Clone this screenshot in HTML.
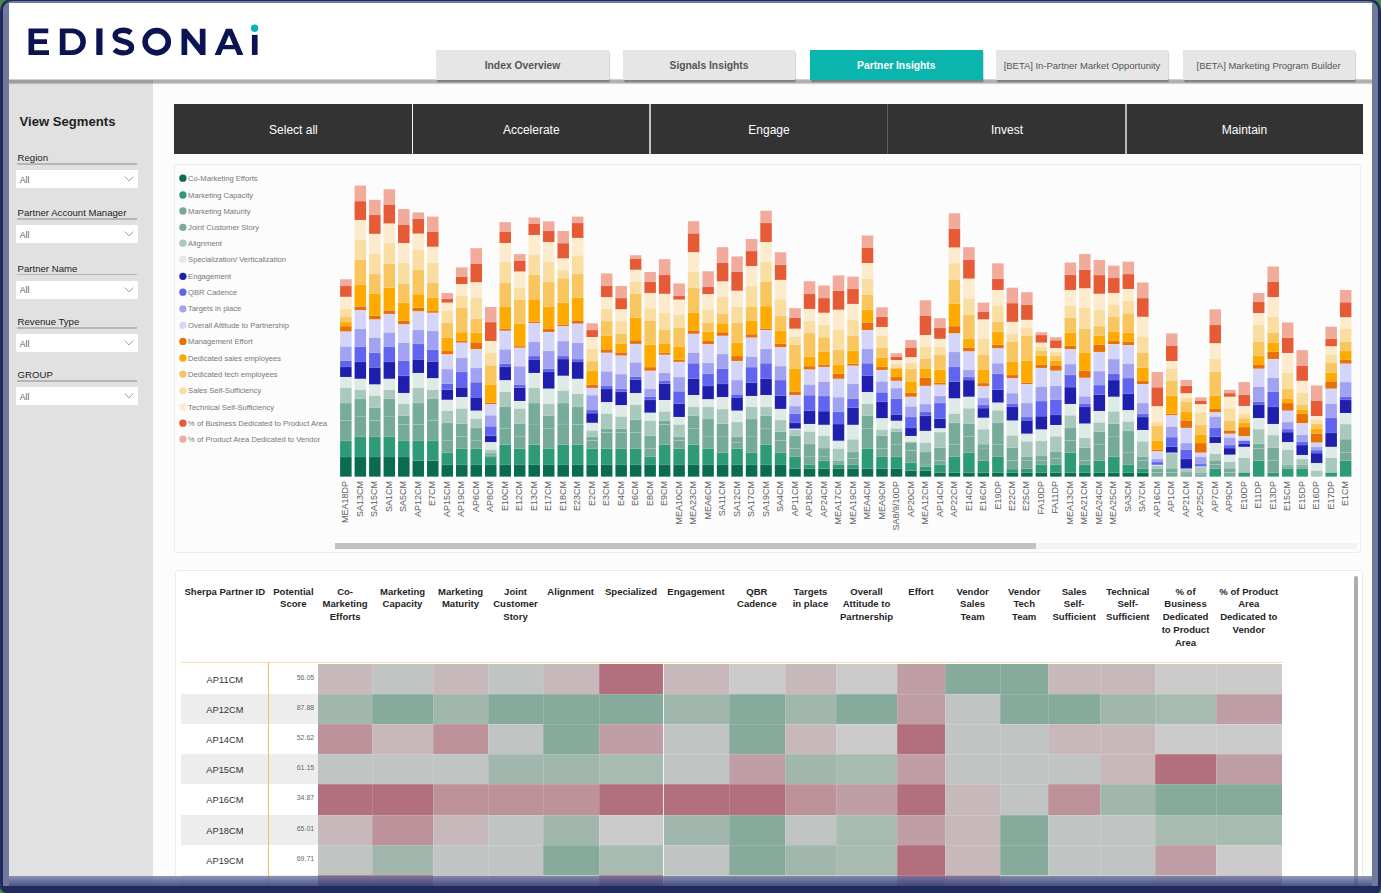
<!DOCTYPE html><html><head><meta charset="utf-8"><title>Partner Insights</title><style>
*{box-sizing:border-box}
html,body{margin:0;padding:0}
body{width:1381px;height:893px;position:relative;overflow:hidden;background:#4b8a46;font-family:"Liberation Sans",sans-serif}
.abs{position:absolute}
.tab{position:absolute;top:50px;height:30px;background:#e6e6e6;box-shadow:1.4px 2px 1.6px rgba(0,0,0,.34);text-align:center;line-height:31.4px;color:#555;white-space:nowrap}
.tab.b{font-weight:bold;font-size:10.3px}
.tab.n{font-size:9.45px;color:#555}
.lbl{position:absolute;left:17.6px;font-size:9.6px;color:#222;white-space:nowrap}
.ln{position:absolute;left:17px;width:120px;height:1.7px;background:#b6b6b6}
.dd{position:absolute;left:15.5px;width:122.6px;height:18.5px;background:#fff}
.dd span{position:absolute;left:4.2px;top:5.9px;font-size:8.7px;color:#606060;line-height:1}
.seg{position:absolute;top:103.6px;height:50.6px;color:#fff;font-size:12px;text-align:center;line-height:52px}
.lgd{position:absolute;width:7.3px;height:7.3px;border-radius:50%}
.lgt{font-size:7.6px;fill:#777;font-family:"Liberation Sans",sans-serif}
.xl{font-size:9.0px;fill:#5c5c5c;font-family:"Liberation Sans",sans-serif}
.th{position:absolute;width:120px;text-align:center;font-weight:bold;font-size:9.55px;color:#252525;white-space:nowrap;line-height:12.7px}
.pid{position:absolute;text-align:center;font-size:9.3px;color:#333;line-height:10px}
.sc{position:absolute;text-align:right;font-size:7px;color:#666;line-height:10px}
</style></head><body>
<div class="abs" style="left:0;top:0;width:1381px;height:893px;background:#212a5e;border-radius:8px 8px 5px 10px / 12px 12px 10px 10px"></div>
<div class="abs" style="left:3px;top:1px;width:1375px;height:886px;background:#727a9c;border-radius:9px 9px 6px 6px"></div>
<div class="abs" style="left:9px;top:3px;width:1363px;height:884px;background:#fcfcfc"></div>
<div class="abs" style="left:9px;top:80px;width:144px;height:807px;background:#e1e1e1"></div>
<div class="abs" style="left:9px;top:3px;width:1363px;height:77px;background:#fff"></div>
<div class="abs" style="left:9px;top:79.3px;width:1363px;height:5.6px;background:linear-gradient(to bottom,rgba(0,0,0,0) 0%,rgba(0,0,0,.3) 14%,rgba(0,0,0,.3) 62%,rgba(0,0,0,.06) 85%,rgba(0,0,0,0) 100%)"></div>
<svg style="position:absolute;left:0;top:0" width="300" height="80" viewBox="0 0 300 80">
<g fill="#0b1450">
<path d="M28.5 28.4H48.3V33.2H34.2V39.3H47.0V43.9H34.2V50.2H49.0V55.0H28.5Z"/>
<path fill-rule="evenodd" d="M59.8 28.4H72.4A13.5 13.3 0 0 1 72.4 55.0H59.8ZM65.5 33.2V50.2H72.1A8.3 8.5 0 0 0 72.1 33.2Z"/>
<rect x="96.3" y="28.4" width="6.2" height="26.6"/>
<path d="M181.5 28.7H186.6L199.8 45.0V28.7H205.5V54.9H200.4L187.2 38.6V54.9H181.5Z"/>
<path fill-rule="evenodd" d="M226.0 28.7H232.1L243.4 54.9H237.3L235.0 49.3H223.0L220.7 54.9H214.6ZM229.0 35.0L224.9 44.9H233.1Z"/>
<rect x="251.9" y="34.9" width="5.7" height="20.0"/>
</g>
<ellipse cx="156.7" cy="41.75" rx="11.6" ry="11.1" fill="none" stroke="#0b1450" stroke-width="5.6"/>
<path d="M131.0 32.9C128.9 31.2 126.3 30.3 123.4 30.3C118.4 30.3 115.2 32.4 115.2 35.6C115.2 43.1 131.5 39.6 131.5 47.4C131.5 50.7 128.3 52.9 123.3 52.9C119.7 52.9 116.5 51.6 114.4 49.6" fill="none" stroke="#0b1450" stroke-width="5.4" stroke-linejoin="round"/>
<circle cx="254.6" cy="28.3" r="3.7" fill="#0db4ad"/>
</svg>
<div class="tab b" style="left:436px;width:173px;">Index Overview</div>
<div class="tab b" style="left:623px;width:172px;">Signals Insights</div>
<div class="tab b" style="left:810px;width:172.6px;background:#0ab5ad;color:#fff;">Partner Insights</div>
<div class="tab n" style="left:996px;width:172px;">[BETA] In-Partner Market Opportunity</div>
<div class="tab n" style="left:1182.6px;width:172px;">[BETA] Marketing Program Builder</div>
<div class="abs" style="left:19.6px;top:113.5px;font-size:13.1px;font-weight:bold;color:#1f1f1f;white-space:nowrap;line-height:15px">View Segments</div>
<div class="lbl" style="top:151.8px;line-height:11px">Region</div>
<div class="ln" style="top:163.0px"></div>
<div class="dd" style="top:169.7px"><span>All</span><svg style="position:absolute;right:4.2px;top:5.6px" width="10" height="8" viewBox="0 0 10 8"><path d="M0.8 1.5L5 5.9L9.2 1.5" fill="none" stroke="#909090" stroke-width="0.9"/></svg></div>
<div class="lbl" style="top:206.7px;line-height:11px">Partner Account Manager</div>
<div class="ln" style="top:217.9px"></div>
<div class="dd" style="top:224.7px"><span>All</span><svg style="position:absolute;right:4.2px;top:5.6px" width="10" height="8" viewBox="0 0 10 8"><path d="M0.8 1.5L5 5.9L9.2 1.5" fill="none" stroke="#909090" stroke-width="0.9"/></svg></div>
<div class="lbl" style="top:262.8px;line-height:11px">Partner Name</div>
<div class="ln" style="top:273.5px"></div>
<div class="dd" style="top:280.5px"><span>All</span><svg style="position:absolute;right:4.2px;top:5.6px" width="10" height="8" viewBox="0 0 10 8"><path d="M0.8 1.5L5 5.9L9.2 1.5" fill="none" stroke="#909090" stroke-width="0.9"/></svg></div>
<div class="lbl" style="top:316.2px;line-height:11px">Revenue Type</div>
<div class="ln" style="top:327.0px"></div>
<div class="dd" style="top:333.7px"><span>All</span><svg style="position:absolute;right:4.2px;top:5.6px" width="10" height="8" viewBox="0 0 10 8"><path d="M0.8 1.5L5 5.9L9.2 1.5" fill="none" stroke="#909090" stroke-width="0.9"/></svg></div>
<div class="lbl" style="top:368.7px;line-height:11px">GROUP</div>
<div class="ln" style="top:380.3px"></div>
<div class="dd" style="top:386.7px"><span>All</span><svg style="position:absolute;right:4.2px;top:5.6px" width="10" height="8" viewBox="0 0 10 8"><path d="M0.8 1.5L5 5.9L9.2 1.5" fill="none" stroke="#909090" stroke-width="0.9"/></svg></div>
<div class="abs" style="left:174.4px;top:103.6px;width:1188.6px;height:50.7px;background:#333"></div>
<div class="seg" style="left:174.4px;width:238.1px">Select all</div>
<div class="seg" style="left:412.5px;width:237.5px">Accelerate</div>
<div class="seg" style="left:650.0px;width:238.0px">Engage</div>
<div class="seg" style="left:888.0px;width:238.0px">Invest</div>
<div class="seg" style="left:1126.0px;width:237.0px">Maintain</div>
<div class="abs" style="left:411.9px;top:103.6px;width:1.3px;height:50.7px;background:#f4f4f4"></div>
<div class="abs" style="left:649.2px;top:103.6px;width:1.6px;height:50.7px;background:#c4c4c4"></div>
<div class="abs" style="left:887.4px;top:103.6px;width:1.1px;height:50.7px;background:#5e5e5e"></div>
<div class="abs" style="left:1125.4px;top:103.6px;width:1.2px;height:50.7px;background:#b8b8b8"></div>
<div class="abs" style="left:174px;top:164.3px;width:1187px;height:388.5px;border:1px solid #ececec;border-radius:3px;background:#fcfcfc"></div>
<svg style="position:absolute;left:0;top:0" width="1381" height="893" viewBox="0 0 1381 893">
<circle cx="182.9" cy="178.20" r="3.65" fill="#0b6b4e"/>
<text x="188.1" y="180.80" class="lgt">Co-Marketing Efforts</text>
<circle cx="182.9" cy="195.00" r="3.65" fill="#2e9a77"/>
<text x="188.1" y="197.60" class="lgt">Marketing Capacity</text>
<circle cx="182.9" cy="211.00" r="3.65" fill="#76aa98"/>
<text x="188.1" y="213.60" class="lgt">Marketing Maturity</text>
<circle cx="182.9" cy="227.30" r="3.65" fill="#78ac9a"/>
<text x="188.1" y="229.90" class="lgt">Joint Customer Story</text>
<circle cx="182.9" cy="243.20" r="3.65" fill="#a9c9bd"/>
<text x="188.1" y="245.80" class="lgt">Alignment</text>
<circle cx="182.9" cy="259.20" r="3.65" fill="#deeae6"/>
<text x="188.1" y="261.80" class="lgt">Specialization/ Verticalization</text>
<circle cx="182.9" cy="276.30" r="3.65" fill="#1f1fae"/>
<text x="188.1" y="278.90" class="lgt">Engagement</text>
<circle cx="182.9" cy="292.20" r="3.65" fill="#6064ee"/>
<text x="188.1" y="294.80" class="lgt">QBR Cadence</text>
<circle cx="182.9" cy="308.80" r="3.65" fill="#a2a2f2"/>
<text x="188.1" y="311.40" class="lgt">Targets in place</text>
<circle cx="182.9" cy="325.30" r="3.65" fill="#d5d5fa"/>
<text x="188.1" y="327.90" class="lgt">Overall Attitude to Partnership</text>
<circle cx="182.9" cy="341.40" r="3.65" fill="#e87005"/>
<text x="188.1" y="344.00" class="lgt">Management Effort</text>
<circle cx="182.9" cy="358.00" r="3.65" fill="#ffaa00"/>
<text x="188.1" y="360.60" class="lgt">Dedicated sales employees</text>
<circle cx="182.9" cy="374.10" r="3.65" fill="#f8c55e"/>
<text x="188.1" y="376.70" class="lgt">Dedicated tech employees</text>
<circle cx="182.9" cy="390.80" r="3.65" fill="#faDDa0"/>
<text x="188.1" y="393.40" class="lgt">Sales Self-Sufficiency</text>
<circle cx="182.9" cy="406.90" r="3.65" fill="#fcebcc"/>
<text x="188.1" y="409.50" class="lgt">Technical Self-Sufficiency</text>
<circle cx="182.9" cy="423.20" r="3.65" fill="#e65a35"/>
<text x="188.1" y="425.80" class="lgt">% of Business Dedicated to Product Area</text>
<circle cx="182.9" cy="439.10" r="3.65" fill="#f2aa9a"/>
<text x="188.1" y="441.70" class="lgt">% of Product Area Dedicated to Vendor</text>
</svg>
<svg style="position:absolute;left:0;top:0" width="1381" height="893" viewBox="0 0 1381 893">
<rect x="340.10" y="279.29" width="11.5" height="6.55" fill="#f2aa9a"/>
<rect x="340.10" y="285.84" width="11.5" height="11.09" fill="#e65a35"/>
<rect x="340.10" y="296.92" width="11.5" height="12.09" fill="#fcebcc"/>
<rect x="340.10" y="309.02" width="11.5" height="8.06" fill="#faDDa0"/>
<rect x="340.10" y="317.08" width="11.5" height="4.87" fill="#f8c55e"/>
<rect x="340.10" y="321.95" width="11.5" height="4.20" fill="#ffaa00"/>
<rect x="340.10" y="326.15" width="11.5" height="5.54" fill="#e87005"/>
<rect x="340.10" y="331.70" width="11.5" height="14.78" fill="#d5d5fa"/>
<rect x="340.10" y="346.48" width="11.5" height="14.28" fill="#a2a2f2"/>
<rect x="340.10" y="360.75" width="11.5" height="6.22" fill="#6064ee"/>
<rect x="340.10" y="366.97" width="11.5" height="10.08" fill="#1f1fae"/>
<rect x="340.10" y="377.05" width="11.5" height="10.92" fill="#deeae6"/>
<rect x="340.10" y="387.97" width="11.5" height="15.12" fill="#a9c9bd"/>
<rect x="340.10" y="403.08" width="11.5" height="17.30" fill="#78ac9a"/>
<rect x="340.10" y="420.39" width="11.5" height="20.49" fill="#76aa98"/>
<rect x="340.10" y="440.88" width="11.5" height="16.13" fill="#2e9a77"/>
<rect x="340.10" y="457.00" width="11.5" height="19.65" fill="#0b6b4e"/>
<rect x="340.10" y="285.54" width="11.5" height="0.6" fill="#fff" opacity=".2"/>
<rect x="340.10" y="296.62" width="11.5" height="0.6" fill="#fff" opacity=".2"/>
<rect x="340.10" y="308.72" width="11.5" height="0.6" fill="#fff" opacity=".2"/>
<rect x="340.10" y="316.78" width="11.5" height="0.6" fill="#fff" opacity=".2"/>
<rect x="340.10" y="321.65" width="11.5" height="0.6" fill="#fff" opacity=".2"/>
<rect x="340.10" y="325.85" width="11.5" height="0.6" fill="#fff" opacity=".2"/>
<rect x="340.10" y="331.40" width="11.5" height="0.6" fill="#fff" opacity=".2"/>
<rect x="340.10" y="346.18" width="11.5" height="0.6" fill="#fff" opacity=".2"/>
<rect x="340.10" y="360.45" width="11.5" height="0.6" fill="#fff" opacity=".2"/>
<rect x="340.10" y="366.67" width="11.5" height="0.6" fill="#fff" opacity=".2"/>
<rect x="340.10" y="376.75" width="11.5" height="0.6" fill="#fff" opacity=".2"/>
<rect x="340.10" y="387.67" width="11.5" height="0.6" fill="#fff" opacity=".2"/>
<rect x="340.10" y="402.78" width="11.5" height="0.6" fill="#fff" opacity=".2"/>
<rect x="340.10" y="420.09" width="11.5" height="0.6" fill="#fff" opacity=".2"/>
<rect x="340.10" y="440.58" width="11.5" height="0.6" fill="#fff" opacity=".2"/>
<rect x="340.10" y="456.70" width="11.5" height="0.6" fill="#fff" opacity=".2"/>
<rect x="354.59" y="185.56" width="11.5" height="15.62" fill="#f2aa9a"/>
<rect x="354.59" y="201.18" width="11.5" height="18.81" fill="#e65a35"/>
<rect x="354.59" y="219.99" width="11.5" height="19.82" fill="#fcebcc"/>
<rect x="354.59" y="239.81" width="11.5" height="20.16" fill="#faDDa0"/>
<rect x="354.59" y="259.97" width="11.5" height="24.69" fill="#f8c55e"/>
<rect x="354.59" y="284.66" width="11.5" height="21.84" fill="#ffaa00"/>
<rect x="354.59" y="306.50" width="11.5" height="3.86" fill="#e87005"/>
<rect x="354.59" y="310.36" width="11.5" height="18.48" fill="#d5d5fa"/>
<rect x="354.59" y="328.84" width="11.5" height="17.97" fill="#a2a2f2"/>
<rect x="354.59" y="346.81" width="11.5" height="15.12" fill="#6064ee"/>
<rect x="354.59" y="361.93" width="11.5" height="16.97" fill="#1f1fae"/>
<rect x="354.59" y="378.90" width="11.5" height="10.92" fill="#deeae6"/>
<rect x="354.59" y="389.81" width="11.5" height="9.07" fill="#a9c9bd"/>
<rect x="354.59" y="398.88" width="11.5" height="17.30" fill="#78ac9a"/>
<rect x="354.59" y="416.19" width="11.5" height="20.66" fill="#76aa98"/>
<rect x="354.59" y="436.85" width="11.5" height="20.16" fill="#2e9a77"/>
<rect x="354.59" y="457.00" width="11.5" height="19.65" fill="#0b6b4e"/>
<rect x="354.59" y="200.88" width="11.5" height="0.6" fill="#fff" opacity=".2"/>
<rect x="354.59" y="219.69" width="11.5" height="0.6" fill="#fff" opacity=".2"/>
<rect x="354.59" y="239.51" width="11.5" height="0.6" fill="#fff" opacity=".2"/>
<rect x="354.59" y="259.67" width="11.5" height="0.6" fill="#fff" opacity=".2"/>
<rect x="354.59" y="284.36" width="11.5" height="0.6" fill="#fff" opacity=".2"/>
<rect x="354.59" y="306.20" width="11.5" height="0.6" fill="#fff" opacity=".2"/>
<rect x="354.59" y="310.06" width="11.5" height="0.6" fill="#fff" opacity=".2"/>
<rect x="354.59" y="328.54" width="11.5" height="0.6" fill="#fff" opacity=".2"/>
<rect x="354.59" y="346.51" width="11.5" height="0.6" fill="#fff" opacity=".2"/>
<rect x="354.59" y="361.63" width="11.5" height="0.6" fill="#fff" opacity=".2"/>
<rect x="354.59" y="378.60" width="11.5" height="0.6" fill="#fff" opacity=".2"/>
<rect x="354.59" y="389.51" width="11.5" height="0.6" fill="#fff" opacity=".2"/>
<rect x="354.59" y="398.58" width="11.5" height="0.6" fill="#fff" opacity=".2"/>
<rect x="354.59" y="415.89" width="11.5" height="0.6" fill="#fff" opacity=".2"/>
<rect x="354.59" y="436.55" width="11.5" height="0.6" fill="#fff" opacity=".2"/>
<rect x="354.59" y="456.70" width="11.5" height="0.6" fill="#fff" opacity=".2"/>
<rect x="369.08" y="199.84" width="11.5" height="15.12" fill="#f2aa9a"/>
<rect x="369.08" y="214.95" width="11.5" height="18.98" fill="#e65a35"/>
<rect x="369.08" y="233.94" width="11.5" height="19.99" fill="#fcebcc"/>
<rect x="369.08" y="253.92" width="11.5" height="20.16" fill="#faDDa0"/>
<rect x="369.08" y="274.08" width="11.5" height="19.48" fill="#f8c55e"/>
<rect x="369.08" y="293.57" width="11.5" height="22.17" fill="#ffaa00"/>
<rect x="369.08" y="315.74" width="11.5" height="3.86" fill="#e87005"/>
<rect x="369.08" y="319.60" width="11.5" height="18.14" fill="#d5d5fa"/>
<rect x="369.08" y="337.74" width="11.5" height="14.95" fill="#a2a2f2"/>
<rect x="369.08" y="352.69" width="11.5" height="14.78" fill="#6064ee"/>
<rect x="369.08" y="367.47" width="11.5" height="17.13" fill="#1f1fae"/>
<rect x="369.08" y="384.61" width="11.5" height="11.09" fill="#deeae6"/>
<rect x="369.08" y="395.69" width="11.5" height="12.09" fill="#a9c9bd"/>
<rect x="369.08" y="407.79" width="11.5" height="12.60" fill="#78ac9a"/>
<rect x="369.08" y="420.39" width="11.5" height="16.46" fill="#76aa98"/>
<rect x="369.08" y="436.85" width="11.5" height="20.16" fill="#2e9a77"/>
<rect x="369.08" y="457.00" width="11.5" height="19.65" fill="#0b6b4e"/>
<rect x="369.08" y="214.65" width="11.5" height="0.6" fill="#fff" opacity=".2"/>
<rect x="369.08" y="233.64" width="11.5" height="0.6" fill="#fff" opacity=".2"/>
<rect x="369.08" y="253.62" width="11.5" height="0.6" fill="#fff" opacity=".2"/>
<rect x="369.08" y="273.78" width="11.5" height="0.6" fill="#fff" opacity=".2"/>
<rect x="369.08" y="293.27" width="11.5" height="0.6" fill="#fff" opacity=".2"/>
<rect x="369.08" y="315.44" width="11.5" height="0.6" fill="#fff" opacity=".2"/>
<rect x="369.08" y="319.30" width="11.5" height="0.6" fill="#fff" opacity=".2"/>
<rect x="369.08" y="337.44" width="11.5" height="0.6" fill="#fff" opacity=".2"/>
<rect x="369.08" y="352.39" width="11.5" height="0.6" fill="#fff" opacity=".2"/>
<rect x="369.08" y="367.17" width="11.5" height="0.6" fill="#fff" opacity=".2"/>
<rect x="369.08" y="384.31" width="11.5" height="0.6" fill="#fff" opacity=".2"/>
<rect x="369.08" y="395.39" width="11.5" height="0.6" fill="#fff" opacity=".2"/>
<rect x="369.08" y="407.49" width="11.5" height="0.6" fill="#fff" opacity=".2"/>
<rect x="369.08" y="420.09" width="11.5" height="0.6" fill="#fff" opacity=".2"/>
<rect x="369.08" y="436.55" width="11.5" height="0.6" fill="#fff" opacity=".2"/>
<rect x="369.08" y="456.70" width="11.5" height="0.6" fill="#fff" opacity=".2"/>
<rect x="383.57" y="189.25" width="11.5" height="15.29" fill="#f2aa9a"/>
<rect x="383.57" y="204.54" width="11.5" height="19.15" fill="#e65a35"/>
<rect x="383.57" y="223.69" width="11.5" height="19.48" fill="#fcebcc"/>
<rect x="383.57" y="243.17" width="11.5" height="20.83" fill="#faDDa0"/>
<rect x="383.57" y="264.00" width="11.5" height="23.68" fill="#f8c55e"/>
<rect x="383.57" y="287.69" width="11.5" height="22.68" fill="#ffaa00"/>
<rect x="383.57" y="310.36" width="11.5" height="3.70" fill="#e87005"/>
<rect x="383.57" y="314.06" width="11.5" height="18.48" fill="#d5d5fa"/>
<rect x="383.57" y="332.54" width="11.5" height="14.28" fill="#a2a2f2"/>
<rect x="383.57" y="346.81" width="11.5" height="15.12" fill="#6064ee"/>
<rect x="383.57" y="361.93" width="11.5" height="16.97" fill="#1f1fae"/>
<rect x="383.57" y="378.90" width="11.5" height="10.92" fill="#deeae6"/>
<rect x="383.57" y="389.81" width="11.5" height="9.07" fill="#a9c9bd"/>
<rect x="383.57" y="398.88" width="11.5" height="17.30" fill="#78ac9a"/>
<rect x="383.57" y="416.19" width="11.5" height="20.66" fill="#76aa98"/>
<rect x="383.57" y="436.85" width="11.5" height="20.16" fill="#2e9a77"/>
<rect x="383.57" y="457.00" width="11.5" height="19.65" fill="#0b6b4e"/>
<rect x="383.57" y="204.24" width="11.5" height="0.6" fill="#fff" opacity=".2"/>
<rect x="383.57" y="223.39" width="11.5" height="0.6" fill="#fff" opacity=".2"/>
<rect x="383.57" y="242.87" width="11.5" height="0.6" fill="#fff" opacity=".2"/>
<rect x="383.57" y="263.70" width="11.5" height="0.6" fill="#fff" opacity=".2"/>
<rect x="383.57" y="287.39" width="11.5" height="0.6" fill="#fff" opacity=".2"/>
<rect x="383.57" y="310.06" width="11.5" height="0.6" fill="#fff" opacity=".2"/>
<rect x="383.57" y="313.76" width="11.5" height="0.6" fill="#fff" opacity=".2"/>
<rect x="383.57" y="332.24" width="11.5" height="0.6" fill="#fff" opacity=".2"/>
<rect x="383.57" y="346.51" width="11.5" height="0.6" fill="#fff" opacity=".2"/>
<rect x="383.57" y="361.63" width="11.5" height="0.6" fill="#fff" opacity=".2"/>
<rect x="383.57" y="378.60" width="11.5" height="0.6" fill="#fff" opacity=".2"/>
<rect x="383.57" y="389.51" width="11.5" height="0.6" fill="#fff" opacity=".2"/>
<rect x="383.57" y="398.58" width="11.5" height="0.6" fill="#fff" opacity=".2"/>
<rect x="383.57" y="415.89" width="11.5" height="0.6" fill="#fff" opacity=".2"/>
<rect x="383.57" y="436.55" width="11.5" height="0.6" fill="#fff" opacity=".2"/>
<rect x="383.57" y="456.70" width="11.5" height="0.6" fill="#fff" opacity=".2"/>
<rect x="398.06" y="209.08" width="11.5" height="15.62" fill="#f2aa9a"/>
<rect x="398.06" y="224.70" width="11.5" height="18.48" fill="#e65a35"/>
<rect x="398.06" y="243.17" width="11.5" height="19.65" fill="#fcebcc"/>
<rect x="398.06" y="262.83" width="11.5" height="21.00" fill="#faDDa0"/>
<rect x="398.06" y="283.82" width="11.5" height="18.81" fill="#f8c55e"/>
<rect x="398.06" y="302.64" width="11.5" height="18.14" fill="#ffaa00"/>
<rect x="398.06" y="320.78" width="11.5" height="3.70" fill="#e87005"/>
<rect x="398.06" y="324.47" width="11.5" height="18.31" fill="#d5d5fa"/>
<rect x="398.06" y="342.78" width="11.5" height="17.97" fill="#a2a2f2"/>
<rect x="398.06" y="360.75" width="11.5" height="15.12" fill="#6064ee"/>
<rect x="398.06" y="375.87" width="11.5" height="17.13" fill="#1f1fae"/>
<rect x="398.06" y="393.01" width="11.5" height="10.92" fill="#deeae6"/>
<rect x="398.06" y="403.92" width="11.5" height="11.93" fill="#a9c9bd"/>
<rect x="398.06" y="415.85" width="11.5" height="8.73" fill="#78ac9a"/>
<rect x="398.06" y="424.58" width="11.5" height="16.29" fill="#76aa98"/>
<rect x="398.06" y="440.88" width="11.5" height="16.13" fill="#2e9a77"/>
<rect x="398.06" y="457.00" width="11.5" height="19.65" fill="#0b6b4e"/>
<rect x="398.06" y="224.40" width="11.5" height="0.6" fill="#fff" opacity=".2"/>
<rect x="398.06" y="242.87" width="11.5" height="0.6" fill="#fff" opacity=".2"/>
<rect x="398.06" y="262.53" width="11.5" height="0.6" fill="#fff" opacity=".2"/>
<rect x="398.06" y="283.52" width="11.5" height="0.6" fill="#fff" opacity=".2"/>
<rect x="398.06" y="302.34" width="11.5" height="0.6" fill="#fff" opacity=".2"/>
<rect x="398.06" y="320.48" width="11.5" height="0.6" fill="#fff" opacity=".2"/>
<rect x="398.06" y="324.17" width="11.5" height="0.6" fill="#fff" opacity=".2"/>
<rect x="398.06" y="342.48" width="11.5" height="0.6" fill="#fff" opacity=".2"/>
<rect x="398.06" y="360.45" width="11.5" height="0.6" fill="#fff" opacity=".2"/>
<rect x="398.06" y="375.57" width="11.5" height="0.6" fill="#fff" opacity=".2"/>
<rect x="398.06" y="392.71" width="11.5" height="0.6" fill="#fff" opacity=".2"/>
<rect x="398.06" y="403.62" width="11.5" height="0.6" fill="#fff" opacity=".2"/>
<rect x="398.06" y="415.55" width="11.5" height="0.6" fill="#fff" opacity=".2"/>
<rect x="398.06" y="424.28" width="11.5" height="0.6" fill="#fff" opacity=".2"/>
<rect x="398.06" y="440.58" width="11.5" height="0.6" fill="#fff" opacity=".2"/>
<rect x="398.06" y="456.70" width="11.5" height="0.6" fill="#fff" opacity=".2"/>
<rect x="412.55" y="212.43" width="11.5" height="6.38" fill="#f2aa9a"/>
<rect x="412.55" y="218.82" width="11.5" height="14.95" fill="#e65a35"/>
<rect x="412.55" y="233.77" width="11.5" height="16.13" fill="#fcebcc"/>
<rect x="412.55" y="249.89" width="11.5" height="20.16" fill="#faDDa0"/>
<rect x="412.55" y="270.05" width="11.5" height="24.19" fill="#f8c55e"/>
<rect x="412.55" y="294.24" width="11.5" height="13.44" fill="#ffaa00"/>
<rect x="412.55" y="307.68" width="11.5" height="3.86" fill="#e87005"/>
<rect x="412.55" y="311.54" width="11.5" height="18.48" fill="#d5d5fa"/>
<rect x="412.55" y="330.02" width="11.5" height="13.94" fill="#a2a2f2"/>
<rect x="412.55" y="343.96" width="11.5" height="15.45" fill="#6064ee"/>
<rect x="412.55" y="359.41" width="11.5" height="13.61" fill="#1f1fae"/>
<rect x="412.55" y="373.02" width="11.5" height="14.95" fill="#deeae6"/>
<rect x="412.55" y="387.97" width="11.5" height="15.12" fill="#a9c9bd"/>
<rect x="412.55" y="403.08" width="11.5" height="21.50" fill="#78ac9a"/>
<rect x="412.55" y="424.58" width="11.5" height="16.29" fill="#76aa98"/>
<rect x="412.55" y="440.88" width="11.5" height="19.82" fill="#2e9a77"/>
<rect x="412.55" y="460.70" width="11.5" height="15.96" fill="#0b6b4e"/>
<rect x="412.55" y="218.52" width="11.5" height="0.6" fill="#fff" opacity=".2"/>
<rect x="412.55" y="233.47" width="11.5" height="0.6" fill="#fff" opacity=".2"/>
<rect x="412.55" y="249.59" width="11.5" height="0.6" fill="#fff" opacity=".2"/>
<rect x="412.55" y="269.75" width="11.5" height="0.6" fill="#fff" opacity=".2"/>
<rect x="412.55" y="293.94" width="11.5" height="0.6" fill="#fff" opacity=".2"/>
<rect x="412.55" y="307.38" width="11.5" height="0.6" fill="#fff" opacity=".2"/>
<rect x="412.55" y="311.24" width="11.5" height="0.6" fill="#fff" opacity=".2"/>
<rect x="412.55" y="329.72" width="11.5" height="0.6" fill="#fff" opacity=".2"/>
<rect x="412.55" y="343.66" width="11.5" height="0.6" fill="#fff" opacity=".2"/>
<rect x="412.55" y="359.11" width="11.5" height="0.6" fill="#fff" opacity=".2"/>
<rect x="412.55" y="372.72" width="11.5" height="0.6" fill="#fff" opacity=".2"/>
<rect x="412.55" y="387.67" width="11.5" height="0.6" fill="#fff" opacity=".2"/>
<rect x="412.55" y="402.78" width="11.5" height="0.6" fill="#fff" opacity=".2"/>
<rect x="412.55" y="424.28" width="11.5" height="0.6" fill="#fff" opacity=".2"/>
<rect x="412.55" y="440.58" width="11.5" height="0.6" fill="#fff" opacity=".2"/>
<rect x="412.55" y="460.40" width="11.5" height="0.6" fill="#fff" opacity=".2"/>
<rect x="427.04" y="216.63" width="11.5" height="15.12" fill="#f2aa9a"/>
<rect x="427.04" y="231.75" width="11.5" height="15.12" fill="#e65a35"/>
<rect x="427.04" y="246.87" width="11.5" height="15.96" fill="#fcebcc"/>
<rect x="427.04" y="262.83" width="11.5" height="20.16" fill="#faDDa0"/>
<rect x="427.04" y="282.98" width="11.5" height="14.61" fill="#f8c55e"/>
<rect x="427.04" y="297.60" width="11.5" height="13.44" fill="#ffaa00"/>
<rect x="427.04" y="311.03" width="11.5" height="1.85" fill="#e87005"/>
<rect x="427.04" y="312.88" width="11.5" height="18.14" fill="#d5d5fa"/>
<rect x="427.04" y="331.02" width="11.5" height="18.81" fill="#a2a2f2"/>
<rect x="427.04" y="349.84" width="11.5" height="11.76" fill="#6064ee"/>
<rect x="427.04" y="361.59" width="11.5" height="16.80" fill="#1f1fae"/>
<rect x="427.04" y="378.39" width="11.5" height="11.42" fill="#deeae6"/>
<rect x="427.04" y="389.81" width="11.5" height="9.07" fill="#a9c9bd"/>
<rect x="427.04" y="398.88" width="11.5" height="21.50" fill="#78ac9a"/>
<rect x="427.04" y="420.39" width="11.5" height="20.49" fill="#76aa98"/>
<rect x="427.04" y="440.88" width="11.5" height="19.82" fill="#2e9a77"/>
<rect x="427.04" y="460.70" width="11.5" height="15.96" fill="#0b6b4e"/>
<rect x="427.04" y="231.45" width="11.5" height="0.6" fill="#fff" opacity=".2"/>
<rect x="427.04" y="246.57" width="11.5" height="0.6" fill="#fff" opacity=".2"/>
<rect x="427.04" y="262.53" width="11.5" height="0.6" fill="#fff" opacity=".2"/>
<rect x="427.04" y="282.68" width="11.5" height="0.6" fill="#fff" opacity=".2"/>
<rect x="427.04" y="297.30" width="11.5" height="0.6" fill="#fff" opacity=".2"/>
<rect x="427.04" y="310.73" width="11.5" height="0.6" fill="#fff" opacity=".2"/>
<rect x="427.04" y="312.58" width="11.5" height="0.6" fill="#fff" opacity=".2"/>
<rect x="427.04" y="330.72" width="11.5" height="0.6" fill="#fff" opacity=".2"/>
<rect x="427.04" y="349.54" width="11.5" height="0.6" fill="#fff" opacity=".2"/>
<rect x="427.04" y="361.29" width="11.5" height="0.6" fill="#fff" opacity=".2"/>
<rect x="427.04" y="378.09" width="11.5" height="0.6" fill="#fff" opacity=".2"/>
<rect x="427.04" y="389.51" width="11.5" height="0.6" fill="#fff" opacity=".2"/>
<rect x="427.04" y="398.58" width="11.5" height="0.6" fill="#fff" opacity=".2"/>
<rect x="427.04" y="420.09" width="11.5" height="0.6" fill="#fff" opacity=".2"/>
<rect x="427.04" y="440.58" width="11.5" height="0.6" fill="#fff" opacity=".2"/>
<rect x="427.04" y="460.40" width="11.5" height="0.6" fill="#fff" opacity=".2"/>
<rect x="441.53" y="293.06" width="11.5" height="5.88" fill="#f2aa9a"/>
<rect x="441.53" y="298.94" width="11.5" height="3.86" fill="#e65a35"/>
<rect x="441.53" y="302.80" width="11.5" height="8.23" fill="#fcebcc"/>
<rect x="441.53" y="311.03" width="11.5" height="11.93" fill="#faDDa0"/>
<rect x="441.53" y="322.96" width="11.5" height="14.78" fill="#f8c55e"/>
<rect x="441.53" y="337.74" width="11.5" height="13.27" fill="#ffaa00"/>
<rect x="441.53" y="351.01" width="11.5" height="3.53" fill="#e87005"/>
<rect x="441.53" y="354.54" width="11.5" height="14.61" fill="#d5d5fa"/>
<rect x="441.53" y="369.15" width="11.5" height="14.61" fill="#a2a2f2"/>
<rect x="441.53" y="383.77" width="11.5" height="5.88" fill="#6064ee"/>
<rect x="441.53" y="389.65" width="11.5" height="10.25" fill="#1f1fae"/>
<rect x="441.53" y="399.89" width="11.5" height="10.92" fill="#deeae6"/>
<rect x="441.53" y="410.81" width="11.5" height="12.09" fill="#a9c9bd"/>
<rect x="441.53" y="422.90" width="11.5" height="17.30" fill="#78ac9a"/>
<rect x="441.53" y="440.21" width="11.5" height="12.60" fill="#76aa98"/>
<rect x="441.53" y="452.80" width="11.5" height="12.09" fill="#2e9a77"/>
<rect x="441.53" y="464.90" width="11.5" height="11.76" fill="#0b6b4e"/>
<rect x="441.53" y="298.64" width="11.5" height="0.6" fill="#fff" opacity=".2"/>
<rect x="441.53" y="302.50" width="11.5" height="0.6" fill="#fff" opacity=".2"/>
<rect x="441.53" y="310.73" width="11.5" height="0.6" fill="#fff" opacity=".2"/>
<rect x="441.53" y="322.66" width="11.5" height="0.6" fill="#fff" opacity=".2"/>
<rect x="441.53" y="337.44" width="11.5" height="0.6" fill="#fff" opacity=".2"/>
<rect x="441.53" y="350.71" width="11.5" height="0.6" fill="#fff" opacity=".2"/>
<rect x="441.53" y="354.24" width="11.5" height="0.6" fill="#fff" opacity=".2"/>
<rect x="441.53" y="368.85" width="11.5" height="0.6" fill="#fff" opacity=".2"/>
<rect x="441.53" y="383.47" width="11.5" height="0.6" fill="#fff" opacity=".2"/>
<rect x="441.53" y="389.35" width="11.5" height="0.6" fill="#fff" opacity=".2"/>
<rect x="441.53" y="399.59" width="11.5" height="0.6" fill="#fff" opacity=".2"/>
<rect x="441.53" y="410.51" width="11.5" height="0.6" fill="#fff" opacity=".2"/>
<rect x="441.53" y="422.60" width="11.5" height="0.6" fill="#fff" opacity=".2"/>
<rect x="441.53" y="439.91" width="11.5" height="0.6" fill="#fff" opacity=".2"/>
<rect x="441.53" y="452.50" width="11.5" height="0.6" fill="#fff" opacity=".2"/>
<rect x="441.53" y="464.60" width="11.5" height="0.6" fill="#fff" opacity=".2"/>
<rect x="456.02" y="267.36" width="11.5" height="9.41" fill="#f2aa9a"/>
<rect x="456.02" y="276.77" width="11.5" height="7.39" fill="#e65a35"/>
<rect x="456.02" y="284.16" width="11.5" height="11.76" fill="#fcebcc"/>
<rect x="456.02" y="295.92" width="11.5" height="11.76" fill="#faDDa0"/>
<rect x="456.02" y="307.68" width="11.5" height="24.52" fill="#f8c55e"/>
<rect x="456.02" y="332.20" width="11.5" height="8.73" fill="#ffaa00"/>
<rect x="456.02" y="340.93" width="11.5" height="1.85" fill="#e87005"/>
<rect x="456.02" y="342.78" width="11.5" height="15.12" fill="#d5d5fa"/>
<rect x="456.02" y="357.90" width="11.5" height="14.11" fill="#a2a2f2"/>
<rect x="456.02" y="372.01" width="11.5" height="15.29" fill="#6064ee"/>
<rect x="456.02" y="387.29" width="11.5" height="9.91" fill="#1f1fae"/>
<rect x="456.02" y="397.20" width="11.5" height="11.42" fill="#deeae6"/>
<rect x="456.02" y="408.63" width="11.5" height="15.12" fill="#a9c9bd"/>
<rect x="456.02" y="423.74" width="11.5" height="12.60" fill="#78ac9a"/>
<rect x="456.02" y="436.34" width="11.5" height="12.26" fill="#76aa98"/>
<rect x="456.02" y="448.60" width="11.5" height="16.29" fill="#2e9a77"/>
<rect x="456.02" y="464.90" width="11.5" height="11.76" fill="#0b6b4e"/>
<rect x="456.02" y="276.47" width="11.5" height="0.6" fill="#fff" opacity=".2"/>
<rect x="456.02" y="283.86" width="11.5" height="0.6" fill="#fff" opacity=".2"/>
<rect x="456.02" y="295.62" width="11.5" height="0.6" fill="#fff" opacity=".2"/>
<rect x="456.02" y="307.38" width="11.5" height="0.6" fill="#fff" opacity=".2"/>
<rect x="456.02" y="331.90" width="11.5" height="0.6" fill="#fff" opacity=".2"/>
<rect x="456.02" y="340.63" width="11.5" height="0.6" fill="#fff" opacity=".2"/>
<rect x="456.02" y="342.48" width="11.5" height="0.6" fill="#fff" opacity=".2"/>
<rect x="456.02" y="357.60" width="11.5" height="0.6" fill="#fff" opacity=".2"/>
<rect x="456.02" y="371.71" width="11.5" height="0.6" fill="#fff" opacity=".2"/>
<rect x="456.02" y="386.99" width="11.5" height="0.6" fill="#fff" opacity=".2"/>
<rect x="456.02" y="396.90" width="11.5" height="0.6" fill="#fff" opacity=".2"/>
<rect x="456.02" y="408.33" width="11.5" height="0.6" fill="#fff" opacity=".2"/>
<rect x="456.02" y="423.44" width="11.5" height="0.6" fill="#fff" opacity=".2"/>
<rect x="456.02" y="436.04" width="11.5" height="0.6" fill="#fff" opacity=".2"/>
<rect x="456.02" y="448.30" width="11.5" height="0.6" fill="#fff" opacity=".2"/>
<rect x="456.02" y="464.60" width="11.5" height="0.6" fill="#fff" opacity=".2"/>
<rect x="470.51" y="248.21" width="11.5" height="15.45" fill="#f2aa9a"/>
<rect x="470.51" y="263.67" width="11.5" height="18.81" fill="#e65a35"/>
<rect x="470.51" y="282.48" width="11.5" height="15.29" fill="#fcebcc"/>
<rect x="470.51" y="297.76" width="11.5" height="21.00" fill="#faDDa0"/>
<rect x="470.51" y="318.76" width="11.5" height="13.94" fill="#f8c55e"/>
<rect x="470.51" y="332.70" width="11.5" height="9.57" fill="#ffaa00"/>
<rect x="470.51" y="342.28" width="11.5" height="7.05" fill="#e87005"/>
<rect x="470.51" y="349.33" width="11.5" height="18.65" fill="#d5d5fa"/>
<rect x="470.51" y="367.98" width="11.5" height="14.28" fill="#a2a2f2"/>
<rect x="470.51" y="382.26" width="11.5" height="15.12" fill="#6064ee"/>
<rect x="470.51" y="397.37" width="11.5" height="13.44" fill="#1f1fae"/>
<rect x="470.51" y="410.81" width="11.5" height="7.89" fill="#deeae6"/>
<rect x="470.51" y="418.71" width="11.5" height="9.24" fill="#a9c9bd"/>
<rect x="470.51" y="427.94" width="11.5" height="12.26" fill="#78ac9a"/>
<rect x="470.51" y="440.21" width="11.5" height="8.40" fill="#76aa98"/>
<rect x="470.51" y="448.60" width="11.5" height="16.29" fill="#2e9a77"/>
<rect x="470.51" y="464.90" width="11.5" height="11.76" fill="#0b6b4e"/>
<rect x="470.51" y="263.37" width="11.5" height="0.6" fill="#fff" opacity=".2"/>
<rect x="470.51" y="282.18" width="11.5" height="0.6" fill="#fff" opacity=".2"/>
<rect x="470.51" y="297.46" width="11.5" height="0.6" fill="#fff" opacity=".2"/>
<rect x="470.51" y="318.46" width="11.5" height="0.6" fill="#fff" opacity=".2"/>
<rect x="470.51" y="332.40" width="11.5" height="0.6" fill="#fff" opacity=".2"/>
<rect x="470.51" y="341.98" width="11.5" height="0.6" fill="#fff" opacity=".2"/>
<rect x="470.51" y="349.03" width="11.5" height="0.6" fill="#fff" opacity=".2"/>
<rect x="470.51" y="367.68" width="11.5" height="0.6" fill="#fff" opacity=".2"/>
<rect x="470.51" y="381.96" width="11.5" height="0.6" fill="#fff" opacity=".2"/>
<rect x="470.51" y="397.07" width="11.5" height="0.6" fill="#fff" opacity=".2"/>
<rect x="470.51" y="410.51" width="11.5" height="0.6" fill="#fff" opacity=".2"/>
<rect x="470.51" y="418.41" width="11.5" height="0.6" fill="#fff" opacity=".2"/>
<rect x="470.51" y="427.64" width="11.5" height="0.6" fill="#fff" opacity=".2"/>
<rect x="470.51" y="439.91" width="11.5" height="0.6" fill="#fff" opacity=".2"/>
<rect x="470.51" y="448.30" width="11.5" height="0.6" fill="#fff" opacity=".2"/>
<rect x="470.51" y="464.60" width="11.5" height="0.6" fill="#fff" opacity=".2"/>
<rect x="485.00" y="307.00" width="11.5" height="15.12" fill="#f2aa9a"/>
<rect x="485.00" y="322.12" width="11.5" height="18.98" fill="#e65a35"/>
<rect x="485.00" y="341.10" width="11.5" height="11.76" fill="#fcebcc"/>
<rect x="485.00" y="352.86" width="11.5" height="12.43" fill="#faDDa0"/>
<rect x="485.00" y="365.29" width="11.5" height="19.32" fill="#f8c55e"/>
<rect x="485.00" y="384.61" width="11.5" height="18.14" fill="#ffaa00"/>
<rect x="485.00" y="402.75" width="11.5" height="1.68" fill="#e87005"/>
<rect x="485.00" y="404.43" width="11.5" height="10.92" fill="#d5d5fa"/>
<rect x="485.00" y="415.35" width="11.5" height="10.92" fill="#a2a2f2"/>
<rect x="485.00" y="426.26" width="11.5" height="9.57" fill="#6064ee"/>
<rect x="485.00" y="435.84" width="11.5" height="6.38" fill="#1f1fae"/>
<rect x="485.00" y="442.22" width="11.5" height="7.56" fill="#deeae6"/>
<rect x="485.00" y="449.78" width="11.5" height="3.36" fill="#a9c9bd"/>
<rect x="485.00" y="453.14" width="11.5" height="2.02" fill="#78ac9a"/>
<rect x="485.00" y="455.16" width="11.5" height="1.85" fill="#76aa98"/>
<rect x="485.00" y="457.00" width="11.5" height="7.89" fill="#2e9a77"/>
<rect x="485.00" y="464.90" width="11.5" height="11.76" fill="#0b6b4e"/>
<rect x="485.00" y="321.82" width="11.5" height="0.6" fill="#fff" opacity=".2"/>
<rect x="485.00" y="340.80" width="11.5" height="0.6" fill="#fff" opacity=".2"/>
<rect x="485.00" y="352.56" width="11.5" height="0.6" fill="#fff" opacity=".2"/>
<rect x="485.00" y="364.99" width="11.5" height="0.6" fill="#fff" opacity=".2"/>
<rect x="485.00" y="384.31" width="11.5" height="0.6" fill="#fff" opacity=".2"/>
<rect x="485.00" y="402.45" width="11.5" height="0.6" fill="#fff" opacity=".2"/>
<rect x="485.00" y="404.13" width="11.5" height="0.6" fill="#fff" opacity=".2"/>
<rect x="485.00" y="415.05" width="11.5" height="0.6" fill="#fff" opacity=".2"/>
<rect x="485.00" y="425.96" width="11.5" height="0.6" fill="#fff" opacity=".2"/>
<rect x="485.00" y="435.54" width="11.5" height="0.6" fill="#fff" opacity=".2"/>
<rect x="485.00" y="441.92" width="11.5" height="0.6" fill="#fff" opacity=".2"/>
<rect x="485.00" y="449.48" width="11.5" height="0.6" fill="#fff" opacity=".2"/>
<rect x="485.00" y="452.84" width="11.5" height="0.6" fill="#fff" opacity=".2"/>
<rect x="485.00" y="454.86" width="11.5" height="0.6" fill="#fff" opacity=".2"/>
<rect x="485.00" y="456.70" width="11.5" height="0.6" fill="#fff" opacity=".2"/>
<rect x="485.00" y="464.60" width="11.5" height="0.6" fill="#fff" opacity=".2"/>
<rect x="499.49" y="222.18" width="11.5" height="9.57" fill="#f2aa9a"/>
<rect x="499.49" y="231.75" width="11.5" height="11.25" fill="#e65a35"/>
<rect x="499.49" y="243.01" width="11.5" height="18.98" fill="#fcebcc"/>
<rect x="499.49" y="261.99" width="11.5" height="21.00" fill="#faDDa0"/>
<rect x="499.49" y="282.98" width="11.5" height="23.85" fill="#f8c55e"/>
<rect x="499.49" y="306.84" width="11.5" height="22.00" fill="#ffaa00"/>
<rect x="499.49" y="328.84" width="11.5" height="2.02" fill="#e87005"/>
<rect x="499.49" y="330.86" width="11.5" height="18.48" fill="#d5d5fa"/>
<rect x="499.49" y="349.33" width="11.5" height="14.45" fill="#a2a2f2"/>
<rect x="499.49" y="363.78" width="11.5" height="3.19" fill="#6064ee"/>
<rect x="499.49" y="366.97" width="11.5" height="13.44" fill="#1f1fae"/>
<rect x="499.49" y="380.41" width="11.5" height="11.42" fill="#deeae6"/>
<rect x="499.49" y="391.83" width="11.5" height="15.12" fill="#a9c9bd"/>
<rect x="499.49" y="406.95" width="11.5" height="21.33" fill="#78ac9a"/>
<rect x="499.49" y="428.28" width="11.5" height="16.46" fill="#76aa98"/>
<rect x="499.49" y="444.74" width="11.5" height="20.16" fill="#2e9a77"/>
<rect x="499.49" y="464.90" width="11.5" height="11.76" fill="#0b6b4e"/>
<rect x="499.49" y="231.45" width="11.5" height="0.6" fill="#fff" opacity=".2"/>
<rect x="499.49" y="242.71" width="11.5" height="0.6" fill="#fff" opacity=".2"/>
<rect x="499.49" y="261.69" width="11.5" height="0.6" fill="#fff" opacity=".2"/>
<rect x="499.49" y="282.68" width="11.5" height="0.6" fill="#fff" opacity=".2"/>
<rect x="499.49" y="306.54" width="11.5" height="0.6" fill="#fff" opacity=".2"/>
<rect x="499.49" y="328.54" width="11.5" height="0.6" fill="#fff" opacity=".2"/>
<rect x="499.49" y="330.56" width="11.5" height="0.6" fill="#fff" opacity=".2"/>
<rect x="499.49" y="349.03" width="11.5" height="0.6" fill="#fff" opacity=".2"/>
<rect x="499.49" y="363.48" width="11.5" height="0.6" fill="#fff" opacity=".2"/>
<rect x="499.49" y="366.67" width="11.5" height="0.6" fill="#fff" opacity=".2"/>
<rect x="499.49" y="380.11" width="11.5" height="0.6" fill="#fff" opacity=".2"/>
<rect x="499.49" y="391.53" width="11.5" height="0.6" fill="#fff" opacity=".2"/>
<rect x="499.49" y="406.65" width="11.5" height="0.6" fill="#fff" opacity=".2"/>
<rect x="499.49" y="427.98" width="11.5" height="0.6" fill="#fff" opacity=".2"/>
<rect x="499.49" y="444.44" width="11.5" height="0.6" fill="#fff" opacity=".2"/>
<rect x="499.49" y="464.60" width="11.5" height="0.6" fill="#fff" opacity=".2"/>
<rect x="513.98" y="254.09" width="11.5" height="6.55" fill="#f2aa9a"/>
<rect x="513.98" y="260.64" width="11.5" height="11.09" fill="#e65a35"/>
<rect x="513.98" y="271.73" width="11.5" height="15.79" fill="#fcebcc"/>
<rect x="513.98" y="287.52" width="11.5" height="12.26" fill="#faDDa0"/>
<rect x="513.98" y="299.78" width="11.5" height="24.02" fill="#f8c55e"/>
<rect x="513.98" y="323.80" width="11.5" height="22.34" fill="#ffaa00"/>
<rect x="513.98" y="346.14" width="11.5" height="1.68" fill="#e87005"/>
<rect x="513.98" y="347.82" width="11.5" height="18.48" fill="#d5d5fa"/>
<rect x="513.98" y="366.30" width="11.5" height="18.31" fill="#a2a2f2"/>
<rect x="513.98" y="384.61" width="11.5" height="3.02" fill="#6064ee"/>
<rect x="513.98" y="387.63" width="11.5" height="13.44" fill="#1f1fae"/>
<rect x="513.98" y="401.07" width="11.5" height="7.56" fill="#deeae6"/>
<rect x="513.98" y="408.63" width="11.5" height="15.12" fill="#a9c9bd"/>
<rect x="513.98" y="423.74" width="11.5" height="12.60" fill="#78ac9a"/>
<rect x="513.98" y="436.34" width="11.5" height="12.26" fill="#76aa98"/>
<rect x="513.98" y="448.60" width="11.5" height="16.29" fill="#2e9a77"/>
<rect x="513.98" y="464.90" width="11.5" height="11.76" fill="#0b6b4e"/>
<rect x="513.98" y="260.34" width="11.5" height="0.6" fill="#fff" opacity=".2"/>
<rect x="513.98" y="271.43" width="11.5" height="0.6" fill="#fff" opacity=".2"/>
<rect x="513.98" y="287.22" width="11.5" height="0.6" fill="#fff" opacity=".2"/>
<rect x="513.98" y="299.48" width="11.5" height="0.6" fill="#fff" opacity=".2"/>
<rect x="513.98" y="323.50" width="11.5" height="0.6" fill="#fff" opacity=".2"/>
<rect x="513.98" y="345.84" width="11.5" height="0.6" fill="#fff" opacity=".2"/>
<rect x="513.98" y="347.52" width="11.5" height="0.6" fill="#fff" opacity=".2"/>
<rect x="513.98" y="366.00" width="11.5" height="0.6" fill="#fff" opacity=".2"/>
<rect x="513.98" y="384.31" width="11.5" height="0.6" fill="#fff" opacity=".2"/>
<rect x="513.98" y="387.33" width="11.5" height="0.6" fill="#fff" opacity=".2"/>
<rect x="513.98" y="400.77" width="11.5" height="0.6" fill="#fff" opacity=".2"/>
<rect x="513.98" y="408.33" width="11.5" height="0.6" fill="#fff" opacity=".2"/>
<rect x="513.98" y="423.44" width="11.5" height="0.6" fill="#fff" opacity=".2"/>
<rect x="513.98" y="436.04" width="11.5" height="0.6" fill="#fff" opacity=".2"/>
<rect x="513.98" y="448.30" width="11.5" height="0.6" fill="#fff" opacity=".2"/>
<rect x="513.98" y="464.60" width="11.5" height="0.6" fill="#fff" opacity=".2"/>
<rect x="528.47" y="217.47" width="11.5" height="6.22" fill="#f2aa9a"/>
<rect x="528.47" y="223.69" width="11.5" height="11.42" fill="#e65a35"/>
<rect x="528.47" y="235.11" width="11.5" height="19.82" fill="#fcebcc"/>
<rect x="528.47" y="254.93" width="11.5" height="19.99" fill="#faDDa0"/>
<rect x="528.47" y="274.92" width="11.5" height="24.36" fill="#f8c55e"/>
<rect x="528.47" y="299.28" width="11.5" height="22.34" fill="#ffaa00"/>
<rect x="528.47" y="321.62" width="11.5" height="1.68" fill="#e87005"/>
<rect x="528.47" y="323.30" width="11.5" height="18.65" fill="#d5d5fa"/>
<rect x="528.47" y="341.94" width="11.5" height="14.11" fill="#a2a2f2"/>
<rect x="528.47" y="356.05" width="11.5" height="3.36" fill="#6064ee"/>
<rect x="528.47" y="359.41" width="11.5" height="13.61" fill="#1f1fae"/>
<rect x="528.47" y="373.02" width="11.5" height="14.95" fill="#deeae6"/>
<rect x="528.47" y="387.97" width="11.5" height="15.12" fill="#a9c9bd"/>
<rect x="528.47" y="403.08" width="11.5" height="21.00" fill="#78ac9a"/>
<rect x="528.47" y="424.08" width="11.5" height="20.66" fill="#76aa98"/>
<rect x="528.47" y="444.74" width="11.5" height="20.16" fill="#2e9a77"/>
<rect x="528.47" y="464.90" width="11.5" height="11.76" fill="#0b6b4e"/>
<rect x="528.47" y="223.39" width="11.5" height="0.6" fill="#fff" opacity=".2"/>
<rect x="528.47" y="234.81" width="11.5" height="0.6" fill="#fff" opacity=".2"/>
<rect x="528.47" y="254.63" width="11.5" height="0.6" fill="#fff" opacity=".2"/>
<rect x="528.47" y="274.62" width="11.5" height="0.6" fill="#fff" opacity=".2"/>
<rect x="528.47" y="298.98" width="11.5" height="0.6" fill="#fff" opacity=".2"/>
<rect x="528.47" y="321.32" width="11.5" height="0.6" fill="#fff" opacity=".2"/>
<rect x="528.47" y="323.00" width="11.5" height="0.6" fill="#fff" opacity=".2"/>
<rect x="528.47" y="341.64" width="11.5" height="0.6" fill="#fff" opacity=".2"/>
<rect x="528.47" y="355.75" width="11.5" height="0.6" fill="#fff" opacity=".2"/>
<rect x="528.47" y="359.11" width="11.5" height="0.6" fill="#fff" opacity=".2"/>
<rect x="528.47" y="372.72" width="11.5" height="0.6" fill="#fff" opacity=".2"/>
<rect x="528.47" y="387.67" width="11.5" height="0.6" fill="#fff" opacity=".2"/>
<rect x="528.47" y="402.78" width="11.5" height="0.6" fill="#fff" opacity=".2"/>
<rect x="528.47" y="423.78" width="11.5" height="0.6" fill="#fff" opacity=".2"/>
<rect x="528.47" y="444.44" width="11.5" height="0.6" fill="#fff" opacity=".2"/>
<rect x="528.47" y="464.60" width="11.5" height="0.6" fill="#fff" opacity=".2"/>
<rect x="542.96" y="221.34" width="11.5" height="9.57" fill="#f2aa9a"/>
<rect x="542.96" y="230.91" width="11.5" height="11.25" fill="#e65a35"/>
<rect x="542.96" y="242.17" width="11.5" height="19.82" fill="#fcebcc"/>
<rect x="542.96" y="261.99" width="11.5" height="19.82" fill="#faDDa0"/>
<rect x="542.96" y="281.81" width="11.5" height="24.69" fill="#f8c55e"/>
<rect x="542.96" y="306.50" width="11.5" height="22.34" fill="#ffaa00"/>
<rect x="542.96" y="328.84" width="11.5" height="3.36" fill="#e87005"/>
<rect x="542.96" y="332.20" width="11.5" height="18.81" fill="#d5d5fa"/>
<rect x="542.96" y="351.01" width="11.5" height="17.81" fill="#a2a2f2"/>
<rect x="542.96" y="368.82" width="11.5" height="3.19" fill="#6064ee"/>
<rect x="542.96" y="372.01" width="11.5" height="16.80" fill="#1f1fae"/>
<rect x="542.96" y="388.81" width="11.5" height="15.12" fill="#deeae6"/>
<rect x="542.96" y="403.92" width="11.5" height="11.93" fill="#a9c9bd"/>
<rect x="542.96" y="415.85" width="11.5" height="12.43" fill="#78ac9a"/>
<rect x="542.96" y="428.28" width="11.5" height="20.32" fill="#76aa98"/>
<rect x="542.96" y="448.60" width="11.5" height="16.29" fill="#2e9a77"/>
<rect x="542.96" y="464.90" width="11.5" height="11.76" fill="#0b6b4e"/>
<rect x="542.96" y="230.61" width="11.5" height="0.6" fill="#fff" opacity=".2"/>
<rect x="542.96" y="241.87" width="11.5" height="0.6" fill="#fff" opacity=".2"/>
<rect x="542.96" y="261.69" width="11.5" height="0.6" fill="#fff" opacity=".2"/>
<rect x="542.96" y="281.51" width="11.5" height="0.6" fill="#fff" opacity=".2"/>
<rect x="542.96" y="306.20" width="11.5" height="0.6" fill="#fff" opacity=".2"/>
<rect x="542.96" y="328.54" width="11.5" height="0.6" fill="#fff" opacity=".2"/>
<rect x="542.96" y="331.90" width="11.5" height="0.6" fill="#fff" opacity=".2"/>
<rect x="542.96" y="350.71" width="11.5" height="0.6" fill="#fff" opacity=".2"/>
<rect x="542.96" y="368.52" width="11.5" height="0.6" fill="#fff" opacity=".2"/>
<rect x="542.96" y="371.71" width="11.5" height="0.6" fill="#fff" opacity=".2"/>
<rect x="542.96" y="388.51" width="11.5" height="0.6" fill="#fff" opacity=".2"/>
<rect x="542.96" y="403.62" width="11.5" height="0.6" fill="#fff" opacity=".2"/>
<rect x="542.96" y="415.55" width="11.5" height="0.6" fill="#fff" opacity=".2"/>
<rect x="542.96" y="427.98" width="11.5" height="0.6" fill="#fff" opacity=".2"/>
<rect x="542.96" y="448.30" width="11.5" height="0.6" fill="#fff" opacity=".2"/>
<rect x="542.96" y="464.60" width="11.5" height="0.6" fill="#fff" opacity=".2"/>
<rect x="557.45" y="230.91" width="11.5" height="12.26" fill="#f2aa9a"/>
<rect x="557.45" y="243.17" width="11.5" height="15.45" fill="#e65a35"/>
<rect x="557.45" y="258.63" width="11.5" height="11.42" fill="#fcebcc"/>
<rect x="557.45" y="270.05" width="11.5" height="8.23" fill="#faDDa0"/>
<rect x="557.45" y="278.28" width="11.5" height="24.52" fill="#f8c55e"/>
<rect x="557.45" y="302.80" width="11.5" height="21.84" fill="#ffaa00"/>
<rect x="557.45" y="324.64" width="11.5" height="1.68" fill="#e87005"/>
<rect x="557.45" y="326.32" width="11.5" height="14.78" fill="#d5d5fa"/>
<rect x="557.45" y="341.10" width="11.5" height="14.95" fill="#a2a2f2"/>
<rect x="557.45" y="356.05" width="11.5" height="3.02" fill="#6064ee"/>
<rect x="557.45" y="359.08" width="11.5" height="16.80" fill="#1f1fae"/>
<rect x="557.45" y="375.87" width="11.5" height="14.61" fill="#deeae6"/>
<rect x="557.45" y="390.49" width="11.5" height="12.60" fill="#a9c9bd"/>
<rect x="557.45" y="403.08" width="11.5" height="21.00" fill="#78ac9a"/>
<rect x="557.45" y="424.08" width="11.5" height="20.66" fill="#76aa98"/>
<rect x="557.45" y="444.74" width="11.5" height="20.16" fill="#2e9a77"/>
<rect x="557.45" y="464.90" width="11.5" height="11.76" fill="#0b6b4e"/>
<rect x="557.45" y="242.87" width="11.5" height="0.6" fill="#fff" opacity=".2"/>
<rect x="557.45" y="258.33" width="11.5" height="0.6" fill="#fff" opacity=".2"/>
<rect x="557.45" y="269.75" width="11.5" height="0.6" fill="#fff" opacity=".2"/>
<rect x="557.45" y="277.98" width="11.5" height="0.6" fill="#fff" opacity=".2"/>
<rect x="557.45" y="302.50" width="11.5" height="0.6" fill="#fff" opacity=".2"/>
<rect x="557.45" y="324.34" width="11.5" height="0.6" fill="#fff" opacity=".2"/>
<rect x="557.45" y="326.02" width="11.5" height="0.6" fill="#fff" opacity=".2"/>
<rect x="557.45" y="340.80" width="11.5" height="0.6" fill="#fff" opacity=".2"/>
<rect x="557.45" y="355.75" width="11.5" height="0.6" fill="#fff" opacity=".2"/>
<rect x="557.45" y="358.78" width="11.5" height="0.6" fill="#fff" opacity=".2"/>
<rect x="557.45" y="375.57" width="11.5" height="0.6" fill="#fff" opacity=".2"/>
<rect x="557.45" y="390.19" width="11.5" height="0.6" fill="#fff" opacity=".2"/>
<rect x="557.45" y="402.78" width="11.5" height="0.6" fill="#fff" opacity=".2"/>
<rect x="557.45" y="423.78" width="11.5" height="0.6" fill="#fff" opacity=".2"/>
<rect x="557.45" y="444.44" width="11.5" height="0.6" fill="#fff" opacity=".2"/>
<rect x="557.45" y="464.60" width="11.5" height="0.6" fill="#fff" opacity=".2"/>
<rect x="571.94" y="216.63" width="11.5" height="6.38" fill="#f2aa9a"/>
<rect x="571.94" y="223.02" width="11.5" height="14.95" fill="#e65a35"/>
<rect x="571.94" y="237.97" width="11.5" height="17.30" fill="#fcebcc"/>
<rect x="571.94" y="255.27" width="11.5" height="18.48" fill="#faDDa0"/>
<rect x="571.94" y="273.74" width="11.5" height="24.02" fill="#f8c55e"/>
<rect x="571.94" y="297.76" width="11.5" height="22.68" fill="#ffaa00"/>
<rect x="571.94" y="320.44" width="11.5" height="3.36" fill="#e87005"/>
<rect x="571.94" y="323.80" width="11.5" height="18.98" fill="#d5d5fa"/>
<rect x="571.94" y="342.78" width="11.5" height="16.29" fill="#a2a2f2"/>
<rect x="571.94" y="359.08" width="11.5" height="2.86" fill="#6064ee"/>
<rect x="571.94" y="361.93" width="11.5" height="16.97" fill="#1f1fae"/>
<rect x="571.94" y="378.90" width="11.5" height="14.95" fill="#deeae6"/>
<rect x="571.94" y="393.85" width="11.5" height="13.10" fill="#a9c9bd"/>
<rect x="571.94" y="406.95" width="11.5" height="17.64" fill="#78ac9a"/>
<rect x="571.94" y="424.58" width="11.5" height="20.16" fill="#76aa98"/>
<rect x="571.94" y="444.74" width="11.5" height="20.16" fill="#2e9a77"/>
<rect x="571.94" y="464.90" width="11.5" height="11.76" fill="#0b6b4e"/>
<rect x="571.94" y="222.72" width="11.5" height="0.6" fill="#fff" opacity=".2"/>
<rect x="571.94" y="237.67" width="11.5" height="0.6" fill="#fff" opacity=".2"/>
<rect x="571.94" y="254.97" width="11.5" height="0.6" fill="#fff" opacity=".2"/>
<rect x="571.94" y="273.44" width="11.5" height="0.6" fill="#fff" opacity=".2"/>
<rect x="571.94" y="297.46" width="11.5" height="0.6" fill="#fff" opacity=".2"/>
<rect x="571.94" y="320.14" width="11.5" height="0.6" fill="#fff" opacity=".2"/>
<rect x="571.94" y="323.50" width="11.5" height="0.6" fill="#fff" opacity=".2"/>
<rect x="571.94" y="342.48" width="11.5" height="0.6" fill="#fff" opacity=".2"/>
<rect x="571.94" y="358.78" width="11.5" height="0.6" fill="#fff" opacity=".2"/>
<rect x="571.94" y="361.63" width="11.5" height="0.6" fill="#fff" opacity=".2"/>
<rect x="571.94" y="378.60" width="11.5" height="0.6" fill="#fff" opacity=".2"/>
<rect x="571.94" y="393.55" width="11.5" height="0.6" fill="#fff" opacity=".2"/>
<rect x="571.94" y="406.65" width="11.5" height="0.6" fill="#fff" opacity=".2"/>
<rect x="571.94" y="424.28" width="11.5" height="0.6" fill="#fff" opacity=".2"/>
<rect x="571.94" y="444.44" width="11.5" height="0.6" fill="#fff" opacity=".2"/>
<rect x="571.94" y="464.60" width="11.5" height="0.6" fill="#fff" opacity=".2"/>
<rect x="586.43" y="323.30" width="11.5" height="6.72" fill="#f2aa9a"/>
<rect x="586.43" y="330.02" width="11.5" height="7.22" fill="#e65a35"/>
<rect x="586.43" y="337.24" width="11.5" height="11.76" fill="#fcebcc"/>
<rect x="586.43" y="349.00" width="11.5" height="12.09" fill="#faDDa0"/>
<rect x="586.43" y="361.09" width="11.5" height="9.74" fill="#f8c55e"/>
<rect x="586.43" y="370.83" width="11.5" height="13.77" fill="#ffaa00"/>
<rect x="586.43" y="384.61" width="11.5" height="3.36" fill="#e87005"/>
<rect x="586.43" y="387.97" width="11.5" height="7.22" fill="#d5d5fa"/>
<rect x="586.43" y="395.19" width="11.5" height="14.78" fill="#a2a2f2"/>
<rect x="586.43" y="409.97" width="11.5" height="3.19" fill="#6064ee"/>
<rect x="586.43" y="413.16" width="11.5" height="9.74" fill="#1f1fae"/>
<rect x="586.43" y="422.90" width="11.5" height="7.56" fill="#deeae6"/>
<rect x="586.43" y="430.46" width="11.5" height="6.38" fill="#a9c9bd"/>
<rect x="586.43" y="436.85" width="11.5" height="3.70" fill="#78ac9a"/>
<rect x="586.43" y="440.54" width="11.5" height="8.06" fill="#76aa98"/>
<rect x="586.43" y="448.60" width="11.5" height="16.29" fill="#2e9a77"/>
<rect x="586.43" y="464.90" width="11.5" height="11.76" fill="#0b6b4e"/>
<rect x="586.43" y="329.72" width="11.5" height="0.6" fill="#fff" opacity=".2"/>
<rect x="586.43" y="336.94" width="11.5" height="0.6" fill="#fff" opacity=".2"/>
<rect x="586.43" y="348.70" width="11.5" height="0.6" fill="#fff" opacity=".2"/>
<rect x="586.43" y="360.79" width="11.5" height="0.6" fill="#fff" opacity=".2"/>
<rect x="586.43" y="370.53" width="11.5" height="0.6" fill="#fff" opacity=".2"/>
<rect x="586.43" y="384.31" width="11.5" height="0.6" fill="#fff" opacity=".2"/>
<rect x="586.43" y="387.67" width="11.5" height="0.6" fill="#fff" opacity=".2"/>
<rect x="586.43" y="394.89" width="11.5" height="0.6" fill="#fff" opacity=".2"/>
<rect x="586.43" y="409.67" width="11.5" height="0.6" fill="#fff" opacity=".2"/>
<rect x="586.43" y="412.86" width="11.5" height="0.6" fill="#fff" opacity=".2"/>
<rect x="586.43" y="422.60" width="11.5" height="0.6" fill="#fff" opacity=".2"/>
<rect x="586.43" y="430.16" width="11.5" height="0.6" fill="#fff" opacity=".2"/>
<rect x="586.43" y="436.55" width="11.5" height="0.6" fill="#fff" opacity=".2"/>
<rect x="586.43" y="440.24" width="11.5" height="0.6" fill="#fff" opacity=".2"/>
<rect x="586.43" y="448.30" width="11.5" height="0.6" fill="#fff" opacity=".2"/>
<rect x="586.43" y="464.60" width="11.5" height="0.6" fill="#fff" opacity=".2"/>
<rect x="600.92" y="273.41" width="11.5" height="12.43" fill="#f2aa9a"/>
<rect x="600.92" y="285.84" width="11.5" height="11.42" fill="#e65a35"/>
<rect x="600.92" y="297.26" width="11.5" height="11.42" fill="#fcebcc"/>
<rect x="600.92" y="308.68" width="11.5" height="12.43" fill="#faDDa0"/>
<rect x="600.92" y="321.11" width="11.5" height="14.78" fill="#f8c55e"/>
<rect x="600.92" y="335.89" width="11.5" height="13.44" fill="#ffaa00"/>
<rect x="600.92" y="349.33" width="11.5" height="3.53" fill="#e87005"/>
<rect x="600.92" y="352.86" width="11.5" height="18.48" fill="#d5d5fa"/>
<rect x="600.92" y="371.34" width="11.5" height="14.61" fill="#a2a2f2"/>
<rect x="600.92" y="385.95" width="11.5" height="3.02" fill="#6064ee"/>
<rect x="600.92" y="388.97" width="11.5" height="13.27" fill="#1f1fae"/>
<rect x="600.92" y="402.24" width="11.5" height="11.42" fill="#deeae6"/>
<rect x="600.92" y="413.67" width="11.5" height="15.12" fill="#a9c9bd"/>
<rect x="600.92" y="428.78" width="11.5" height="3.70" fill="#78ac9a"/>
<rect x="600.92" y="432.48" width="11.5" height="16.13" fill="#76aa98"/>
<rect x="600.92" y="448.60" width="11.5" height="16.29" fill="#2e9a77"/>
<rect x="600.92" y="464.90" width="11.5" height="11.76" fill="#0b6b4e"/>
<rect x="600.92" y="285.54" width="11.5" height="0.6" fill="#fff" opacity=".2"/>
<rect x="600.92" y="296.96" width="11.5" height="0.6" fill="#fff" opacity=".2"/>
<rect x="600.92" y="308.38" width="11.5" height="0.6" fill="#fff" opacity=".2"/>
<rect x="600.92" y="320.81" width="11.5" height="0.6" fill="#fff" opacity=".2"/>
<rect x="600.92" y="335.59" width="11.5" height="0.6" fill="#fff" opacity=".2"/>
<rect x="600.92" y="349.03" width="11.5" height="0.6" fill="#fff" opacity=".2"/>
<rect x="600.92" y="352.56" width="11.5" height="0.6" fill="#fff" opacity=".2"/>
<rect x="600.92" y="371.04" width="11.5" height="0.6" fill="#fff" opacity=".2"/>
<rect x="600.92" y="385.65" width="11.5" height="0.6" fill="#fff" opacity=".2"/>
<rect x="600.92" y="388.67" width="11.5" height="0.6" fill="#fff" opacity=".2"/>
<rect x="600.92" y="401.94" width="11.5" height="0.6" fill="#fff" opacity=".2"/>
<rect x="600.92" y="413.37" width="11.5" height="0.6" fill="#fff" opacity=".2"/>
<rect x="600.92" y="428.48" width="11.5" height="0.6" fill="#fff" opacity=".2"/>
<rect x="600.92" y="432.18" width="11.5" height="0.6" fill="#fff" opacity=".2"/>
<rect x="600.92" y="448.30" width="11.5" height="0.6" fill="#fff" opacity=".2"/>
<rect x="600.92" y="464.60" width="11.5" height="0.6" fill="#fff" opacity=".2"/>
<rect x="615.41" y="286.01" width="11.5" height="12.09" fill="#f2aa9a"/>
<rect x="615.41" y="298.10" width="11.5" height="11.42" fill="#e65a35"/>
<rect x="615.41" y="309.52" width="11.5" height="11.59" fill="#fcebcc"/>
<rect x="615.41" y="321.11" width="11.5" height="12.77" fill="#faDDa0"/>
<rect x="615.41" y="333.88" width="11.5" height="9.57" fill="#f8c55e"/>
<rect x="615.41" y="343.45" width="11.5" height="8.90" fill="#ffaa00"/>
<rect x="615.41" y="352.36" width="11.5" height="3.36" fill="#e87005"/>
<rect x="615.41" y="355.72" width="11.5" height="18.48" fill="#d5d5fa"/>
<rect x="615.41" y="374.19" width="11.5" height="14.61" fill="#a2a2f2"/>
<rect x="615.41" y="388.81" width="11.5" height="3.02" fill="#6064ee"/>
<rect x="615.41" y="391.83" width="11.5" height="13.44" fill="#1f1fae"/>
<rect x="615.41" y="405.27" width="11.5" height="11.25" fill="#deeae6"/>
<rect x="615.41" y="416.52" width="11.5" height="12.26" fill="#a9c9bd"/>
<rect x="615.41" y="428.78" width="11.5" height="3.70" fill="#78ac9a"/>
<rect x="615.41" y="432.48" width="11.5" height="16.13" fill="#76aa98"/>
<rect x="615.41" y="448.60" width="11.5" height="16.29" fill="#2e9a77"/>
<rect x="615.41" y="464.90" width="11.5" height="11.76" fill="#0b6b4e"/>
<rect x="615.41" y="297.80" width="11.5" height="0.6" fill="#fff" opacity=".2"/>
<rect x="615.41" y="309.22" width="11.5" height="0.6" fill="#fff" opacity=".2"/>
<rect x="615.41" y="320.81" width="11.5" height="0.6" fill="#fff" opacity=".2"/>
<rect x="615.41" y="333.58" width="11.5" height="0.6" fill="#fff" opacity=".2"/>
<rect x="615.41" y="343.15" width="11.5" height="0.6" fill="#fff" opacity=".2"/>
<rect x="615.41" y="352.06" width="11.5" height="0.6" fill="#fff" opacity=".2"/>
<rect x="615.41" y="355.42" width="11.5" height="0.6" fill="#fff" opacity=".2"/>
<rect x="615.41" y="373.89" width="11.5" height="0.6" fill="#fff" opacity=".2"/>
<rect x="615.41" y="388.51" width="11.5" height="0.6" fill="#fff" opacity=".2"/>
<rect x="615.41" y="391.53" width="11.5" height="0.6" fill="#fff" opacity=".2"/>
<rect x="615.41" y="404.97" width="11.5" height="0.6" fill="#fff" opacity=".2"/>
<rect x="615.41" y="416.22" width="11.5" height="0.6" fill="#fff" opacity=".2"/>
<rect x="615.41" y="428.48" width="11.5" height="0.6" fill="#fff" opacity=".2"/>
<rect x="615.41" y="432.18" width="11.5" height="0.6" fill="#fff" opacity=".2"/>
<rect x="615.41" y="448.30" width="11.5" height="0.6" fill="#fff" opacity=".2"/>
<rect x="615.41" y="464.60" width="11.5" height="0.6" fill="#fff" opacity=".2"/>
<rect x="629.90" y="255.27" width="11.5" height="3.36" fill="#f2aa9a"/>
<rect x="629.90" y="258.63" width="11.5" height="11.25" fill="#e65a35"/>
<rect x="629.90" y="269.88" width="11.5" height="11.93" fill="#fcebcc"/>
<rect x="629.90" y="281.81" width="11.5" height="12.09" fill="#faDDa0"/>
<rect x="629.90" y="293.90" width="11.5" height="23.85" fill="#f8c55e"/>
<rect x="629.90" y="317.75" width="11.5" height="22.51" fill="#ffaa00"/>
<rect x="629.90" y="340.26" width="11.5" height="3.70" fill="#e87005"/>
<rect x="629.90" y="343.96" width="11.5" height="18.48" fill="#d5d5fa"/>
<rect x="629.90" y="362.43" width="11.5" height="14.28" fill="#a2a2f2"/>
<rect x="629.90" y="376.71" width="11.5" height="3.02" fill="#6064ee"/>
<rect x="629.90" y="379.74" width="11.5" height="13.44" fill="#1f1fae"/>
<rect x="629.90" y="393.17" width="11.5" height="11.59" fill="#deeae6"/>
<rect x="629.90" y="404.76" width="11.5" height="15.12" fill="#a9c9bd"/>
<rect x="629.90" y="419.88" width="11.5" height="12.60" fill="#78ac9a"/>
<rect x="629.90" y="432.48" width="11.5" height="16.13" fill="#76aa98"/>
<rect x="629.90" y="448.60" width="11.5" height="16.29" fill="#2e9a77"/>
<rect x="629.90" y="464.90" width="11.5" height="11.76" fill="#0b6b4e"/>
<rect x="629.90" y="258.33" width="11.5" height="0.6" fill="#fff" opacity=".2"/>
<rect x="629.90" y="269.58" width="11.5" height="0.6" fill="#fff" opacity=".2"/>
<rect x="629.90" y="281.51" width="11.5" height="0.6" fill="#fff" opacity=".2"/>
<rect x="629.90" y="293.60" width="11.5" height="0.6" fill="#fff" opacity=".2"/>
<rect x="629.90" y="317.45" width="11.5" height="0.6" fill="#fff" opacity=".2"/>
<rect x="629.90" y="339.96" width="11.5" height="0.6" fill="#fff" opacity=".2"/>
<rect x="629.90" y="343.66" width="11.5" height="0.6" fill="#fff" opacity=".2"/>
<rect x="629.90" y="362.13" width="11.5" height="0.6" fill="#fff" opacity=".2"/>
<rect x="629.90" y="376.41" width="11.5" height="0.6" fill="#fff" opacity=".2"/>
<rect x="629.90" y="379.44" width="11.5" height="0.6" fill="#fff" opacity=".2"/>
<rect x="629.90" y="392.87" width="11.5" height="0.6" fill="#fff" opacity=".2"/>
<rect x="629.90" y="404.46" width="11.5" height="0.6" fill="#fff" opacity=".2"/>
<rect x="629.90" y="419.58" width="11.5" height="0.6" fill="#fff" opacity=".2"/>
<rect x="629.90" y="432.18" width="11.5" height="0.6" fill="#fff" opacity=".2"/>
<rect x="629.90" y="448.30" width="11.5" height="0.6" fill="#fff" opacity=".2"/>
<rect x="629.90" y="464.60" width="11.5" height="0.6" fill="#fff" opacity=".2"/>
<rect x="644.39" y="272.06" width="11.5" height="9.74" fill="#f2aa9a"/>
<rect x="644.39" y="281.81" width="11.5" height="11.25" fill="#e65a35"/>
<rect x="644.39" y="293.06" width="11.5" height="15.12" fill="#fcebcc"/>
<rect x="644.39" y="308.18" width="11.5" height="12.60" fill="#faDDa0"/>
<rect x="644.39" y="320.78" width="11.5" height="24.02" fill="#f8c55e"/>
<rect x="644.39" y="344.80" width="11.5" height="22.34" fill="#ffaa00"/>
<rect x="644.39" y="367.14" width="11.5" height="3.70" fill="#e87005"/>
<rect x="644.39" y="370.83" width="11.5" height="18.14" fill="#d5d5fa"/>
<rect x="644.39" y="388.97" width="11.5" height="7.56" fill="#a2a2f2"/>
<rect x="644.39" y="396.53" width="11.5" height="3.36" fill="#6064ee"/>
<rect x="644.39" y="399.89" width="11.5" height="12.93" fill="#1f1fae"/>
<rect x="644.39" y="412.83" width="11.5" height="7.89" fill="#deeae6"/>
<rect x="644.39" y="420.72" width="11.5" height="15.12" fill="#a9c9bd"/>
<rect x="644.39" y="435.84" width="11.5" height="12.77" fill="#78ac9a"/>
<rect x="644.39" y="448.60" width="11.5" height="8.23" fill="#76aa98"/>
<rect x="644.39" y="456.84" width="11.5" height="8.06" fill="#2e9a77"/>
<rect x="644.39" y="464.90" width="11.5" height="11.76" fill="#0b6b4e"/>
<rect x="644.39" y="281.51" width="11.5" height="0.6" fill="#fff" opacity=".2"/>
<rect x="644.39" y="292.76" width="11.5" height="0.6" fill="#fff" opacity=".2"/>
<rect x="644.39" y="307.88" width="11.5" height="0.6" fill="#fff" opacity=".2"/>
<rect x="644.39" y="320.48" width="11.5" height="0.6" fill="#fff" opacity=".2"/>
<rect x="644.39" y="344.50" width="11.5" height="0.6" fill="#fff" opacity=".2"/>
<rect x="644.39" y="366.84" width="11.5" height="0.6" fill="#fff" opacity=".2"/>
<rect x="644.39" y="370.53" width="11.5" height="0.6" fill="#fff" opacity=".2"/>
<rect x="644.39" y="388.67" width="11.5" height="0.6" fill="#fff" opacity=".2"/>
<rect x="644.39" y="396.23" width="11.5" height="0.6" fill="#fff" opacity=".2"/>
<rect x="644.39" y="399.59" width="11.5" height="0.6" fill="#fff" opacity=".2"/>
<rect x="644.39" y="412.53" width="11.5" height="0.6" fill="#fff" opacity=".2"/>
<rect x="644.39" y="420.42" width="11.5" height="0.6" fill="#fff" opacity=".2"/>
<rect x="644.39" y="435.54" width="11.5" height="0.6" fill="#fff" opacity=".2"/>
<rect x="644.39" y="448.30" width="11.5" height="0.6" fill="#fff" opacity=".2"/>
<rect x="644.39" y="456.54" width="11.5" height="0.6" fill="#fff" opacity=".2"/>
<rect x="644.39" y="464.60" width="11.5" height="0.6" fill="#fff" opacity=".2"/>
<rect x="658.88" y="259.13" width="11.5" height="15.79" fill="#f2aa9a"/>
<rect x="658.88" y="274.92" width="11.5" height="18.98" fill="#e65a35"/>
<rect x="658.88" y="293.90" width="11.5" height="18.98" fill="#fcebcc"/>
<rect x="658.88" y="312.88" width="11.5" height="17.13" fill="#faDDa0"/>
<rect x="658.88" y="330.02" width="11.5" height="13.94" fill="#f8c55e"/>
<rect x="658.88" y="343.96" width="11.5" height="8.90" fill="#ffaa00"/>
<rect x="658.88" y="352.86" width="11.5" height="2.02" fill="#e87005"/>
<rect x="658.88" y="354.88" width="11.5" height="18.14" fill="#d5d5fa"/>
<rect x="658.88" y="373.02" width="11.5" height="7.56" fill="#a2a2f2"/>
<rect x="658.88" y="380.58" width="11.5" height="3.19" fill="#6064ee"/>
<rect x="658.88" y="383.77" width="11.5" height="16.46" fill="#1f1fae"/>
<rect x="658.88" y="400.23" width="11.5" height="11.25" fill="#deeae6"/>
<rect x="658.88" y="411.48" width="11.5" height="9.24" fill="#a9c9bd"/>
<rect x="658.88" y="420.72" width="11.5" height="3.86" fill="#78ac9a"/>
<rect x="658.88" y="424.58" width="11.5" height="20.16" fill="#76aa98"/>
<rect x="658.88" y="444.74" width="11.5" height="20.16" fill="#2e9a77"/>
<rect x="658.88" y="464.90" width="11.5" height="11.76" fill="#0b6b4e"/>
<rect x="658.88" y="274.62" width="11.5" height="0.6" fill="#fff" opacity=".2"/>
<rect x="658.88" y="293.60" width="11.5" height="0.6" fill="#fff" opacity=".2"/>
<rect x="658.88" y="312.58" width="11.5" height="0.6" fill="#fff" opacity=".2"/>
<rect x="658.88" y="329.72" width="11.5" height="0.6" fill="#fff" opacity=".2"/>
<rect x="658.88" y="343.66" width="11.5" height="0.6" fill="#fff" opacity=".2"/>
<rect x="658.88" y="352.56" width="11.5" height="0.6" fill="#fff" opacity=".2"/>
<rect x="658.88" y="354.58" width="11.5" height="0.6" fill="#fff" opacity=".2"/>
<rect x="658.88" y="372.72" width="11.5" height="0.6" fill="#fff" opacity=".2"/>
<rect x="658.88" y="380.28" width="11.5" height="0.6" fill="#fff" opacity=".2"/>
<rect x="658.88" y="383.47" width="11.5" height="0.6" fill="#fff" opacity=".2"/>
<rect x="658.88" y="399.93" width="11.5" height="0.6" fill="#fff" opacity=".2"/>
<rect x="658.88" y="411.18" width="11.5" height="0.6" fill="#fff" opacity=".2"/>
<rect x="658.88" y="420.42" width="11.5" height="0.6" fill="#fff" opacity=".2"/>
<rect x="658.88" y="424.28" width="11.5" height="0.6" fill="#fff" opacity=".2"/>
<rect x="658.88" y="444.44" width="11.5" height="0.6" fill="#fff" opacity=".2"/>
<rect x="658.88" y="464.60" width="11.5" height="0.6" fill="#fff" opacity=".2"/>
<rect x="673.37" y="283.49" width="11.5" height="12.43" fill="#f2aa9a"/>
<rect x="673.37" y="295.92" width="11.5" height="3.86" fill="#e65a35"/>
<rect x="673.37" y="299.78" width="11.5" height="15.12" fill="#fcebcc"/>
<rect x="673.37" y="314.90" width="11.5" height="12.60" fill="#faDDa0"/>
<rect x="673.37" y="327.50" width="11.5" height="19.32" fill="#f8c55e"/>
<rect x="673.37" y="346.81" width="11.5" height="13.10" fill="#ffaa00"/>
<rect x="673.37" y="359.91" width="11.5" height="2.02" fill="#e87005"/>
<rect x="673.37" y="361.93" width="11.5" height="15.12" fill="#d5d5fa"/>
<rect x="673.37" y="377.05" width="11.5" height="14.28" fill="#a2a2f2"/>
<rect x="673.37" y="391.33" width="11.5" height="12.26" fill="#6064ee"/>
<rect x="673.37" y="403.59" width="11.5" height="13.44" fill="#1f1fae"/>
<rect x="673.37" y="417.03" width="11.5" height="7.56" fill="#deeae6"/>
<rect x="673.37" y="424.58" width="11.5" height="12.26" fill="#a9c9bd"/>
<rect x="673.37" y="436.85" width="11.5" height="3.70" fill="#78ac9a"/>
<rect x="673.37" y="440.54" width="11.5" height="8.06" fill="#76aa98"/>
<rect x="673.37" y="448.60" width="11.5" height="16.29" fill="#2e9a77"/>
<rect x="673.37" y="464.90" width="11.5" height="11.76" fill="#0b6b4e"/>
<rect x="673.37" y="295.62" width="11.5" height="0.6" fill="#fff" opacity=".2"/>
<rect x="673.37" y="299.48" width="11.5" height="0.6" fill="#fff" opacity=".2"/>
<rect x="673.37" y="314.60" width="11.5" height="0.6" fill="#fff" opacity=".2"/>
<rect x="673.37" y="327.20" width="11.5" height="0.6" fill="#fff" opacity=".2"/>
<rect x="673.37" y="346.51" width="11.5" height="0.6" fill="#fff" opacity=".2"/>
<rect x="673.37" y="359.61" width="11.5" height="0.6" fill="#fff" opacity=".2"/>
<rect x="673.37" y="361.63" width="11.5" height="0.6" fill="#fff" opacity=".2"/>
<rect x="673.37" y="376.75" width="11.5" height="0.6" fill="#fff" opacity=".2"/>
<rect x="673.37" y="391.03" width="11.5" height="0.6" fill="#fff" opacity=".2"/>
<rect x="673.37" y="403.29" width="11.5" height="0.6" fill="#fff" opacity=".2"/>
<rect x="673.37" y="416.73" width="11.5" height="0.6" fill="#fff" opacity=".2"/>
<rect x="673.37" y="424.28" width="11.5" height="0.6" fill="#fff" opacity=".2"/>
<rect x="673.37" y="436.55" width="11.5" height="0.6" fill="#fff" opacity=".2"/>
<rect x="673.37" y="440.24" width="11.5" height="0.6" fill="#fff" opacity=".2"/>
<rect x="673.37" y="448.30" width="11.5" height="0.6" fill="#fff" opacity=".2"/>
<rect x="673.37" y="464.60" width="11.5" height="0.6" fill="#fff" opacity=".2"/>
<rect x="687.86" y="221.17" width="11.5" height="12.26" fill="#f2aa9a"/>
<rect x="687.86" y="233.43" width="11.5" height="18.98" fill="#e65a35"/>
<rect x="687.86" y="252.41" width="11.5" height="19.32" fill="#fcebcc"/>
<rect x="687.86" y="271.73" width="11.5" height="16.29" fill="#faDDa0"/>
<rect x="687.86" y="288.02" width="11.5" height="24.69" fill="#f8c55e"/>
<rect x="687.86" y="312.71" width="11.5" height="17.81" fill="#ffaa00"/>
<rect x="687.86" y="330.52" width="11.5" height="3.36" fill="#e87005"/>
<rect x="687.86" y="333.88" width="11.5" height="18.81" fill="#d5d5fa"/>
<rect x="687.86" y="352.69" width="11.5" height="10.58" fill="#a2a2f2"/>
<rect x="687.86" y="363.27" width="11.5" height="15.45" fill="#6064ee"/>
<rect x="687.86" y="378.73" width="11.5" height="16.46" fill="#1f1fae"/>
<rect x="687.86" y="395.19" width="11.5" height="11.76" fill="#deeae6"/>
<rect x="687.86" y="406.95" width="11.5" height="8.90" fill="#a9c9bd"/>
<rect x="687.86" y="415.85" width="11.5" height="12.93" fill="#78ac9a"/>
<rect x="687.86" y="428.78" width="11.5" height="15.96" fill="#76aa98"/>
<rect x="687.86" y="444.74" width="11.5" height="20.16" fill="#2e9a77"/>
<rect x="687.86" y="464.90" width="11.5" height="11.76" fill="#0b6b4e"/>
<rect x="687.86" y="233.13" width="11.5" height="0.6" fill="#fff" opacity=".2"/>
<rect x="687.86" y="252.11" width="11.5" height="0.6" fill="#fff" opacity=".2"/>
<rect x="687.86" y="271.43" width="11.5" height="0.6" fill="#fff" opacity=".2"/>
<rect x="687.86" y="287.72" width="11.5" height="0.6" fill="#fff" opacity=".2"/>
<rect x="687.86" y="312.41" width="11.5" height="0.6" fill="#fff" opacity=".2"/>
<rect x="687.86" y="330.22" width="11.5" height="0.6" fill="#fff" opacity=".2"/>
<rect x="687.86" y="333.58" width="11.5" height="0.6" fill="#fff" opacity=".2"/>
<rect x="687.86" y="352.39" width="11.5" height="0.6" fill="#fff" opacity=".2"/>
<rect x="687.86" y="362.97" width="11.5" height="0.6" fill="#fff" opacity=".2"/>
<rect x="687.86" y="378.43" width="11.5" height="0.6" fill="#fff" opacity=".2"/>
<rect x="687.86" y="394.89" width="11.5" height="0.6" fill="#fff" opacity=".2"/>
<rect x="687.86" y="406.65" width="11.5" height="0.6" fill="#fff" opacity=".2"/>
<rect x="687.86" y="415.55" width="11.5" height="0.6" fill="#fff" opacity=".2"/>
<rect x="687.86" y="428.48" width="11.5" height="0.6" fill="#fff" opacity=".2"/>
<rect x="687.86" y="444.44" width="11.5" height="0.6" fill="#fff" opacity=".2"/>
<rect x="687.86" y="464.60" width="11.5" height="0.6" fill="#fff" opacity=".2"/>
<rect x="702.35" y="271.23" width="11.5" height="15.62" fill="#f2aa9a"/>
<rect x="702.35" y="286.85" width="11.5" height="7.39" fill="#e65a35"/>
<rect x="702.35" y="294.24" width="11.5" height="15.62" fill="#fcebcc"/>
<rect x="702.35" y="309.86" width="11.5" height="12.60" fill="#faDDa0"/>
<rect x="702.35" y="322.46" width="11.5" height="9.24" fill="#f8c55e"/>
<rect x="702.35" y="331.70" width="11.5" height="9.24" fill="#ffaa00"/>
<rect x="702.35" y="340.93" width="11.5" height="3.53" fill="#e87005"/>
<rect x="702.35" y="344.46" width="11.5" height="18.48" fill="#d5d5fa"/>
<rect x="702.35" y="362.94" width="11.5" height="10.92" fill="#a2a2f2"/>
<rect x="702.35" y="373.86" width="11.5" height="12.09" fill="#6064ee"/>
<rect x="702.35" y="385.95" width="11.5" height="13.44" fill="#1f1fae"/>
<rect x="702.35" y="399.39" width="11.5" height="7.56" fill="#deeae6"/>
<rect x="702.35" y="406.95" width="11.5" height="12.09" fill="#a9c9bd"/>
<rect x="702.35" y="419.04" width="11.5" height="17.81" fill="#78ac9a"/>
<rect x="702.35" y="436.85" width="11.5" height="11.76" fill="#76aa98"/>
<rect x="702.35" y="448.60" width="11.5" height="16.29" fill="#2e9a77"/>
<rect x="702.35" y="464.90" width="11.5" height="11.76" fill="#0b6b4e"/>
<rect x="702.35" y="286.55" width="11.5" height="0.6" fill="#fff" opacity=".2"/>
<rect x="702.35" y="293.94" width="11.5" height="0.6" fill="#fff" opacity=".2"/>
<rect x="702.35" y="309.56" width="11.5" height="0.6" fill="#fff" opacity=".2"/>
<rect x="702.35" y="322.16" width="11.5" height="0.6" fill="#fff" opacity=".2"/>
<rect x="702.35" y="331.40" width="11.5" height="0.6" fill="#fff" opacity=".2"/>
<rect x="702.35" y="340.63" width="11.5" height="0.6" fill="#fff" opacity=".2"/>
<rect x="702.35" y="344.16" width="11.5" height="0.6" fill="#fff" opacity=".2"/>
<rect x="702.35" y="362.64" width="11.5" height="0.6" fill="#fff" opacity=".2"/>
<rect x="702.35" y="373.56" width="11.5" height="0.6" fill="#fff" opacity=".2"/>
<rect x="702.35" y="385.65" width="11.5" height="0.6" fill="#fff" opacity=".2"/>
<rect x="702.35" y="399.09" width="11.5" height="0.6" fill="#fff" opacity=".2"/>
<rect x="702.35" y="406.65" width="11.5" height="0.6" fill="#fff" opacity=".2"/>
<rect x="702.35" y="418.74" width="11.5" height="0.6" fill="#fff" opacity=".2"/>
<rect x="702.35" y="436.55" width="11.5" height="0.6" fill="#fff" opacity=".2"/>
<rect x="702.35" y="448.30" width="11.5" height="0.6" fill="#fff" opacity=".2"/>
<rect x="702.35" y="464.60" width="11.5" height="0.6" fill="#fff" opacity=".2"/>
<rect x="716.84" y="247.20" width="11.5" height="15.62" fill="#f2aa9a"/>
<rect x="716.84" y="262.83" width="11.5" height="18.81" fill="#e65a35"/>
<rect x="716.84" y="281.64" width="11.5" height="15.29" fill="#fcebcc"/>
<rect x="716.84" y="296.92" width="11.5" height="16.80" fill="#faDDa0"/>
<rect x="716.84" y="313.72" width="11.5" height="9.57" fill="#f8c55e"/>
<rect x="716.84" y="323.30" width="11.5" height="8.90" fill="#ffaa00"/>
<rect x="716.84" y="332.20" width="11.5" height="3.70" fill="#e87005"/>
<rect x="716.84" y="335.89" width="11.5" height="18.14" fill="#d5d5fa"/>
<rect x="716.84" y="354.04" width="11.5" height="14.78" fill="#a2a2f2"/>
<rect x="716.84" y="368.82" width="11.5" height="15.12" fill="#6064ee"/>
<rect x="716.84" y="383.94" width="11.5" height="13.27" fill="#1f1fae"/>
<rect x="716.84" y="397.20" width="11.5" height="11.93" fill="#deeae6"/>
<rect x="716.84" y="409.13" width="11.5" height="14.61" fill="#a9c9bd"/>
<rect x="716.84" y="423.74" width="11.5" height="13.10" fill="#78ac9a"/>
<rect x="716.84" y="436.85" width="11.5" height="15.96" fill="#76aa98"/>
<rect x="716.84" y="452.80" width="11.5" height="12.09" fill="#2e9a77"/>
<rect x="716.84" y="464.90" width="11.5" height="11.76" fill="#0b6b4e"/>
<rect x="716.84" y="262.53" width="11.5" height="0.6" fill="#fff" opacity=".2"/>
<rect x="716.84" y="281.34" width="11.5" height="0.6" fill="#fff" opacity=".2"/>
<rect x="716.84" y="296.62" width="11.5" height="0.6" fill="#fff" opacity=".2"/>
<rect x="716.84" y="313.42" width="11.5" height="0.6" fill="#fff" opacity=".2"/>
<rect x="716.84" y="323.00" width="11.5" height="0.6" fill="#fff" opacity=".2"/>
<rect x="716.84" y="331.90" width="11.5" height="0.6" fill="#fff" opacity=".2"/>
<rect x="716.84" y="335.59" width="11.5" height="0.6" fill="#fff" opacity=".2"/>
<rect x="716.84" y="353.74" width="11.5" height="0.6" fill="#fff" opacity=".2"/>
<rect x="716.84" y="368.52" width="11.5" height="0.6" fill="#fff" opacity=".2"/>
<rect x="716.84" y="383.64" width="11.5" height="0.6" fill="#fff" opacity=".2"/>
<rect x="716.84" y="396.90" width="11.5" height="0.6" fill="#fff" opacity=".2"/>
<rect x="716.84" y="408.83" width="11.5" height="0.6" fill="#fff" opacity=".2"/>
<rect x="716.84" y="423.44" width="11.5" height="0.6" fill="#fff" opacity=".2"/>
<rect x="716.84" y="436.55" width="11.5" height="0.6" fill="#fff" opacity=".2"/>
<rect x="716.84" y="452.50" width="11.5" height="0.6" fill="#fff" opacity=".2"/>
<rect x="716.84" y="464.60" width="11.5" height="0.6" fill="#fff" opacity=".2"/>
<rect x="731.33" y="256.44" width="11.5" height="15.29" fill="#f2aa9a"/>
<rect x="731.33" y="271.73" width="11.5" height="19.15" fill="#e65a35"/>
<rect x="731.33" y="290.88" width="11.5" height="15.96" fill="#fcebcc"/>
<rect x="731.33" y="306.84" width="11.5" height="15.96" fill="#faDDa0"/>
<rect x="731.33" y="322.79" width="11.5" height="19.99" fill="#f8c55e"/>
<rect x="731.33" y="342.78" width="11.5" height="13.27" fill="#ffaa00"/>
<rect x="731.33" y="356.05" width="11.5" height="5.04" fill="#e87005"/>
<rect x="731.33" y="361.09" width="11.5" height="18.98" fill="#d5d5fa"/>
<rect x="731.33" y="380.07" width="11.5" height="14.28" fill="#a2a2f2"/>
<rect x="731.33" y="394.35" width="11.5" height="3.02" fill="#6064ee"/>
<rect x="731.33" y="397.37" width="11.5" height="13.44" fill="#1f1fae"/>
<rect x="731.33" y="410.81" width="11.5" height="11.25" fill="#deeae6"/>
<rect x="731.33" y="422.06" width="11.5" height="14.78" fill="#a9c9bd"/>
<rect x="731.33" y="436.85" width="11.5" height="5.88" fill="#78ac9a"/>
<rect x="731.33" y="442.73" width="11.5" height="5.88" fill="#76aa98"/>
<rect x="731.33" y="448.60" width="11.5" height="16.29" fill="#2e9a77"/>
<rect x="731.33" y="464.90" width="11.5" height="11.76" fill="#0b6b4e"/>
<rect x="731.33" y="271.43" width="11.5" height="0.6" fill="#fff" opacity=".2"/>
<rect x="731.33" y="290.58" width="11.5" height="0.6" fill="#fff" opacity=".2"/>
<rect x="731.33" y="306.54" width="11.5" height="0.6" fill="#fff" opacity=".2"/>
<rect x="731.33" y="322.49" width="11.5" height="0.6" fill="#fff" opacity=".2"/>
<rect x="731.33" y="342.48" width="11.5" height="0.6" fill="#fff" opacity=".2"/>
<rect x="731.33" y="355.75" width="11.5" height="0.6" fill="#fff" opacity=".2"/>
<rect x="731.33" y="360.79" width="11.5" height="0.6" fill="#fff" opacity=".2"/>
<rect x="731.33" y="379.77" width="11.5" height="0.6" fill="#fff" opacity=".2"/>
<rect x="731.33" y="394.05" width="11.5" height="0.6" fill="#fff" opacity=".2"/>
<rect x="731.33" y="397.07" width="11.5" height="0.6" fill="#fff" opacity=".2"/>
<rect x="731.33" y="410.51" width="11.5" height="0.6" fill="#fff" opacity=".2"/>
<rect x="731.33" y="421.76" width="11.5" height="0.6" fill="#fff" opacity=".2"/>
<rect x="731.33" y="436.55" width="11.5" height="0.6" fill="#fff" opacity=".2"/>
<rect x="731.33" y="442.43" width="11.5" height="0.6" fill="#fff" opacity=".2"/>
<rect x="731.33" y="448.30" width="11.5" height="0.6" fill="#fff" opacity=".2"/>
<rect x="731.33" y="464.60" width="11.5" height="0.6" fill="#fff" opacity=".2"/>
<rect x="745.82" y="238.97" width="11.5" height="12.09" fill="#f2aa9a"/>
<rect x="745.82" y="251.07" width="11.5" height="15.12" fill="#e65a35"/>
<rect x="745.82" y="266.19" width="11.5" height="19.65" fill="#fcebcc"/>
<rect x="745.82" y="285.84" width="11.5" height="20.66" fill="#faDDa0"/>
<rect x="745.82" y="306.50" width="11.5" height="14.28" fill="#f8c55e"/>
<rect x="745.82" y="320.78" width="11.5" height="13.44" fill="#ffaa00"/>
<rect x="745.82" y="334.22" width="11.5" height="3.53" fill="#e87005"/>
<rect x="745.82" y="337.74" width="11.5" height="18.81" fill="#d5d5fa"/>
<rect x="745.82" y="356.56" width="11.5" height="10.58" fill="#a2a2f2"/>
<rect x="745.82" y="367.14" width="11.5" height="15.45" fill="#6064ee"/>
<rect x="745.82" y="382.59" width="11.5" height="13.44" fill="#1f1fae"/>
<rect x="745.82" y="396.03" width="11.5" height="10.92" fill="#deeae6"/>
<rect x="745.82" y="406.95" width="11.5" height="12.09" fill="#a9c9bd"/>
<rect x="745.82" y="419.04" width="11.5" height="17.81" fill="#78ac9a"/>
<rect x="745.82" y="436.85" width="11.5" height="15.96" fill="#76aa98"/>
<rect x="745.82" y="452.80" width="11.5" height="12.09" fill="#2e9a77"/>
<rect x="745.82" y="464.90" width="11.5" height="11.76" fill="#0b6b4e"/>
<rect x="745.82" y="250.77" width="11.5" height="0.6" fill="#fff" opacity=".2"/>
<rect x="745.82" y="265.89" width="11.5" height="0.6" fill="#fff" opacity=".2"/>
<rect x="745.82" y="285.54" width="11.5" height="0.6" fill="#fff" opacity=".2"/>
<rect x="745.82" y="306.20" width="11.5" height="0.6" fill="#fff" opacity=".2"/>
<rect x="745.82" y="320.48" width="11.5" height="0.6" fill="#fff" opacity=".2"/>
<rect x="745.82" y="333.92" width="11.5" height="0.6" fill="#fff" opacity=".2"/>
<rect x="745.82" y="337.44" width="11.5" height="0.6" fill="#fff" opacity=".2"/>
<rect x="745.82" y="356.26" width="11.5" height="0.6" fill="#fff" opacity=".2"/>
<rect x="745.82" y="366.84" width="11.5" height="0.6" fill="#fff" opacity=".2"/>
<rect x="745.82" y="382.29" width="11.5" height="0.6" fill="#fff" opacity=".2"/>
<rect x="745.82" y="395.73" width="11.5" height="0.6" fill="#fff" opacity=".2"/>
<rect x="745.82" y="406.65" width="11.5" height="0.6" fill="#fff" opacity=".2"/>
<rect x="745.82" y="418.74" width="11.5" height="0.6" fill="#fff" opacity=".2"/>
<rect x="745.82" y="436.55" width="11.5" height="0.6" fill="#fff" opacity=".2"/>
<rect x="745.82" y="452.50" width="11.5" height="0.6" fill="#fff" opacity=".2"/>
<rect x="745.82" y="464.60" width="11.5" height="0.6" fill="#fff" opacity=".2"/>
<rect x="760.31" y="210.75" width="11.5" height="12.26" fill="#f2aa9a"/>
<rect x="760.31" y="223.02" width="11.5" height="19.15" fill="#e65a35"/>
<rect x="760.31" y="242.17" width="11.5" height="19.48" fill="#fcebcc"/>
<rect x="760.31" y="261.65" width="11.5" height="20.16" fill="#faDDa0"/>
<rect x="760.31" y="281.81" width="11.5" height="24.36" fill="#f8c55e"/>
<rect x="760.31" y="306.16" width="11.5" height="22.34" fill="#ffaa00"/>
<rect x="760.31" y="328.50" width="11.5" height="1.68" fill="#e87005"/>
<rect x="760.31" y="330.18" width="11.5" height="18.81" fill="#d5d5fa"/>
<rect x="760.31" y="349.00" width="11.5" height="14.28" fill="#a2a2f2"/>
<rect x="760.31" y="363.27" width="11.5" height="15.45" fill="#6064ee"/>
<rect x="760.31" y="378.73" width="11.5" height="16.46" fill="#1f1fae"/>
<rect x="760.31" y="395.19" width="11.5" height="11.76" fill="#deeae6"/>
<rect x="760.31" y="406.95" width="11.5" height="8.90" fill="#a9c9bd"/>
<rect x="760.31" y="415.85" width="11.5" height="12.93" fill="#78ac9a"/>
<rect x="760.31" y="428.78" width="11.5" height="15.96" fill="#76aa98"/>
<rect x="760.31" y="444.74" width="11.5" height="20.16" fill="#2e9a77"/>
<rect x="760.31" y="464.90" width="11.5" height="11.76" fill="#0b6b4e"/>
<rect x="760.31" y="222.72" width="11.5" height="0.6" fill="#fff" opacity=".2"/>
<rect x="760.31" y="241.87" width="11.5" height="0.6" fill="#fff" opacity=".2"/>
<rect x="760.31" y="261.35" width="11.5" height="0.6" fill="#fff" opacity=".2"/>
<rect x="760.31" y="281.51" width="11.5" height="0.6" fill="#fff" opacity=".2"/>
<rect x="760.31" y="305.86" width="11.5" height="0.6" fill="#fff" opacity=".2"/>
<rect x="760.31" y="328.20" width="11.5" height="0.6" fill="#fff" opacity=".2"/>
<rect x="760.31" y="329.88" width="11.5" height="0.6" fill="#fff" opacity=".2"/>
<rect x="760.31" y="348.70" width="11.5" height="0.6" fill="#fff" opacity=".2"/>
<rect x="760.31" y="362.97" width="11.5" height="0.6" fill="#fff" opacity=".2"/>
<rect x="760.31" y="378.43" width="11.5" height="0.6" fill="#fff" opacity=".2"/>
<rect x="760.31" y="394.89" width="11.5" height="0.6" fill="#fff" opacity=".2"/>
<rect x="760.31" y="406.65" width="11.5" height="0.6" fill="#fff" opacity=".2"/>
<rect x="760.31" y="415.55" width="11.5" height="0.6" fill="#fff" opacity=".2"/>
<rect x="760.31" y="428.48" width="11.5" height="0.6" fill="#fff" opacity=".2"/>
<rect x="760.31" y="444.44" width="11.5" height="0.6" fill="#fff" opacity=".2"/>
<rect x="760.31" y="464.60" width="11.5" height="0.6" fill="#fff" opacity=".2"/>
<rect x="774.80" y="252.24" width="11.5" height="12.60" fill="#f2aa9a"/>
<rect x="774.80" y="264.84" width="11.5" height="15.12" fill="#e65a35"/>
<rect x="774.80" y="279.96" width="11.5" height="19.32" fill="#fcebcc"/>
<rect x="774.80" y="299.28" width="11.5" height="16.80" fill="#faDDa0"/>
<rect x="774.80" y="316.07" width="11.5" height="14.45" fill="#f8c55e"/>
<rect x="774.80" y="330.52" width="11.5" height="13.10" fill="#ffaa00"/>
<rect x="774.80" y="343.62" width="11.5" height="3.70" fill="#e87005"/>
<rect x="774.80" y="347.32" width="11.5" height="18.81" fill="#d5d5fa"/>
<rect x="774.80" y="366.13" width="11.5" height="13.94" fill="#a2a2f2"/>
<rect x="774.80" y="380.07" width="11.5" height="15.62" fill="#6064ee"/>
<rect x="774.80" y="395.69" width="11.5" height="13.27" fill="#1f1fae"/>
<rect x="774.80" y="408.96" width="11.5" height="11.09" fill="#deeae6"/>
<rect x="774.80" y="420.05" width="11.5" height="11.76" fill="#a9c9bd"/>
<rect x="774.80" y="431.81" width="11.5" height="8.73" fill="#78ac9a"/>
<rect x="774.80" y="440.54" width="11.5" height="12.26" fill="#76aa98"/>
<rect x="774.80" y="452.80" width="11.5" height="12.09" fill="#2e9a77"/>
<rect x="774.80" y="464.90" width="11.5" height="11.76" fill="#0b6b4e"/>
<rect x="774.80" y="264.54" width="11.5" height="0.6" fill="#fff" opacity=".2"/>
<rect x="774.80" y="279.66" width="11.5" height="0.6" fill="#fff" opacity=".2"/>
<rect x="774.80" y="298.98" width="11.5" height="0.6" fill="#fff" opacity=".2"/>
<rect x="774.80" y="315.77" width="11.5" height="0.6" fill="#fff" opacity=".2"/>
<rect x="774.80" y="330.22" width="11.5" height="0.6" fill="#fff" opacity=".2"/>
<rect x="774.80" y="343.32" width="11.5" height="0.6" fill="#fff" opacity=".2"/>
<rect x="774.80" y="347.02" width="11.5" height="0.6" fill="#fff" opacity=".2"/>
<rect x="774.80" y="365.83" width="11.5" height="0.6" fill="#fff" opacity=".2"/>
<rect x="774.80" y="379.77" width="11.5" height="0.6" fill="#fff" opacity=".2"/>
<rect x="774.80" y="395.39" width="11.5" height="0.6" fill="#fff" opacity=".2"/>
<rect x="774.80" y="408.66" width="11.5" height="0.6" fill="#fff" opacity=".2"/>
<rect x="774.80" y="419.75" width="11.5" height="0.6" fill="#fff" opacity=".2"/>
<rect x="774.80" y="431.51" width="11.5" height="0.6" fill="#fff" opacity=".2"/>
<rect x="774.80" y="440.24" width="11.5" height="0.6" fill="#fff" opacity=".2"/>
<rect x="774.80" y="452.50" width="11.5" height="0.6" fill="#fff" opacity=".2"/>
<rect x="774.80" y="464.60" width="11.5" height="0.6" fill="#fff" opacity=".2"/>
<rect x="789.29" y="308.18" width="11.5" height="9.57" fill="#f2aa9a"/>
<rect x="789.29" y="317.75" width="11.5" height="11.09" fill="#e65a35"/>
<rect x="789.29" y="328.84" width="11.5" height="7.89" fill="#fcebcc"/>
<rect x="789.29" y="336.73" width="11.5" height="8.06" fill="#faDDa0"/>
<rect x="789.29" y="344.80" width="11.5" height="24.02" fill="#f8c55e"/>
<rect x="789.29" y="368.82" width="11.5" height="22.68" fill="#ffaa00"/>
<rect x="789.29" y="391.49" width="11.5" height="3.70" fill="#e87005"/>
<rect x="789.29" y="395.19" width="11.5" height="10.92" fill="#d5d5fa"/>
<rect x="789.29" y="406.11" width="11.5" height="7.56" fill="#a2a2f2"/>
<rect x="789.29" y="413.67" width="11.5" height="9.24" fill="#6064ee"/>
<rect x="789.29" y="422.90" width="11.5" height="5.88" fill="#1f1fae"/>
<rect x="789.29" y="428.78" width="11.5" height="1.18" fill="#deeae6"/>
<rect x="789.29" y="429.96" width="11.5" height="5.88" fill="#a9c9bd"/>
<rect x="789.29" y="435.84" width="11.5" height="12.77" fill="#78ac9a"/>
<rect x="789.29" y="448.60" width="11.5" height="8.23" fill="#76aa98"/>
<rect x="789.29" y="456.84" width="11.5" height="11.93" fill="#2e9a77"/>
<rect x="789.29" y="468.76" width="11.5" height="7.89" fill="#0b6b4e"/>
<rect x="789.29" y="317.45" width="11.5" height="0.6" fill="#fff" opacity=".2"/>
<rect x="789.29" y="328.54" width="11.5" height="0.6" fill="#fff" opacity=".2"/>
<rect x="789.29" y="336.43" width="11.5" height="0.6" fill="#fff" opacity=".2"/>
<rect x="789.29" y="344.50" width="11.5" height="0.6" fill="#fff" opacity=".2"/>
<rect x="789.29" y="368.52" width="11.5" height="0.6" fill="#fff" opacity=".2"/>
<rect x="789.29" y="391.19" width="11.5" height="0.6" fill="#fff" opacity=".2"/>
<rect x="789.29" y="394.89" width="11.5" height="0.6" fill="#fff" opacity=".2"/>
<rect x="789.29" y="405.81" width="11.5" height="0.6" fill="#fff" opacity=".2"/>
<rect x="789.29" y="413.37" width="11.5" height="0.6" fill="#fff" opacity=".2"/>
<rect x="789.29" y="422.60" width="11.5" height="0.6" fill="#fff" opacity=".2"/>
<rect x="789.29" y="428.48" width="11.5" height="0.6" fill="#fff" opacity=".2"/>
<rect x="789.29" y="429.66" width="11.5" height="0.6" fill="#fff" opacity=".2"/>
<rect x="789.29" y="435.54" width="11.5" height="0.6" fill="#fff" opacity=".2"/>
<rect x="789.29" y="448.30" width="11.5" height="0.6" fill="#fff" opacity=".2"/>
<rect x="789.29" y="456.54" width="11.5" height="0.6" fill="#fff" opacity=".2"/>
<rect x="789.29" y="468.46" width="11.5" height="0.6" fill="#fff" opacity=".2"/>
<rect x="803.78" y="281.30" width="11.5" height="12.60" fill="#f2aa9a"/>
<rect x="803.78" y="293.90" width="11.5" height="15.12" fill="#e65a35"/>
<rect x="803.78" y="309.02" width="11.5" height="11.76" fill="#fcebcc"/>
<rect x="803.78" y="320.78" width="11.5" height="12.26" fill="#faDDa0"/>
<rect x="803.78" y="333.04" width="11.5" height="23.85" fill="#f8c55e"/>
<rect x="803.78" y="356.89" width="11.5" height="9.24" fill="#ffaa00"/>
<rect x="803.78" y="366.13" width="11.5" height="3.53" fill="#e87005"/>
<rect x="803.78" y="369.66" width="11.5" height="14.95" fill="#d5d5fa"/>
<rect x="803.78" y="384.61" width="11.5" height="10.58" fill="#a2a2f2"/>
<rect x="803.78" y="395.19" width="11.5" height="15.62" fill="#6064ee"/>
<rect x="803.78" y="410.81" width="11.5" height="13.27" fill="#1f1fae"/>
<rect x="803.78" y="424.08" width="11.5" height="7.56" fill="#deeae6"/>
<rect x="803.78" y="431.64" width="11.5" height="12.26" fill="#a9c9bd"/>
<rect x="803.78" y="443.90" width="11.5" height="12.93" fill="#78ac9a"/>
<rect x="803.78" y="456.84" width="11.5" height="8.06" fill="#76aa98"/>
<rect x="803.78" y="464.90" width="11.5" height="3.86" fill="#2e9a77"/>
<rect x="803.78" y="468.76" width="11.5" height="7.89" fill="#0b6b4e"/>
<rect x="803.78" y="293.60" width="11.5" height="0.6" fill="#fff" opacity=".2"/>
<rect x="803.78" y="308.72" width="11.5" height="0.6" fill="#fff" opacity=".2"/>
<rect x="803.78" y="320.48" width="11.5" height="0.6" fill="#fff" opacity=".2"/>
<rect x="803.78" y="332.74" width="11.5" height="0.6" fill="#fff" opacity=".2"/>
<rect x="803.78" y="356.59" width="11.5" height="0.6" fill="#fff" opacity=".2"/>
<rect x="803.78" y="365.83" width="11.5" height="0.6" fill="#fff" opacity=".2"/>
<rect x="803.78" y="369.36" width="11.5" height="0.6" fill="#fff" opacity=".2"/>
<rect x="803.78" y="384.31" width="11.5" height="0.6" fill="#fff" opacity=".2"/>
<rect x="803.78" y="394.89" width="11.5" height="0.6" fill="#fff" opacity=".2"/>
<rect x="803.78" y="410.51" width="11.5" height="0.6" fill="#fff" opacity=".2"/>
<rect x="803.78" y="423.78" width="11.5" height="0.6" fill="#fff" opacity=".2"/>
<rect x="803.78" y="431.34" width="11.5" height="0.6" fill="#fff" opacity=".2"/>
<rect x="803.78" y="443.60" width="11.5" height="0.6" fill="#fff" opacity=".2"/>
<rect x="803.78" y="456.54" width="11.5" height="0.6" fill="#fff" opacity=".2"/>
<rect x="803.78" y="464.60" width="11.5" height="0.6" fill="#fff" opacity=".2"/>
<rect x="803.78" y="468.46" width="11.5" height="0.6" fill="#fff" opacity=".2"/>
<rect x="818.27" y="285.50" width="11.5" height="12.60" fill="#f2aa9a"/>
<rect x="818.27" y="298.10" width="11.5" height="14.78" fill="#e65a35"/>
<rect x="818.27" y="312.88" width="11.5" height="12.09" fill="#fcebcc"/>
<rect x="818.27" y="324.98" width="11.5" height="12.26" fill="#faDDa0"/>
<rect x="818.27" y="337.24" width="11.5" height="14.61" fill="#f8c55e"/>
<rect x="818.27" y="351.85" width="11.5" height="13.10" fill="#ffaa00"/>
<rect x="818.27" y="364.95" width="11.5" height="2.02" fill="#e87005"/>
<rect x="818.27" y="366.97" width="11.5" height="14.78" fill="#d5d5fa"/>
<rect x="818.27" y="381.75" width="11.5" height="14.28" fill="#a2a2f2"/>
<rect x="818.27" y="396.03" width="11.5" height="15.12" fill="#6064ee"/>
<rect x="818.27" y="411.15" width="11.5" height="13.77" fill="#1f1fae"/>
<rect x="818.27" y="424.92" width="11.5" height="10.92" fill="#deeae6"/>
<rect x="818.27" y="435.84" width="11.5" height="12.26" fill="#a9c9bd"/>
<rect x="818.27" y="448.10" width="11.5" height="8.73" fill="#78ac9a"/>
<rect x="818.27" y="456.84" width="11.5" height="3.86" fill="#76aa98"/>
<rect x="818.27" y="460.70" width="11.5" height="8.06" fill="#2e9a77"/>
<rect x="818.27" y="468.76" width="11.5" height="7.89" fill="#0b6b4e"/>
<rect x="818.27" y="297.80" width="11.5" height="0.6" fill="#fff" opacity=".2"/>
<rect x="818.27" y="312.58" width="11.5" height="0.6" fill="#fff" opacity=".2"/>
<rect x="818.27" y="324.68" width="11.5" height="0.6" fill="#fff" opacity=".2"/>
<rect x="818.27" y="336.94" width="11.5" height="0.6" fill="#fff" opacity=".2"/>
<rect x="818.27" y="351.55" width="11.5" height="0.6" fill="#fff" opacity=".2"/>
<rect x="818.27" y="364.65" width="11.5" height="0.6" fill="#fff" opacity=".2"/>
<rect x="818.27" y="366.67" width="11.5" height="0.6" fill="#fff" opacity=".2"/>
<rect x="818.27" y="381.45" width="11.5" height="0.6" fill="#fff" opacity=".2"/>
<rect x="818.27" y="395.73" width="11.5" height="0.6" fill="#fff" opacity=".2"/>
<rect x="818.27" y="410.85" width="11.5" height="0.6" fill="#fff" opacity=".2"/>
<rect x="818.27" y="424.62" width="11.5" height="0.6" fill="#fff" opacity=".2"/>
<rect x="818.27" y="435.54" width="11.5" height="0.6" fill="#fff" opacity=".2"/>
<rect x="818.27" y="447.80" width="11.5" height="0.6" fill="#fff" opacity=".2"/>
<rect x="818.27" y="456.54" width="11.5" height="0.6" fill="#fff" opacity=".2"/>
<rect x="818.27" y="460.40" width="11.5" height="0.6" fill="#fff" opacity=".2"/>
<rect x="818.27" y="468.46" width="11.5" height="0.6" fill="#fff" opacity=".2"/>
<rect x="832.76" y="275.42" width="11.5" height="15.45" fill="#f2aa9a"/>
<rect x="832.76" y="290.88" width="11.5" height="18.98" fill="#e65a35"/>
<rect x="832.76" y="309.86" width="11.5" height="19.82" fill="#fcebcc"/>
<rect x="832.76" y="329.68" width="11.5" height="20.16" fill="#faDDa0"/>
<rect x="832.76" y="349.84" width="11.5" height="15.12" fill="#f8c55e"/>
<rect x="832.76" y="364.95" width="11.5" height="8.73" fill="#ffaa00"/>
<rect x="832.76" y="373.69" width="11.5" height="5.21" fill="#e87005"/>
<rect x="832.76" y="378.90" width="11.5" height="18.31" fill="#d5d5fa"/>
<rect x="832.76" y="397.20" width="11.5" height="14.78" fill="#a2a2f2"/>
<rect x="832.76" y="411.99" width="11.5" height="12.09" fill="#6064ee"/>
<rect x="832.76" y="424.08" width="11.5" height="16.80" fill="#1f1fae"/>
<rect x="832.76" y="440.88" width="11.5" height="7.73" fill="#deeae6"/>
<rect x="832.76" y="448.60" width="11.5" height="12.09" fill="#a9c9bd"/>
<rect x="832.76" y="460.70" width="11.5" height="2.18" fill="#78ac9a"/>
<rect x="832.76" y="462.88" width="11.5" height="2.02" fill="#76aa98"/>
<rect x="832.76" y="464.90" width="11.5" height="3.86" fill="#2e9a77"/>
<rect x="832.76" y="468.76" width="11.5" height="7.89" fill="#0b6b4e"/>
<rect x="832.76" y="290.58" width="11.5" height="0.6" fill="#fff" opacity=".2"/>
<rect x="832.76" y="309.56" width="11.5" height="0.6" fill="#fff" opacity=".2"/>
<rect x="832.76" y="329.38" width="11.5" height="0.6" fill="#fff" opacity=".2"/>
<rect x="832.76" y="349.54" width="11.5" height="0.6" fill="#fff" opacity=".2"/>
<rect x="832.76" y="364.65" width="11.5" height="0.6" fill="#fff" opacity=".2"/>
<rect x="832.76" y="373.39" width="11.5" height="0.6" fill="#fff" opacity=".2"/>
<rect x="832.76" y="378.60" width="11.5" height="0.6" fill="#fff" opacity=".2"/>
<rect x="832.76" y="396.90" width="11.5" height="0.6" fill="#fff" opacity=".2"/>
<rect x="832.76" y="411.69" width="11.5" height="0.6" fill="#fff" opacity=".2"/>
<rect x="832.76" y="423.78" width="11.5" height="0.6" fill="#fff" opacity=".2"/>
<rect x="832.76" y="440.58" width="11.5" height="0.6" fill="#fff" opacity=".2"/>
<rect x="832.76" y="448.30" width="11.5" height="0.6" fill="#fff" opacity=".2"/>
<rect x="832.76" y="460.40" width="11.5" height="0.6" fill="#fff" opacity=".2"/>
<rect x="832.76" y="462.58" width="11.5" height="0.6" fill="#fff" opacity=".2"/>
<rect x="832.76" y="464.60" width="11.5" height="0.6" fill="#fff" opacity=".2"/>
<rect x="832.76" y="468.46" width="11.5" height="0.6" fill="#fff" opacity=".2"/>
<rect x="847.25" y="276.60" width="11.5" height="12.26" fill="#f2aa9a"/>
<rect x="847.25" y="288.86" width="11.5" height="15.12" fill="#e65a35"/>
<rect x="847.25" y="303.98" width="11.5" height="15.96" fill="#fcebcc"/>
<rect x="847.25" y="319.94" width="11.5" height="15.96" fill="#faDDa0"/>
<rect x="847.25" y="335.89" width="11.5" height="14.78" fill="#f8c55e"/>
<rect x="847.25" y="350.68" width="11.5" height="13.10" fill="#ffaa00"/>
<rect x="847.25" y="363.78" width="11.5" height="2.02" fill="#e87005"/>
<rect x="847.25" y="365.79" width="11.5" height="18.14" fill="#d5d5fa"/>
<rect x="847.25" y="383.94" width="11.5" height="14.95" fill="#a2a2f2"/>
<rect x="847.25" y="398.88" width="11.5" height="8.90" fill="#6064ee"/>
<rect x="847.25" y="407.79" width="11.5" height="17.13" fill="#1f1fae"/>
<rect x="847.25" y="424.92" width="11.5" height="14.45" fill="#deeae6"/>
<rect x="847.25" y="439.37" width="11.5" height="12.60" fill="#a9c9bd"/>
<rect x="847.25" y="451.96" width="11.5" height="6.72" fill="#78ac9a"/>
<rect x="847.25" y="458.68" width="11.5" height="6.22" fill="#76aa98"/>
<rect x="847.25" y="464.90" width="11.5" height="3.86" fill="#2e9a77"/>
<rect x="847.25" y="468.76" width="11.5" height="7.89" fill="#0b6b4e"/>
<rect x="847.25" y="288.56" width="11.5" height="0.6" fill="#fff" opacity=".2"/>
<rect x="847.25" y="303.68" width="11.5" height="0.6" fill="#fff" opacity=".2"/>
<rect x="847.25" y="319.64" width="11.5" height="0.6" fill="#fff" opacity=".2"/>
<rect x="847.25" y="335.59" width="11.5" height="0.6" fill="#fff" opacity=".2"/>
<rect x="847.25" y="350.38" width="11.5" height="0.6" fill="#fff" opacity=".2"/>
<rect x="847.25" y="363.48" width="11.5" height="0.6" fill="#fff" opacity=".2"/>
<rect x="847.25" y="365.49" width="11.5" height="0.6" fill="#fff" opacity=".2"/>
<rect x="847.25" y="383.64" width="11.5" height="0.6" fill="#fff" opacity=".2"/>
<rect x="847.25" y="398.58" width="11.5" height="0.6" fill="#fff" opacity=".2"/>
<rect x="847.25" y="407.49" width="11.5" height="0.6" fill="#fff" opacity=".2"/>
<rect x="847.25" y="424.62" width="11.5" height="0.6" fill="#fff" opacity=".2"/>
<rect x="847.25" y="439.07" width="11.5" height="0.6" fill="#fff" opacity=".2"/>
<rect x="847.25" y="451.66" width="11.5" height="0.6" fill="#fff" opacity=".2"/>
<rect x="847.25" y="458.38" width="11.5" height="0.6" fill="#fff" opacity=".2"/>
<rect x="847.25" y="464.60" width="11.5" height="0.6" fill="#fff" opacity=".2"/>
<rect x="847.25" y="468.46" width="11.5" height="0.6" fill="#fff" opacity=".2"/>
<rect x="861.74" y="235.45" width="11.5" height="12.26" fill="#f2aa9a"/>
<rect x="861.74" y="247.71" width="11.5" height="15.45" fill="#e65a35"/>
<rect x="861.74" y="263.16" width="11.5" height="15.62" fill="#fcebcc"/>
<rect x="861.74" y="278.78" width="11.5" height="15.96" fill="#faDDa0"/>
<rect x="861.74" y="294.74" width="11.5" height="15.12" fill="#f8c55e"/>
<rect x="861.74" y="309.86" width="11.5" height="12.60" fill="#ffaa00"/>
<rect x="861.74" y="322.46" width="11.5" height="7.73" fill="#e87005"/>
<rect x="861.74" y="330.18" width="11.5" height="18.81" fill="#d5d5fa"/>
<rect x="861.74" y="349.00" width="11.5" height="14.28" fill="#a2a2f2"/>
<rect x="861.74" y="363.27" width="11.5" height="12.26" fill="#6064ee"/>
<rect x="861.74" y="375.54" width="11.5" height="16.63" fill="#1f1fae"/>
<rect x="861.74" y="392.17" width="11.5" height="11.76" fill="#deeae6"/>
<rect x="861.74" y="403.92" width="11.5" height="11.93" fill="#a9c9bd"/>
<rect x="861.74" y="415.85" width="11.5" height="12.93" fill="#78ac9a"/>
<rect x="861.74" y="428.78" width="11.5" height="19.82" fill="#76aa98"/>
<rect x="861.74" y="448.60" width="11.5" height="20.16" fill="#2e9a77"/>
<rect x="861.74" y="468.76" width="11.5" height="7.89" fill="#0b6b4e"/>
<rect x="861.74" y="247.41" width="11.5" height="0.6" fill="#fff" opacity=".2"/>
<rect x="861.74" y="262.86" width="11.5" height="0.6" fill="#fff" opacity=".2"/>
<rect x="861.74" y="278.48" width="11.5" height="0.6" fill="#fff" opacity=".2"/>
<rect x="861.74" y="294.44" width="11.5" height="0.6" fill="#fff" opacity=".2"/>
<rect x="861.74" y="309.56" width="11.5" height="0.6" fill="#fff" opacity=".2"/>
<rect x="861.74" y="322.16" width="11.5" height="0.6" fill="#fff" opacity=".2"/>
<rect x="861.74" y="329.88" width="11.5" height="0.6" fill="#fff" opacity=".2"/>
<rect x="861.74" y="348.70" width="11.5" height="0.6" fill="#fff" opacity=".2"/>
<rect x="861.74" y="362.97" width="11.5" height="0.6" fill="#fff" opacity=".2"/>
<rect x="861.74" y="375.24" width="11.5" height="0.6" fill="#fff" opacity=".2"/>
<rect x="861.74" y="391.87" width="11.5" height="0.6" fill="#fff" opacity=".2"/>
<rect x="861.74" y="403.62" width="11.5" height="0.6" fill="#fff" opacity=".2"/>
<rect x="861.74" y="415.55" width="11.5" height="0.6" fill="#fff" opacity=".2"/>
<rect x="861.74" y="428.48" width="11.5" height="0.6" fill="#fff" opacity=".2"/>
<rect x="861.74" y="448.30" width="11.5" height="0.6" fill="#fff" opacity=".2"/>
<rect x="861.74" y="468.46" width="11.5" height="0.6" fill="#fff" opacity=".2"/>
<rect x="876.23" y="307.34" width="11.5" height="9.57" fill="#f2aa9a"/>
<rect x="876.23" y="316.91" width="11.5" height="10.25" fill="#e65a35"/>
<rect x="876.23" y="327.16" width="11.5" height="8.73" fill="#fcebcc"/>
<rect x="876.23" y="335.89" width="11.5" height="11.93" fill="#faDDa0"/>
<rect x="876.23" y="347.82" width="11.5" height="9.91" fill="#f8c55e"/>
<rect x="876.23" y="357.73" width="11.5" height="9.24" fill="#ffaa00"/>
<rect x="876.23" y="366.97" width="11.5" height="3.02" fill="#e87005"/>
<rect x="876.23" y="369.99" width="11.5" height="11.42" fill="#d5d5fa"/>
<rect x="876.23" y="381.42" width="11.5" height="10.92" fill="#a2a2f2"/>
<rect x="876.23" y="392.33" width="11.5" height="9.57" fill="#6064ee"/>
<rect x="876.23" y="401.91" width="11.5" height="16.46" fill="#1f1fae"/>
<rect x="876.23" y="418.37" width="11.5" height="11.25" fill="#deeae6"/>
<rect x="876.23" y="429.62" width="11.5" height="6.22" fill="#a9c9bd"/>
<rect x="876.23" y="435.84" width="11.5" height="12.77" fill="#78ac9a"/>
<rect x="876.23" y="448.60" width="11.5" height="8.23" fill="#76aa98"/>
<rect x="876.23" y="456.84" width="11.5" height="11.93" fill="#2e9a77"/>
<rect x="876.23" y="468.76" width="11.5" height="7.89" fill="#0b6b4e"/>
<rect x="876.23" y="316.61" width="11.5" height="0.6" fill="#fff" opacity=".2"/>
<rect x="876.23" y="326.86" width="11.5" height="0.6" fill="#fff" opacity=".2"/>
<rect x="876.23" y="335.59" width="11.5" height="0.6" fill="#fff" opacity=".2"/>
<rect x="876.23" y="347.52" width="11.5" height="0.6" fill="#fff" opacity=".2"/>
<rect x="876.23" y="357.43" width="11.5" height="0.6" fill="#fff" opacity=".2"/>
<rect x="876.23" y="366.67" width="11.5" height="0.6" fill="#fff" opacity=".2"/>
<rect x="876.23" y="369.69" width="11.5" height="0.6" fill="#fff" opacity=".2"/>
<rect x="876.23" y="381.12" width="11.5" height="0.6" fill="#fff" opacity=".2"/>
<rect x="876.23" y="392.03" width="11.5" height="0.6" fill="#fff" opacity=".2"/>
<rect x="876.23" y="401.61" width="11.5" height="0.6" fill="#fff" opacity=".2"/>
<rect x="876.23" y="418.07" width="11.5" height="0.6" fill="#fff" opacity=".2"/>
<rect x="876.23" y="429.32" width="11.5" height="0.6" fill="#fff" opacity=".2"/>
<rect x="876.23" y="435.54" width="11.5" height="0.6" fill="#fff" opacity=".2"/>
<rect x="876.23" y="448.30" width="11.5" height="0.6" fill="#fff" opacity=".2"/>
<rect x="876.23" y="456.54" width="11.5" height="0.6" fill="#fff" opacity=".2"/>
<rect x="876.23" y="468.46" width="11.5" height="0.6" fill="#fff" opacity=".2"/>
<rect x="890.72" y="353.20" width="11.5" height="3.70" fill="#f2aa9a"/>
<rect x="890.72" y="356.89" width="11.5" height="3.36" fill="#e65a35"/>
<rect x="890.72" y="360.25" width="11.5" height="3.53" fill="#fcebcc"/>
<rect x="890.72" y="363.78" width="11.5" height="4.20" fill="#faDDa0"/>
<rect x="890.72" y="367.98" width="11.5" height="0.34" fill="#f8c55e"/>
<rect x="890.72" y="368.31" width="11.5" height="8.73" fill="#ffaa00"/>
<rect x="890.72" y="377.05" width="11.5" height="3.86" fill="#e87005"/>
<rect x="890.72" y="380.91" width="11.5" height="7.22" fill="#d5d5fa"/>
<rect x="890.72" y="388.13" width="11.5" height="10.75" fill="#a2a2f2"/>
<rect x="890.72" y="398.88" width="11.5" height="15.62" fill="#6064ee"/>
<rect x="890.72" y="414.51" width="11.5" height="6.38" fill="#1f1fae"/>
<rect x="890.72" y="420.89" width="11.5" height="7.56" fill="#deeae6"/>
<rect x="890.72" y="428.45" width="11.5" height="3.36" fill="#a9c9bd"/>
<rect x="890.72" y="431.81" width="11.5" height="12.43" fill="#78ac9a"/>
<rect x="890.72" y="444.24" width="11.5" height="12.60" fill="#76aa98"/>
<rect x="890.72" y="456.84" width="11.5" height="11.93" fill="#2e9a77"/>
<rect x="890.72" y="468.76" width="11.5" height="7.89" fill="#0b6b4e"/>
<rect x="890.72" y="356.59" width="11.5" height="0.6" fill="#fff" opacity=".2"/>
<rect x="890.72" y="359.95" width="11.5" height="0.6" fill="#fff" opacity=".2"/>
<rect x="890.72" y="363.48" width="11.5" height="0.6" fill="#fff" opacity=".2"/>
<rect x="890.72" y="367.68" width="11.5" height="0.6" fill="#fff" opacity=".2"/>
<rect x="890.72" y="368.01" width="11.5" height="0.6" fill="#fff" opacity=".2"/>
<rect x="890.72" y="376.75" width="11.5" height="0.6" fill="#fff" opacity=".2"/>
<rect x="890.72" y="380.61" width="11.5" height="0.6" fill="#fff" opacity=".2"/>
<rect x="890.72" y="387.83" width="11.5" height="0.6" fill="#fff" opacity=".2"/>
<rect x="890.72" y="398.58" width="11.5" height="0.6" fill="#fff" opacity=".2"/>
<rect x="890.72" y="414.21" width="11.5" height="0.6" fill="#fff" opacity=".2"/>
<rect x="890.72" y="420.59" width="11.5" height="0.6" fill="#fff" opacity=".2"/>
<rect x="890.72" y="428.15" width="11.5" height="0.6" fill="#fff" opacity=".2"/>
<rect x="890.72" y="431.51" width="11.5" height="0.6" fill="#fff" opacity=".2"/>
<rect x="890.72" y="443.94" width="11.5" height="0.6" fill="#fff" opacity=".2"/>
<rect x="890.72" y="456.54" width="11.5" height="0.6" fill="#fff" opacity=".2"/>
<rect x="890.72" y="468.46" width="11.5" height="0.6" fill="#fff" opacity=".2"/>
<rect x="905.21" y="340.09" width="11.5" height="7.73" fill="#f2aa9a"/>
<rect x="905.21" y="347.82" width="11.5" height="9.57" fill="#e65a35"/>
<rect x="905.21" y="357.40" width="11.5" height="5.54" fill="#fcebcc"/>
<rect x="905.21" y="362.94" width="11.5" height="5.88" fill="#faDDa0"/>
<rect x="905.21" y="368.82" width="11.5" height="12.60" fill="#f8c55e"/>
<rect x="905.21" y="381.42" width="11.5" height="11.25" fill="#ffaa00"/>
<rect x="905.21" y="392.67" width="11.5" height="4.20" fill="#e87005"/>
<rect x="905.21" y="396.87" width="11.5" height="9.57" fill="#d5d5fa"/>
<rect x="905.21" y="406.44" width="11.5" height="10.58" fill="#a2a2f2"/>
<rect x="905.21" y="417.03" width="11.5" height="10.92" fill="#6064ee"/>
<rect x="905.21" y="427.94" width="11.5" height="8.06" fill="#1f1fae"/>
<rect x="905.21" y="436.01" width="11.5" height="5.88" fill="#deeae6"/>
<rect x="905.21" y="441.89" width="11.5" height="0.34" fill="#a9c9bd"/>
<rect x="905.21" y="442.22" width="11.5" height="8.40" fill="#78ac9a"/>
<rect x="905.21" y="450.62" width="11.5" height="12.26" fill="#76aa98"/>
<rect x="905.21" y="462.88" width="11.5" height="7.89" fill="#2e9a77"/>
<rect x="905.21" y="470.78" width="11.5" height="5.88" fill="#0b6b4e"/>
<rect x="905.21" y="347.52" width="11.5" height="0.6" fill="#fff" opacity=".2"/>
<rect x="905.21" y="357.10" width="11.5" height="0.6" fill="#fff" opacity=".2"/>
<rect x="905.21" y="362.64" width="11.5" height="0.6" fill="#fff" opacity=".2"/>
<rect x="905.21" y="368.52" width="11.5" height="0.6" fill="#fff" opacity=".2"/>
<rect x="905.21" y="381.12" width="11.5" height="0.6" fill="#fff" opacity=".2"/>
<rect x="905.21" y="392.37" width="11.5" height="0.6" fill="#fff" opacity=".2"/>
<rect x="905.21" y="396.57" width="11.5" height="0.6" fill="#fff" opacity=".2"/>
<rect x="905.21" y="406.14" width="11.5" height="0.6" fill="#fff" opacity=".2"/>
<rect x="905.21" y="416.73" width="11.5" height="0.6" fill="#fff" opacity=".2"/>
<rect x="905.21" y="427.64" width="11.5" height="0.6" fill="#fff" opacity=".2"/>
<rect x="905.21" y="435.71" width="11.5" height="0.6" fill="#fff" opacity=".2"/>
<rect x="905.21" y="441.59" width="11.5" height="0.6" fill="#fff" opacity=".2"/>
<rect x="905.21" y="441.92" width="11.5" height="0.6" fill="#fff" opacity=".2"/>
<rect x="905.21" y="450.32" width="11.5" height="0.6" fill="#fff" opacity=".2"/>
<rect x="905.21" y="462.58" width="11.5" height="0.6" fill="#fff" opacity=".2"/>
<rect x="905.21" y="470.48" width="11.5" height="0.6" fill="#fff" opacity=".2"/>
<rect x="919.70" y="300.28" width="11.5" height="15.45" fill="#f2aa9a"/>
<rect x="919.70" y="315.74" width="11.5" height="19.32" fill="#e65a35"/>
<rect x="919.70" y="335.05" width="11.5" height="11.76" fill="#fcebcc"/>
<rect x="919.70" y="346.81" width="11.5" height="11.93" fill="#faDDa0"/>
<rect x="919.70" y="358.74" width="11.5" height="10.08" fill="#f8c55e"/>
<rect x="919.70" y="368.82" width="11.5" height="8.73" fill="#ffaa00"/>
<rect x="919.70" y="377.55" width="11.5" height="8.40" fill="#e87005"/>
<rect x="919.70" y="385.95" width="11.5" height="18.14" fill="#d5d5fa"/>
<rect x="919.70" y="404.09" width="11.5" height="7.89" fill="#a2a2f2"/>
<rect x="919.70" y="411.99" width="11.5" height="3.86" fill="#6064ee"/>
<rect x="919.70" y="415.85" width="11.5" height="15.12" fill="#1f1fae"/>
<rect x="919.70" y="430.97" width="11.5" height="11.76" fill="#deeae6"/>
<rect x="919.70" y="442.73" width="11.5" height="9.24" fill="#a9c9bd"/>
<rect x="919.70" y="451.96" width="11.5" height="12.09" fill="#78ac9a"/>
<rect x="919.70" y="464.06" width="11.5" height="2.52" fill="#76aa98"/>
<rect x="919.70" y="466.58" width="11.5" height="4.20" fill="#2e9a77"/>
<rect x="919.70" y="470.78" width="11.5" height="5.88" fill="#0b6b4e"/>
<rect x="919.70" y="315.44" width="11.5" height="0.6" fill="#fff" opacity=".2"/>
<rect x="919.70" y="334.75" width="11.5" height="0.6" fill="#fff" opacity=".2"/>
<rect x="919.70" y="346.51" width="11.5" height="0.6" fill="#fff" opacity=".2"/>
<rect x="919.70" y="358.44" width="11.5" height="0.6" fill="#fff" opacity=".2"/>
<rect x="919.70" y="368.52" width="11.5" height="0.6" fill="#fff" opacity=".2"/>
<rect x="919.70" y="377.25" width="11.5" height="0.6" fill="#fff" opacity=".2"/>
<rect x="919.70" y="385.65" width="11.5" height="0.6" fill="#fff" opacity=".2"/>
<rect x="919.70" y="403.79" width="11.5" height="0.6" fill="#fff" opacity=".2"/>
<rect x="919.70" y="411.69" width="11.5" height="0.6" fill="#fff" opacity=".2"/>
<rect x="919.70" y="415.55" width="11.5" height="0.6" fill="#fff" opacity=".2"/>
<rect x="919.70" y="430.67" width="11.5" height="0.6" fill="#fff" opacity=".2"/>
<rect x="919.70" y="442.43" width="11.5" height="0.6" fill="#fff" opacity=".2"/>
<rect x="919.70" y="451.66" width="11.5" height="0.6" fill="#fff" opacity=".2"/>
<rect x="919.70" y="463.76" width="11.5" height="0.6" fill="#fff" opacity=".2"/>
<rect x="919.70" y="466.28" width="11.5" height="0.6" fill="#fff" opacity=".2"/>
<rect x="919.70" y="470.48" width="11.5" height="0.6" fill="#fff" opacity=".2"/>
<rect x="934.19" y="318.26" width="11.5" height="9.74" fill="#f2aa9a"/>
<rect x="934.19" y="328.00" width="11.5" height="10.92" fill="#e65a35"/>
<rect x="934.19" y="338.92" width="11.5" height="7.89" fill="#fcebcc"/>
<rect x="934.19" y="346.81" width="11.5" height="8.06" fill="#faDDa0"/>
<rect x="934.19" y="354.88" width="11.5" height="14.78" fill="#f8c55e"/>
<rect x="934.19" y="369.66" width="11.5" height="13.27" fill="#ffaa00"/>
<rect x="934.19" y="382.93" width="11.5" height="1.85" fill="#e87005"/>
<rect x="934.19" y="384.77" width="11.5" height="11.25" fill="#d5d5fa"/>
<rect x="934.19" y="396.03" width="11.5" height="7.05" fill="#a2a2f2"/>
<rect x="934.19" y="403.08" width="11.5" height="15.62" fill="#6064ee"/>
<rect x="934.19" y="418.71" width="11.5" height="9.74" fill="#1f1fae"/>
<rect x="934.19" y="428.45" width="11.5" height="3.70" fill="#deeae6"/>
<rect x="934.19" y="432.14" width="11.5" height="15.62" fill="#a9c9bd"/>
<rect x="934.19" y="447.76" width="11.5" height="12.93" fill="#78ac9a"/>
<rect x="934.19" y="460.70" width="11.5" height="4.20" fill="#76aa98"/>
<rect x="934.19" y="464.90" width="11.5" height="7.89" fill="#2e9a77"/>
<rect x="934.19" y="472.79" width="11.5" height="3.86" fill="#0b6b4e"/>
<rect x="934.19" y="327.70" width="11.5" height="0.6" fill="#fff" opacity=".2"/>
<rect x="934.19" y="338.62" width="11.5" height="0.6" fill="#fff" opacity=".2"/>
<rect x="934.19" y="346.51" width="11.5" height="0.6" fill="#fff" opacity=".2"/>
<rect x="934.19" y="354.58" width="11.5" height="0.6" fill="#fff" opacity=".2"/>
<rect x="934.19" y="369.36" width="11.5" height="0.6" fill="#fff" opacity=".2"/>
<rect x="934.19" y="382.63" width="11.5" height="0.6" fill="#fff" opacity=".2"/>
<rect x="934.19" y="384.47" width="11.5" height="0.6" fill="#fff" opacity=".2"/>
<rect x="934.19" y="395.73" width="11.5" height="0.6" fill="#fff" opacity=".2"/>
<rect x="934.19" y="402.78" width="11.5" height="0.6" fill="#fff" opacity=".2"/>
<rect x="934.19" y="418.41" width="11.5" height="0.6" fill="#fff" opacity=".2"/>
<rect x="934.19" y="428.15" width="11.5" height="0.6" fill="#fff" opacity=".2"/>
<rect x="934.19" y="431.84" width="11.5" height="0.6" fill="#fff" opacity=".2"/>
<rect x="934.19" y="447.46" width="11.5" height="0.6" fill="#fff" opacity=".2"/>
<rect x="934.19" y="460.40" width="11.5" height="0.6" fill="#fff" opacity=".2"/>
<rect x="934.19" y="464.60" width="11.5" height="0.6" fill="#fff" opacity=".2"/>
<rect x="934.19" y="472.49" width="11.5" height="0.6" fill="#fff" opacity=".2"/>
<rect x="948.68" y="213.27" width="11.5" height="15.62" fill="#f2aa9a"/>
<rect x="948.68" y="228.90" width="11.5" height="18.81" fill="#e65a35"/>
<rect x="948.68" y="247.71" width="11.5" height="15.45" fill="#fcebcc"/>
<rect x="948.68" y="263.16" width="11.5" height="16.80" fill="#faDDa0"/>
<rect x="948.68" y="279.96" width="11.5" height="23.68" fill="#f8c55e"/>
<rect x="948.68" y="303.64" width="11.5" height="22.51" fill="#ffaa00"/>
<rect x="948.68" y="326.15" width="11.5" height="7.39" fill="#e87005"/>
<rect x="948.68" y="333.54" width="11.5" height="18.48" fill="#d5d5fa"/>
<rect x="948.68" y="352.02" width="11.5" height="14.95" fill="#a2a2f2"/>
<rect x="948.68" y="366.97" width="11.5" height="14.78" fill="#6064ee"/>
<rect x="948.68" y="381.75" width="11.5" height="16.80" fill="#1f1fae"/>
<rect x="948.68" y="398.55" width="11.5" height="15.12" fill="#deeae6"/>
<rect x="948.68" y="413.67" width="11.5" height="9.24" fill="#a9c9bd"/>
<rect x="948.68" y="422.90" width="11.5" height="21.33" fill="#78ac9a"/>
<rect x="948.68" y="444.24" width="11.5" height="12.60" fill="#76aa98"/>
<rect x="948.68" y="456.84" width="11.5" height="15.96" fill="#2e9a77"/>
<rect x="948.68" y="472.79" width="11.5" height="3.86" fill="#0b6b4e"/>
<rect x="948.68" y="228.60" width="11.5" height="0.6" fill="#fff" opacity=".2"/>
<rect x="948.68" y="247.41" width="11.5" height="0.6" fill="#fff" opacity=".2"/>
<rect x="948.68" y="262.86" width="11.5" height="0.6" fill="#fff" opacity=".2"/>
<rect x="948.68" y="279.66" width="11.5" height="0.6" fill="#fff" opacity=".2"/>
<rect x="948.68" y="303.34" width="11.5" height="0.6" fill="#fff" opacity=".2"/>
<rect x="948.68" y="325.85" width="11.5" height="0.6" fill="#fff" opacity=".2"/>
<rect x="948.68" y="333.24" width="11.5" height="0.6" fill="#fff" opacity=".2"/>
<rect x="948.68" y="351.72" width="11.5" height="0.6" fill="#fff" opacity=".2"/>
<rect x="948.68" y="366.67" width="11.5" height="0.6" fill="#fff" opacity=".2"/>
<rect x="948.68" y="381.45" width="11.5" height="0.6" fill="#fff" opacity=".2"/>
<rect x="948.68" y="398.25" width="11.5" height="0.6" fill="#fff" opacity=".2"/>
<rect x="948.68" y="413.37" width="11.5" height="0.6" fill="#fff" opacity=".2"/>
<rect x="948.68" y="422.60" width="11.5" height="0.6" fill="#fff" opacity=".2"/>
<rect x="948.68" y="443.94" width="11.5" height="0.6" fill="#fff" opacity=".2"/>
<rect x="948.68" y="456.54" width="11.5" height="0.6" fill="#fff" opacity=".2"/>
<rect x="948.68" y="472.49" width="11.5" height="0.6" fill="#fff" opacity=".2"/>
<rect x="963.17" y="247.20" width="11.5" height="12.60" fill="#f2aa9a"/>
<rect x="963.17" y="259.80" width="11.5" height="18.98" fill="#e65a35"/>
<rect x="963.17" y="278.78" width="11.5" height="19.65" fill="#fcebcc"/>
<rect x="963.17" y="298.44" width="11.5" height="16.46" fill="#faDDa0"/>
<rect x="963.17" y="314.90" width="11.5" height="24.02" fill="#f8c55e"/>
<rect x="963.17" y="338.92" width="11.5" height="8.90" fill="#ffaa00"/>
<rect x="963.17" y="347.82" width="11.5" height="3.70" fill="#e87005"/>
<rect x="963.17" y="351.52" width="11.5" height="18.48" fill="#d5d5fa"/>
<rect x="963.17" y="369.99" width="11.5" height="7.05" fill="#a2a2f2"/>
<rect x="963.17" y="377.05" width="11.5" height="3.02" fill="#6064ee"/>
<rect x="963.17" y="380.07" width="11.5" height="16.80" fill="#1f1fae"/>
<rect x="963.17" y="396.87" width="11.5" height="11.42" fill="#deeae6"/>
<rect x="963.17" y="408.29" width="11.5" height="15.45" fill="#a9c9bd"/>
<rect x="963.17" y="423.74" width="11.5" height="12.60" fill="#78ac9a"/>
<rect x="963.17" y="436.34" width="11.5" height="16.46" fill="#76aa98"/>
<rect x="963.17" y="452.80" width="11.5" height="19.99" fill="#2e9a77"/>
<rect x="963.17" y="472.79" width="11.5" height="3.86" fill="#0b6b4e"/>
<rect x="963.17" y="259.50" width="11.5" height="0.6" fill="#fff" opacity=".2"/>
<rect x="963.17" y="278.48" width="11.5" height="0.6" fill="#fff" opacity=".2"/>
<rect x="963.17" y="298.14" width="11.5" height="0.6" fill="#fff" opacity=".2"/>
<rect x="963.17" y="314.60" width="11.5" height="0.6" fill="#fff" opacity=".2"/>
<rect x="963.17" y="338.62" width="11.5" height="0.6" fill="#fff" opacity=".2"/>
<rect x="963.17" y="347.52" width="11.5" height="0.6" fill="#fff" opacity=".2"/>
<rect x="963.17" y="351.22" width="11.5" height="0.6" fill="#fff" opacity=".2"/>
<rect x="963.17" y="369.69" width="11.5" height="0.6" fill="#fff" opacity=".2"/>
<rect x="963.17" y="376.75" width="11.5" height="0.6" fill="#fff" opacity=".2"/>
<rect x="963.17" y="379.77" width="11.5" height="0.6" fill="#fff" opacity=".2"/>
<rect x="963.17" y="396.57" width="11.5" height="0.6" fill="#fff" opacity=".2"/>
<rect x="963.17" y="407.99" width="11.5" height="0.6" fill="#fff" opacity=".2"/>
<rect x="963.17" y="423.44" width="11.5" height="0.6" fill="#fff" opacity=".2"/>
<rect x="963.17" y="436.04" width="11.5" height="0.6" fill="#fff" opacity=".2"/>
<rect x="963.17" y="452.50" width="11.5" height="0.6" fill="#fff" opacity=".2"/>
<rect x="963.17" y="472.49" width="11.5" height="0.6" fill="#fff" opacity=".2"/>
<rect x="977.66" y="302.64" width="11.5" height="9.24" fill="#f2aa9a"/>
<rect x="977.66" y="311.87" width="11.5" height="7.73" fill="#e65a35"/>
<rect x="977.66" y="319.60" width="11.5" height="19.32" fill="#fcebcc"/>
<rect x="977.66" y="338.92" width="11.5" height="15.96" fill="#faDDa0"/>
<rect x="977.66" y="354.88" width="11.5" height="14.78" fill="#f8c55e"/>
<rect x="977.66" y="369.66" width="11.5" height="13.44" fill="#ffaa00"/>
<rect x="977.66" y="383.10" width="11.5" height="3.36" fill="#e87005"/>
<rect x="977.66" y="386.45" width="11.5" height="11.59" fill="#d5d5fa"/>
<rect x="977.66" y="398.04" width="11.5" height="6.89" fill="#a2a2f2"/>
<rect x="977.66" y="404.93" width="11.5" height="3.19" fill="#6064ee"/>
<rect x="977.66" y="408.12" width="11.5" height="9.74" fill="#1f1fae"/>
<rect x="977.66" y="417.87" width="11.5" height="11.42" fill="#deeae6"/>
<rect x="977.66" y="429.29" width="11.5" height="14.95" fill="#a9c9bd"/>
<rect x="977.66" y="444.24" width="11.5" height="3.86" fill="#78ac9a"/>
<rect x="977.66" y="448.10" width="11.5" height="12.60" fill="#76aa98"/>
<rect x="977.66" y="460.70" width="11.5" height="12.09" fill="#2e9a77"/>
<rect x="977.66" y="472.79" width="11.5" height="3.86" fill="#0b6b4e"/>
<rect x="977.66" y="311.57" width="11.5" height="0.6" fill="#fff" opacity=".2"/>
<rect x="977.66" y="319.30" width="11.5" height="0.6" fill="#fff" opacity=".2"/>
<rect x="977.66" y="338.62" width="11.5" height="0.6" fill="#fff" opacity=".2"/>
<rect x="977.66" y="354.58" width="11.5" height="0.6" fill="#fff" opacity=".2"/>
<rect x="977.66" y="369.36" width="11.5" height="0.6" fill="#fff" opacity=".2"/>
<rect x="977.66" y="382.80" width="11.5" height="0.6" fill="#fff" opacity=".2"/>
<rect x="977.66" y="386.15" width="11.5" height="0.6" fill="#fff" opacity=".2"/>
<rect x="977.66" y="397.74" width="11.5" height="0.6" fill="#fff" opacity=".2"/>
<rect x="977.66" y="404.63" width="11.5" height="0.6" fill="#fff" opacity=".2"/>
<rect x="977.66" y="407.82" width="11.5" height="0.6" fill="#fff" opacity=".2"/>
<rect x="977.66" y="417.57" width="11.5" height="0.6" fill="#fff" opacity=".2"/>
<rect x="977.66" y="428.99" width="11.5" height="0.6" fill="#fff" opacity=".2"/>
<rect x="977.66" y="443.94" width="11.5" height="0.6" fill="#fff" opacity=".2"/>
<rect x="977.66" y="447.80" width="11.5" height="0.6" fill="#fff" opacity=".2"/>
<rect x="977.66" y="460.40" width="11.5" height="0.6" fill="#fff" opacity=".2"/>
<rect x="977.66" y="472.49" width="11.5" height="0.6" fill="#fff" opacity=".2"/>
<rect x="992.15" y="263.33" width="11.5" height="15.45" fill="#f2aa9a"/>
<rect x="992.15" y="278.78" width="11.5" height="11.25" fill="#e65a35"/>
<rect x="992.15" y="290.04" width="11.5" height="15.62" fill="#fcebcc"/>
<rect x="992.15" y="305.66" width="11.5" height="16.29" fill="#faDDa0"/>
<rect x="992.15" y="321.95" width="11.5" height="9.74" fill="#f8c55e"/>
<rect x="992.15" y="331.70" width="11.5" height="13.10" fill="#ffaa00"/>
<rect x="992.15" y="344.80" width="11.5" height="3.70" fill="#e87005"/>
<rect x="992.15" y="348.49" width="11.5" height="14.78" fill="#d5d5fa"/>
<rect x="992.15" y="363.27" width="11.5" height="10.58" fill="#a2a2f2"/>
<rect x="992.15" y="373.86" width="11.5" height="15.79" fill="#6064ee"/>
<rect x="992.15" y="389.65" width="11.5" height="13.10" fill="#1f1fae"/>
<rect x="992.15" y="402.75" width="11.5" height="7.56" fill="#deeae6"/>
<rect x="992.15" y="410.31" width="11.5" height="12.60" fill="#a9c9bd"/>
<rect x="992.15" y="422.90" width="11.5" height="21.33" fill="#78ac9a"/>
<rect x="992.15" y="444.24" width="11.5" height="12.60" fill="#76aa98"/>
<rect x="992.15" y="456.84" width="11.5" height="15.96" fill="#2e9a77"/>
<rect x="992.15" y="472.79" width="11.5" height="3.86" fill="#0b6b4e"/>
<rect x="992.15" y="278.48" width="11.5" height="0.6" fill="#fff" opacity=".2"/>
<rect x="992.15" y="289.74" width="11.5" height="0.6" fill="#fff" opacity=".2"/>
<rect x="992.15" y="305.36" width="11.5" height="0.6" fill="#fff" opacity=".2"/>
<rect x="992.15" y="321.65" width="11.5" height="0.6" fill="#fff" opacity=".2"/>
<rect x="992.15" y="331.40" width="11.5" height="0.6" fill="#fff" opacity=".2"/>
<rect x="992.15" y="344.50" width="11.5" height="0.6" fill="#fff" opacity=".2"/>
<rect x="992.15" y="348.19" width="11.5" height="0.6" fill="#fff" opacity=".2"/>
<rect x="992.15" y="362.97" width="11.5" height="0.6" fill="#fff" opacity=".2"/>
<rect x="992.15" y="373.56" width="11.5" height="0.6" fill="#fff" opacity=".2"/>
<rect x="992.15" y="389.35" width="11.5" height="0.6" fill="#fff" opacity=".2"/>
<rect x="992.15" y="402.45" width="11.5" height="0.6" fill="#fff" opacity=".2"/>
<rect x="992.15" y="410.01" width="11.5" height="0.6" fill="#fff" opacity=".2"/>
<rect x="992.15" y="422.60" width="11.5" height="0.6" fill="#fff" opacity=".2"/>
<rect x="992.15" y="443.94" width="11.5" height="0.6" fill="#fff" opacity=".2"/>
<rect x="992.15" y="456.54" width="11.5" height="0.6" fill="#fff" opacity=".2"/>
<rect x="992.15" y="472.49" width="11.5" height="0.6" fill="#fff" opacity=".2"/>
<rect x="1006.64" y="287.69" width="11.5" height="15.45" fill="#f2aa9a"/>
<rect x="1006.64" y="303.14" width="11.5" height="18.81" fill="#e65a35"/>
<rect x="1006.64" y="321.95" width="11.5" height="11.93" fill="#fcebcc"/>
<rect x="1006.64" y="333.88" width="11.5" height="8.06" fill="#faDDa0"/>
<rect x="1006.64" y="341.94" width="11.5" height="19.99" fill="#f8c55e"/>
<rect x="1006.64" y="361.93" width="11.5" height="13.10" fill="#ffaa00"/>
<rect x="1006.64" y="375.03" width="11.5" height="3.36" fill="#e87005"/>
<rect x="1006.64" y="378.39" width="11.5" height="14.78" fill="#d5d5fa"/>
<rect x="1006.64" y="393.17" width="11.5" height="10.75" fill="#a2a2f2"/>
<rect x="1006.64" y="403.92" width="11.5" height="3.02" fill="#6064ee"/>
<rect x="1006.64" y="406.95" width="11.5" height="13.77" fill="#1f1fae"/>
<rect x="1006.64" y="420.72" width="11.5" height="14.78" fill="#deeae6"/>
<rect x="1006.64" y="435.50" width="11.5" height="12.26" fill="#a9c9bd"/>
<rect x="1006.64" y="447.76" width="11.5" height="12.93" fill="#78ac9a"/>
<rect x="1006.64" y="460.70" width="11.5" height="8.40" fill="#76aa98"/>
<rect x="1006.64" y="469.10" width="11.5" height="3.70" fill="#2e9a77"/>
<rect x="1006.64" y="472.79" width="11.5" height="3.86" fill="#0b6b4e"/>
<rect x="1006.64" y="302.84" width="11.5" height="0.6" fill="#fff" opacity=".2"/>
<rect x="1006.64" y="321.65" width="11.5" height="0.6" fill="#fff" opacity=".2"/>
<rect x="1006.64" y="333.58" width="11.5" height="0.6" fill="#fff" opacity=".2"/>
<rect x="1006.64" y="341.64" width="11.5" height="0.6" fill="#fff" opacity=".2"/>
<rect x="1006.64" y="361.63" width="11.5" height="0.6" fill="#fff" opacity=".2"/>
<rect x="1006.64" y="374.73" width="11.5" height="0.6" fill="#fff" opacity=".2"/>
<rect x="1006.64" y="378.09" width="11.5" height="0.6" fill="#fff" opacity=".2"/>
<rect x="1006.64" y="392.87" width="11.5" height="0.6" fill="#fff" opacity=".2"/>
<rect x="1006.64" y="403.62" width="11.5" height="0.6" fill="#fff" opacity=".2"/>
<rect x="1006.64" y="406.65" width="11.5" height="0.6" fill="#fff" opacity=".2"/>
<rect x="1006.64" y="420.42" width="11.5" height="0.6" fill="#fff" opacity=".2"/>
<rect x="1006.64" y="435.20" width="11.5" height="0.6" fill="#fff" opacity=".2"/>
<rect x="1006.64" y="447.46" width="11.5" height="0.6" fill="#fff" opacity=".2"/>
<rect x="1006.64" y="460.40" width="11.5" height="0.6" fill="#fff" opacity=".2"/>
<rect x="1006.64" y="468.80" width="11.5" height="0.6" fill="#fff" opacity=".2"/>
<rect x="1006.64" y="472.49" width="11.5" height="0.6" fill="#fff" opacity=".2"/>
<rect x="1021.13" y="292.22" width="11.5" height="12.60" fill="#f2aa9a"/>
<rect x="1021.13" y="304.82" width="11.5" height="15.12" fill="#e65a35"/>
<rect x="1021.13" y="319.94" width="11.5" height="7.56" fill="#fcebcc"/>
<rect x="1021.13" y="327.50" width="11.5" height="8.40" fill="#faDDa0"/>
<rect x="1021.13" y="335.89" width="11.5" height="24.86" fill="#f8c55e"/>
<rect x="1021.13" y="360.75" width="11.5" height="21.84" fill="#ffaa00"/>
<rect x="1021.13" y="382.59" width="11.5" height="1.68" fill="#e87005"/>
<rect x="1021.13" y="384.27" width="11.5" height="18.81" fill="#d5d5fa"/>
<rect x="1021.13" y="403.08" width="11.5" height="13.94" fill="#a2a2f2"/>
<rect x="1021.13" y="417.03" width="11.5" height="3.36" fill="#6064ee"/>
<rect x="1021.13" y="420.39" width="11.5" height="13.44" fill="#1f1fae"/>
<rect x="1021.13" y="433.82" width="11.5" height="7.56" fill="#deeae6"/>
<rect x="1021.13" y="441.38" width="11.5" height="15.12" fill="#a9c9bd"/>
<rect x="1021.13" y="456.50" width="11.5" height="4.20" fill="#78ac9a"/>
<rect x="1021.13" y="460.70" width="11.5" height="8.06" fill="#76aa98"/>
<rect x="1021.13" y="468.76" width="11.5" height="4.03" fill="#2e9a77"/>
<rect x="1021.13" y="472.79" width="11.5" height="3.86" fill="#0b6b4e"/>
<rect x="1021.13" y="304.52" width="11.5" height="0.6" fill="#fff" opacity=".2"/>
<rect x="1021.13" y="319.64" width="11.5" height="0.6" fill="#fff" opacity=".2"/>
<rect x="1021.13" y="327.20" width="11.5" height="0.6" fill="#fff" opacity=".2"/>
<rect x="1021.13" y="335.59" width="11.5" height="0.6" fill="#fff" opacity=".2"/>
<rect x="1021.13" y="360.45" width="11.5" height="0.6" fill="#fff" opacity=".2"/>
<rect x="1021.13" y="382.29" width="11.5" height="0.6" fill="#fff" opacity=".2"/>
<rect x="1021.13" y="383.97" width="11.5" height="0.6" fill="#fff" opacity=".2"/>
<rect x="1021.13" y="402.78" width="11.5" height="0.6" fill="#fff" opacity=".2"/>
<rect x="1021.13" y="416.73" width="11.5" height="0.6" fill="#fff" opacity=".2"/>
<rect x="1021.13" y="420.09" width="11.5" height="0.6" fill="#fff" opacity=".2"/>
<rect x="1021.13" y="433.52" width="11.5" height="0.6" fill="#fff" opacity=".2"/>
<rect x="1021.13" y="441.08" width="11.5" height="0.6" fill="#fff" opacity=".2"/>
<rect x="1021.13" y="456.20" width="11.5" height="0.6" fill="#fff" opacity=".2"/>
<rect x="1021.13" y="460.40" width="11.5" height="0.6" fill="#fff" opacity=".2"/>
<rect x="1021.13" y="468.46" width="11.5" height="0.6" fill="#fff" opacity=".2"/>
<rect x="1021.13" y="472.49" width="11.5" height="0.6" fill="#fff" opacity=".2"/>
<rect x="1035.62" y="332.20" width="11.5" height="2.86" fill="#f2aa9a"/>
<rect x="1035.62" y="335.05" width="11.5" height="7.73" fill="#e65a35"/>
<rect x="1035.62" y="342.78" width="11.5" height="4.03" fill="#fcebcc"/>
<rect x="1035.62" y="346.81" width="11.5" height="4.20" fill="#faDDa0"/>
<rect x="1035.62" y="351.01" width="11.5" height="4.70" fill="#f8c55e"/>
<rect x="1035.62" y="355.72" width="11.5" height="8.90" fill="#ffaa00"/>
<rect x="1035.62" y="364.62" width="11.5" height="3.36" fill="#e87005"/>
<rect x="1035.62" y="367.98" width="11.5" height="18.81" fill="#d5d5fa"/>
<rect x="1035.62" y="386.79" width="11.5" height="14.28" fill="#a2a2f2"/>
<rect x="1035.62" y="401.07" width="11.5" height="15.12" fill="#6064ee"/>
<rect x="1035.62" y="416.19" width="11.5" height="13.44" fill="#1f1fae"/>
<rect x="1035.62" y="429.62" width="11.5" height="11.25" fill="#deeae6"/>
<rect x="1035.62" y="440.88" width="11.5" height="15.12" fill="#a9c9bd"/>
<rect x="1035.62" y="456.00" width="11.5" height="4.70" fill="#78ac9a"/>
<rect x="1035.62" y="460.70" width="11.5" height="4.20" fill="#76aa98"/>
<rect x="1035.62" y="464.90" width="11.5" height="7.89" fill="#2e9a77"/>
<rect x="1035.62" y="472.79" width="11.5" height="3.86" fill="#0b6b4e"/>
<rect x="1035.62" y="334.75" width="11.5" height="0.6" fill="#fff" opacity=".2"/>
<rect x="1035.62" y="342.48" width="11.5" height="0.6" fill="#fff" opacity=".2"/>
<rect x="1035.62" y="346.51" width="11.5" height="0.6" fill="#fff" opacity=".2"/>
<rect x="1035.62" y="350.71" width="11.5" height="0.6" fill="#fff" opacity=".2"/>
<rect x="1035.62" y="355.42" width="11.5" height="0.6" fill="#fff" opacity=".2"/>
<rect x="1035.62" y="364.32" width="11.5" height="0.6" fill="#fff" opacity=".2"/>
<rect x="1035.62" y="367.68" width="11.5" height="0.6" fill="#fff" opacity=".2"/>
<rect x="1035.62" y="386.49" width="11.5" height="0.6" fill="#fff" opacity=".2"/>
<rect x="1035.62" y="400.77" width="11.5" height="0.6" fill="#fff" opacity=".2"/>
<rect x="1035.62" y="415.89" width="11.5" height="0.6" fill="#fff" opacity=".2"/>
<rect x="1035.62" y="429.32" width="11.5" height="0.6" fill="#fff" opacity=".2"/>
<rect x="1035.62" y="440.58" width="11.5" height="0.6" fill="#fff" opacity=".2"/>
<rect x="1035.62" y="455.70" width="11.5" height="0.6" fill="#fff" opacity=".2"/>
<rect x="1035.62" y="460.40" width="11.5" height="0.6" fill="#fff" opacity=".2"/>
<rect x="1035.62" y="464.60" width="11.5" height="0.6" fill="#fff" opacity=".2"/>
<rect x="1035.62" y="472.49" width="11.5" height="0.6" fill="#fff" opacity=".2"/>
<rect x="1050.11" y="337.24" width="11.5" height="3.02" fill="#f2aa9a"/>
<rect x="1050.11" y="340.26" width="11.5" height="7.89" fill="#e65a35"/>
<rect x="1050.11" y="348.16" width="11.5" height="3.86" fill="#fcebcc"/>
<rect x="1050.11" y="352.02" width="11.5" height="4.03" fill="#faDDa0"/>
<rect x="1050.11" y="356.05" width="11.5" height="4.70" fill="#f8c55e"/>
<rect x="1050.11" y="360.75" width="11.5" height="4.54" fill="#ffaa00"/>
<rect x="1050.11" y="365.29" width="11.5" height="5.54" fill="#e87005"/>
<rect x="1050.11" y="370.83" width="11.5" height="15.12" fill="#d5d5fa"/>
<rect x="1050.11" y="385.95" width="11.5" height="13.94" fill="#a2a2f2"/>
<rect x="1050.11" y="399.89" width="11.5" height="15.12" fill="#6064ee"/>
<rect x="1050.11" y="415.01" width="11.5" height="10.08" fill="#1f1fae"/>
<rect x="1050.11" y="425.09" width="11.5" height="11.25" fill="#deeae6"/>
<rect x="1050.11" y="436.34" width="11.5" height="15.45" fill="#a9c9bd"/>
<rect x="1050.11" y="451.80" width="11.5" height="6.89" fill="#78ac9a"/>
<rect x="1050.11" y="458.68" width="11.5" height="6.22" fill="#76aa98"/>
<rect x="1050.11" y="464.90" width="11.5" height="7.89" fill="#2e9a77"/>
<rect x="1050.11" y="472.79" width="11.5" height="3.86" fill="#0b6b4e"/>
<rect x="1050.11" y="339.96" width="11.5" height="0.6" fill="#fff" opacity=".2"/>
<rect x="1050.11" y="347.86" width="11.5" height="0.6" fill="#fff" opacity=".2"/>
<rect x="1050.11" y="351.72" width="11.5" height="0.6" fill="#fff" opacity=".2"/>
<rect x="1050.11" y="355.75" width="11.5" height="0.6" fill="#fff" opacity=".2"/>
<rect x="1050.11" y="360.45" width="11.5" height="0.6" fill="#fff" opacity=".2"/>
<rect x="1050.11" y="364.99" width="11.5" height="0.6" fill="#fff" opacity=".2"/>
<rect x="1050.11" y="370.53" width="11.5" height="0.6" fill="#fff" opacity=".2"/>
<rect x="1050.11" y="385.65" width="11.5" height="0.6" fill="#fff" opacity=".2"/>
<rect x="1050.11" y="399.59" width="11.5" height="0.6" fill="#fff" opacity=".2"/>
<rect x="1050.11" y="414.71" width="11.5" height="0.6" fill="#fff" opacity=".2"/>
<rect x="1050.11" y="424.79" width="11.5" height="0.6" fill="#fff" opacity=".2"/>
<rect x="1050.11" y="436.04" width="11.5" height="0.6" fill="#fff" opacity=".2"/>
<rect x="1050.11" y="451.50" width="11.5" height="0.6" fill="#fff" opacity=".2"/>
<rect x="1050.11" y="458.38" width="11.5" height="0.6" fill="#fff" opacity=".2"/>
<rect x="1050.11" y="464.60" width="11.5" height="0.6" fill="#fff" opacity=".2"/>
<rect x="1050.11" y="472.49" width="11.5" height="0.6" fill="#fff" opacity=".2"/>
<rect x="1064.60" y="262.49" width="11.5" height="12.43" fill="#f2aa9a"/>
<rect x="1064.60" y="274.92" width="11.5" height="15.12" fill="#e65a35"/>
<rect x="1064.60" y="290.04" width="11.5" height="15.96" fill="#fcebcc"/>
<rect x="1064.60" y="306.00" width="11.5" height="11.76" fill="#faDDa0"/>
<rect x="1064.60" y="317.75" width="11.5" height="14.95" fill="#f8c55e"/>
<rect x="1064.60" y="332.70" width="11.5" height="12.93" fill="#ffaa00"/>
<rect x="1064.60" y="345.64" width="11.5" height="3.70" fill="#e87005"/>
<rect x="1064.60" y="349.33" width="11.5" height="14.78" fill="#d5d5fa"/>
<rect x="1064.60" y="364.11" width="11.5" height="10.92" fill="#a2a2f2"/>
<rect x="1064.60" y="375.03" width="11.5" height="12.09" fill="#6064ee"/>
<rect x="1064.60" y="387.13" width="11.5" height="16.97" fill="#1f1fae"/>
<rect x="1064.60" y="404.09" width="11.5" height="11.25" fill="#deeae6"/>
<rect x="1064.60" y="415.35" width="11.5" height="12.60" fill="#a9c9bd"/>
<rect x="1064.60" y="427.94" width="11.5" height="12.60" fill="#78ac9a"/>
<rect x="1064.60" y="440.54" width="11.5" height="12.26" fill="#76aa98"/>
<rect x="1064.60" y="452.80" width="11.5" height="19.99" fill="#2e9a77"/>
<rect x="1064.60" y="472.79" width="11.5" height="3.86" fill="#0b6b4e"/>
<rect x="1064.60" y="274.62" width="11.5" height="0.6" fill="#fff" opacity=".2"/>
<rect x="1064.60" y="289.74" width="11.5" height="0.6" fill="#fff" opacity=".2"/>
<rect x="1064.60" y="305.70" width="11.5" height="0.6" fill="#fff" opacity=".2"/>
<rect x="1064.60" y="317.45" width="11.5" height="0.6" fill="#fff" opacity=".2"/>
<rect x="1064.60" y="332.40" width="11.5" height="0.6" fill="#fff" opacity=".2"/>
<rect x="1064.60" y="345.34" width="11.5" height="0.6" fill="#fff" opacity=".2"/>
<rect x="1064.60" y="349.03" width="11.5" height="0.6" fill="#fff" opacity=".2"/>
<rect x="1064.60" y="363.81" width="11.5" height="0.6" fill="#fff" opacity=".2"/>
<rect x="1064.60" y="374.73" width="11.5" height="0.6" fill="#fff" opacity=".2"/>
<rect x="1064.60" y="386.83" width="11.5" height="0.6" fill="#fff" opacity=".2"/>
<rect x="1064.60" y="403.79" width="11.5" height="0.6" fill="#fff" opacity=".2"/>
<rect x="1064.60" y="415.05" width="11.5" height="0.6" fill="#fff" opacity=".2"/>
<rect x="1064.60" y="427.64" width="11.5" height="0.6" fill="#fff" opacity=".2"/>
<rect x="1064.60" y="440.24" width="11.5" height="0.6" fill="#fff" opacity=".2"/>
<rect x="1064.60" y="452.50" width="11.5" height="0.6" fill="#fff" opacity=".2"/>
<rect x="1064.60" y="472.49" width="11.5" height="0.6" fill="#fff" opacity=".2"/>
<rect x="1079.09" y="254.09" width="11.5" height="15.79" fill="#f2aa9a"/>
<rect x="1079.09" y="269.88" width="11.5" height="18.65" fill="#e65a35"/>
<rect x="1079.09" y="288.53" width="11.5" height="19.15" fill="#fcebcc"/>
<rect x="1079.09" y="307.68" width="11.5" height="21.16" fill="#faDDa0"/>
<rect x="1079.09" y="328.84" width="11.5" height="24.02" fill="#f8c55e"/>
<rect x="1079.09" y="352.86" width="11.5" height="17.97" fill="#ffaa00"/>
<rect x="1079.09" y="370.83" width="11.5" height="7.05" fill="#e87005"/>
<rect x="1079.09" y="377.89" width="11.5" height="18.48" fill="#d5d5fa"/>
<rect x="1079.09" y="396.37" width="11.5" height="7.56" fill="#a2a2f2"/>
<rect x="1079.09" y="403.92" width="11.5" height="3.02" fill="#6064ee"/>
<rect x="1079.09" y="406.95" width="11.5" height="16.80" fill="#1f1fae"/>
<rect x="1079.09" y="423.74" width="11.5" height="14.28" fill="#deeae6"/>
<rect x="1079.09" y="438.02" width="11.5" height="9.74" fill="#a9c9bd"/>
<rect x="1079.09" y="447.76" width="11.5" height="12.93" fill="#78ac9a"/>
<rect x="1079.09" y="460.70" width="11.5" height="4.20" fill="#76aa98"/>
<rect x="1079.09" y="464.90" width="11.5" height="7.89" fill="#2e9a77"/>
<rect x="1079.09" y="472.79" width="11.5" height="3.86" fill="#0b6b4e"/>
<rect x="1079.09" y="269.58" width="11.5" height="0.6" fill="#fff" opacity=".2"/>
<rect x="1079.09" y="288.23" width="11.5" height="0.6" fill="#fff" opacity=".2"/>
<rect x="1079.09" y="307.38" width="11.5" height="0.6" fill="#fff" opacity=".2"/>
<rect x="1079.09" y="328.54" width="11.5" height="0.6" fill="#fff" opacity=".2"/>
<rect x="1079.09" y="352.56" width="11.5" height="0.6" fill="#fff" opacity=".2"/>
<rect x="1079.09" y="370.53" width="11.5" height="0.6" fill="#fff" opacity=".2"/>
<rect x="1079.09" y="377.59" width="11.5" height="0.6" fill="#fff" opacity=".2"/>
<rect x="1079.09" y="396.07" width="11.5" height="0.6" fill="#fff" opacity=".2"/>
<rect x="1079.09" y="403.62" width="11.5" height="0.6" fill="#fff" opacity=".2"/>
<rect x="1079.09" y="406.65" width="11.5" height="0.6" fill="#fff" opacity=".2"/>
<rect x="1079.09" y="423.44" width="11.5" height="0.6" fill="#fff" opacity=".2"/>
<rect x="1079.09" y="437.72" width="11.5" height="0.6" fill="#fff" opacity=".2"/>
<rect x="1079.09" y="447.46" width="11.5" height="0.6" fill="#fff" opacity=".2"/>
<rect x="1079.09" y="460.40" width="11.5" height="0.6" fill="#fff" opacity=".2"/>
<rect x="1079.09" y="464.60" width="11.5" height="0.6" fill="#fff" opacity=".2"/>
<rect x="1079.09" y="472.49" width="11.5" height="0.6" fill="#fff" opacity=".2"/>
<rect x="1093.58" y="259.97" width="11.5" height="15.12" fill="#f2aa9a"/>
<rect x="1093.58" y="275.09" width="11.5" height="18.81" fill="#e65a35"/>
<rect x="1093.58" y="293.90" width="11.5" height="15.96" fill="#fcebcc"/>
<rect x="1093.58" y="309.86" width="11.5" height="16.29" fill="#faDDa0"/>
<rect x="1093.58" y="326.15" width="11.5" height="9.74" fill="#f8c55e"/>
<rect x="1093.58" y="335.89" width="11.5" height="8.90" fill="#ffaa00"/>
<rect x="1093.58" y="344.80" width="11.5" height="7.22" fill="#e87005"/>
<rect x="1093.58" y="352.02" width="11.5" height="19.15" fill="#d5d5fa"/>
<rect x="1093.58" y="371.17" width="11.5" height="13.94" fill="#a2a2f2"/>
<rect x="1093.58" y="385.11" width="11.5" height="9.57" fill="#6064ee"/>
<rect x="1093.58" y="394.69" width="11.5" height="16.46" fill="#1f1fae"/>
<rect x="1093.58" y="411.15" width="11.5" height="11.25" fill="#deeae6"/>
<rect x="1093.58" y="422.40" width="11.5" height="9.41" fill="#a9c9bd"/>
<rect x="1093.58" y="431.81" width="11.5" height="12.43" fill="#78ac9a"/>
<rect x="1093.58" y="444.24" width="11.5" height="16.46" fill="#76aa98"/>
<rect x="1093.58" y="460.70" width="11.5" height="12.09" fill="#2e9a77"/>
<rect x="1093.58" y="472.79" width="11.5" height="3.86" fill="#0b6b4e"/>
<rect x="1093.58" y="274.79" width="11.5" height="0.6" fill="#fff" opacity=".2"/>
<rect x="1093.58" y="293.60" width="11.5" height="0.6" fill="#fff" opacity=".2"/>
<rect x="1093.58" y="309.56" width="11.5" height="0.6" fill="#fff" opacity=".2"/>
<rect x="1093.58" y="325.85" width="11.5" height="0.6" fill="#fff" opacity=".2"/>
<rect x="1093.58" y="335.59" width="11.5" height="0.6" fill="#fff" opacity=".2"/>
<rect x="1093.58" y="344.50" width="11.5" height="0.6" fill="#fff" opacity=".2"/>
<rect x="1093.58" y="351.72" width="11.5" height="0.6" fill="#fff" opacity=".2"/>
<rect x="1093.58" y="370.87" width="11.5" height="0.6" fill="#fff" opacity=".2"/>
<rect x="1093.58" y="384.81" width="11.5" height="0.6" fill="#fff" opacity=".2"/>
<rect x="1093.58" y="394.39" width="11.5" height="0.6" fill="#fff" opacity=".2"/>
<rect x="1093.58" y="410.85" width="11.5" height="0.6" fill="#fff" opacity=".2"/>
<rect x="1093.58" y="422.10" width="11.5" height="0.6" fill="#fff" opacity=".2"/>
<rect x="1093.58" y="431.51" width="11.5" height="0.6" fill="#fff" opacity=".2"/>
<rect x="1093.58" y="443.94" width="11.5" height="0.6" fill="#fff" opacity=".2"/>
<rect x="1093.58" y="460.40" width="11.5" height="0.6" fill="#fff" opacity=".2"/>
<rect x="1093.58" y="472.49" width="11.5" height="0.6" fill="#fff" opacity=".2"/>
<rect x="1108.07" y="265.68" width="11.5" height="12.26" fill="#f2aa9a"/>
<rect x="1108.07" y="277.94" width="11.5" height="15.12" fill="#e65a35"/>
<rect x="1108.07" y="293.06" width="11.5" height="11.76" fill="#fcebcc"/>
<rect x="1108.07" y="304.82" width="11.5" height="12.09" fill="#faDDa0"/>
<rect x="1108.07" y="316.91" width="11.5" height="14.78" fill="#f8c55e"/>
<rect x="1108.07" y="331.70" width="11.5" height="9.24" fill="#ffaa00"/>
<rect x="1108.07" y="340.93" width="11.5" height="3.36" fill="#e87005"/>
<rect x="1108.07" y="344.29" width="11.5" height="14.78" fill="#d5d5fa"/>
<rect x="1108.07" y="359.08" width="11.5" height="14.78" fill="#a2a2f2"/>
<rect x="1108.07" y="373.86" width="11.5" height="6.22" fill="#6064ee"/>
<rect x="1108.07" y="380.07" width="11.5" height="16.80" fill="#1f1fae"/>
<rect x="1108.07" y="396.87" width="11.5" height="14.61" fill="#deeae6"/>
<rect x="1108.07" y="411.48" width="11.5" height="12.26" fill="#a9c9bd"/>
<rect x="1108.07" y="423.74" width="11.5" height="13.10" fill="#78ac9a"/>
<rect x="1108.07" y="436.85" width="11.5" height="19.99" fill="#76aa98"/>
<rect x="1108.07" y="456.84" width="11.5" height="15.96" fill="#2e9a77"/>
<rect x="1108.07" y="472.79" width="11.5" height="3.86" fill="#0b6b4e"/>
<rect x="1108.07" y="277.64" width="11.5" height="0.6" fill="#fff" opacity=".2"/>
<rect x="1108.07" y="292.76" width="11.5" height="0.6" fill="#fff" opacity=".2"/>
<rect x="1108.07" y="304.52" width="11.5" height="0.6" fill="#fff" opacity=".2"/>
<rect x="1108.07" y="316.61" width="11.5" height="0.6" fill="#fff" opacity=".2"/>
<rect x="1108.07" y="331.40" width="11.5" height="0.6" fill="#fff" opacity=".2"/>
<rect x="1108.07" y="340.63" width="11.5" height="0.6" fill="#fff" opacity=".2"/>
<rect x="1108.07" y="343.99" width="11.5" height="0.6" fill="#fff" opacity=".2"/>
<rect x="1108.07" y="358.78" width="11.5" height="0.6" fill="#fff" opacity=".2"/>
<rect x="1108.07" y="373.56" width="11.5" height="0.6" fill="#fff" opacity=".2"/>
<rect x="1108.07" y="379.77" width="11.5" height="0.6" fill="#fff" opacity=".2"/>
<rect x="1108.07" y="396.57" width="11.5" height="0.6" fill="#fff" opacity=".2"/>
<rect x="1108.07" y="411.18" width="11.5" height="0.6" fill="#fff" opacity=".2"/>
<rect x="1108.07" y="423.44" width="11.5" height="0.6" fill="#fff" opacity=".2"/>
<rect x="1108.07" y="436.55" width="11.5" height="0.6" fill="#fff" opacity=".2"/>
<rect x="1108.07" y="456.54" width="11.5" height="0.6" fill="#fff" opacity=".2"/>
<rect x="1108.07" y="472.49" width="11.5" height="0.6" fill="#fff" opacity=".2"/>
<rect x="1122.56" y="261.65" width="11.5" height="12.43" fill="#f2aa9a"/>
<rect x="1122.56" y="274.08" width="11.5" height="15.12" fill="#e65a35"/>
<rect x="1122.56" y="289.20" width="11.5" height="11.76" fill="#fcebcc"/>
<rect x="1122.56" y="300.96" width="11.5" height="12.26" fill="#faDDa0"/>
<rect x="1122.56" y="313.22" width="11.5" height="19.48" fill="#f8c55e"/>
<rect x="1122.56" y="332.70" width="11.5" height="9.24" fill="#ffaa00"/>
<rect x="1122.56" y="341.94" width="11.5" height="3.36" fill="#e87005"/>
<rect x="1122.56" y="345.30" width="11.5" height="18.48" fill="#d5d5fa"/>
<rect x="1122.56" y="363.78" width="11.5" height="14.28" fill="#a2a2f2"/>
<rect x="1122.56" y="378.06" width="11.5" height="15.79" fill="#6064ee"/>
<rect x="1122.56" y="393.85" width="11.5" height="16.46" fill="#1f1fae"/>
<rect x="1122.56" y="410.31" width="11.5" height="11.25" fill="#deeae6"/>
<rect x="1122.56" y="421.56" width="11.5" height="9.24" fill="#a9c9bd"/>
<rect x="1122.56" y="430.80" width="11.5" height="22.00" fill="#78ac9a"/>
<rect x="1122.56" y="452.80" width="11.5" height="12.09" fill="#76aa98"/>
<rect x="1122.56" y="464.90" width="11.5" height="7.89" fill="#2e9a77"/>
<rect x="1122.56" y="472.79" width="11.5" height="3.86" fill="#0b6b4e"/>
<rect x="1122.56" y="273.78" width="11.5" height="0.6" fill="#fff" opacity=".2"/>
<rect x="1122.56" y="288.90" width="11.5" height="0.6" fill="#fff" opacity=".2"/>
<rect x="1122.56" y="300.66" width="11.5" height="0.6" fill="#fff" opacity=".2"/>
<rect x="1122.56" y="312.92" width="11.5" height="0.6" fill="#fff" opacity=".2"/>
<rect x="1122.56" y="332.40" width="11.5" height="0.6" fill="#fff" opacity=".2"/>
<rect x="1122.56" y="341.64" width="11.5" height="0.6" fill="#fff" opacity=".2"/>
<rect x="1122.56" y="345.00" width="11.5" height="0.6" fill="#fff" opacity=".2"/>
<rect x="1122.56" y="363.48" width="11.5" height="0.6" fill="#fff" opacity=".2"/>
<rect x="1122.56" y="377.76" width="11.5" height="0.6" fill="#fff" opacity=".2"/>
<rect x="1122.56" y="393.55" width="11.5" height="0.6" fill="#fff" opacity=".2"/>
<rect x="1122.56" y="410.01" width="11.5" height="0.6" fill="#fff" opacity=".2"/>
<rect x="1122.56" y="421.26" width="11.5" height="0.6" fill="#fff" opacity=".2"/>
<rect x="1122.56" y="430.50" width="11.5" height="0.6" fill="#fff" opacity=".2"/>
<rect x="1122.56" y="452.50" width="11.5" height="0.6" fill="#fff" opacity=".2"/>
<rect x="1122.56" y="464.60" width="11.5" height="0.6" fill="#fff" opacity=".2"/>
<rect x="1122.56" y="472.49" width="11.5" height="0.6" fill="#fff" opacity=".2"/>
<rect x="1137.05" y="282.48" width="11.5" height="15.62" fill="#f2aa9a"/>
<rect x="1137.05" y="298.10" width="11.5" height="18.81" fill="#e65a35"/>
<rect x="1137.05" y="316.91" width="11.5" height="19.48" fill="#fcebcc"/>
<rect x="1137.05" y="336.40" width="11.5" height="16.46" fill="#faDDa0"/>
<rect x="1137.05" y="352.86" width="11.5" height="14.95" fill="#f8c55e"/>
<rect x="1137.05" y="367.81" width="11.5" height="13.10" fill="#ffaa00"/>
<rect x="1137.05" y="380.91" width="11.5" height="3.36" fill="#e87005"/>
<rect x="1137.05" y="384.27" width="11.5" height="18.81" fill="#d5d5fa"/>
<rect x="1137.05" y="403.08" width="11.5" height="10.92" fill="#a2a2f2"/>
<rect x="1137.05" y="414.00" width="11.5" height="3.02" fill="#6064ee"/>
<rect x="1137.05" y="417.03" width="11.5" height="13.10" fill="#1f1fae"/>
<rect x="1137.05" y="430.13" width="11.5" height="11.25" fill="#deeae6"/>
<rect x="1137.05" y="441.38" width="11.5" height="15.12" fill="#a9c9bd"/>
<rect x="1137.05" y="456.50" width="11.5" height="4.20" fill="#78ac9a"/>
<rect x="1137.05" y="460.70" width="11.5" height="8.06" fill="#76aa98"/>
<rect x="1137.05" y="468.76" width="11.5" height="4.03" fill="#2e9a77"/>
<rect x="1137.05" y="472.79" width="11.5" height="3.86" fill="#0b6b4e"/>
<rect x="1137.05" y="297.80" width="11.5" height="0.6" fill="#fff" opacity=".2"/>
<rect x="1137.05" y="316.61" width="11.5" height="0.6" fill="#fff" opacity=".2"/>
<rect x="1137.05" y="336.10" width="11.5" height="0.6" fill="#fff" opacity=".2"/>
<rect x="1137.05" y="352.56" width="11.5" height="0.6" fill="#fff" opacity=".2"/>
<rect x="1137.05" y="367.51" width="11.5" height="0.6" fill="#fff" opacity=".2"/>
<rect x="1137.05" y="380.61" width="11.5" height="0.6" fill="#fff" opacity=".2"/>
<rect x="1137.05" y="383.97" width="11.5" height="0.6" fill="#fff" opacity=".2"/>
<rect x="1137.05" y="402.78" width="11.5" height="0.6" fill="#fff" opacity=".2"/>
<rect x="1137.05" y="413.70" width="11.5" height="0.6" fill="#fff" opacity=".2"/>
<rect x="1137.05" y="416.73" width="11.5" height="0.6" fill="#fff" opacity=".2"/>
<rect x="1137.05" y="429.83" width="11.5" height="0.6" fill="#fff" opacity=".2"/>
<rect x="1137.05" y="441.08" width="11.5" height="0.6" fill="#fff" opacity=".2"/>
<rect x="1137.05" y="456.20" width="11.5" height="0.6" fill="#fff" opacity=".2"/>
<rect x="1137.05" y="460.40" width="11.5" height="0.6" fill="#fff" opacity=".2"/>
<rect x="1137.05" y="468.46" width="11.5" height="0.6" fill="#fff" opacity=".2"/>
<rect x="1137.05" y="472.49" width="11.5" height="0.6" fill="#fff" opacity=".2"/>
<rect x="1151.54" y="372.01" width="11.5" height="15.29" fill="#f2aa9a"/>
<rect x="1151.54" y="387.29" width="11.5" height="19.15" fill="#e65a35"/>
<rect x="1151.54" y="406.44" width="11.5" height="15.62" fill="#fcebcc"/>
<rect x="1151.54" y="422.06" width="11.5" height="3.86" fill="#faDDa0"/>
<rect x="1151.54" y="425.93" width="11.5" height="14.95" fill="#f8c55e"/>
<rect x="1151.54" y="440.88" width="11.5" height="8.90" fill="#ffaa00"/>
<rect x="1151.54" y="449.78" width="11.5" height="1.68" fill="#e87005"/>
<rect x="1151.54" y="451.46" width="11.5" height="7.56" fill="#d5d5fa"/>
<rect x="1151.54" y="459.02" width="11.5" height="3.02" fill="#a2a2f2"/>
<rect x="1151.54" y="462.04" width="11.5" height="2.86" fill="#6064ee"/>
<rect x="1151.54" y="464.90" width="11.5" height="0.84" fill="#deeae6"/>
<rect x="1151.54" y="465.74" width="11.5" height="3.02" fill="#a9c9bd"/>
<rect x="1151.54" y="468.76" width="11.5" height="3.70" fill="#78ac9a"/>
<rect x="1151.54" y="472.46" width="11.5" height="4.20" fill="#76aa98"/>
<rect x="1151.54" y="386.99" width="11.5" height="0.6" fill="#fff" opacity=".2"/>
<rect x="1151.54" y="406.14" width="11.5" height="0.6" fill="#fff" opacity=".2"/>
<rect x="1151.54" y="421.76" width="11.5" height="0.6" fill="#fff" opacity=".2"/>
<rect x="1151.54" y="425.63" width="11.5" height="0.6" fill="#fff" opacity=".2"/>
<rect x="1151.54" y="440.58" width="11.5" height="0.6" fill="#fff" opacity=".2"/>
<rect x="1151.54" y="449.48" width="11.5" height="0.6" fill="#fff" opacity=".2"/>
<rect x="1151.54" y="451.16" width="11.5" height="0.6" fill="#fff" opacity=".2"/>
<rect x="1151.54" y="458.72" width="11.5" height="0.6" fill="#fff" opacity=".2"/>
<rect x="1151.54" y="461.74" width="11.5" height="0.6" fill="#fff" opacity=".2"/>
<rect x="1151.54" y="465.44" width="11.5" height="0.6" fill="#fff" opacity=".2"/>
<rect x="1151.54" y="468.46" width="11.5" height="0.6" fill="#fff" opacity=".2"/>
<rect x="1151.54" y="472.16" width="11.5" height="0.6" fill="#fff" opacity=".2"/>
<rect x="1166.03" y="333.38" width="11.5" height="12.26" fill="#f2aa9a"/>
<rect x="1166.03" y="345.64" width="11.5" height="15.45" fill="#e65a35"/>
<rect x="1166.03" y="361.09" width="11.5" height="7.73" fill="#fcebcc"/>
<rect x="1166.03" y="368.82" width="11.5" height="12.09" fill="#faDDa0"/>
<rect x="1166.03" y="380.91" width="11.5" height="14.78" fill="#f8c55e"/>
<rect x="1166.03" y="395.69" width="11.5" height="17.97" fill="#ffaa00"/>
<rect x="1166.03" y="413.67" width="11.5" height="1.68" fill="#e87005"/>
<rect x="1166.03" y="415.35" width="11.5" height="11.25" fill="#d5d5fa"/>
<rect x="1166.03" y="426.60" width="11.5" height="10.58" fill="#a2a2f2"/>
<rect x="1166.03" y="437.18" width="11.5" height="9.57" fill="#6064ee"/>
<rect x="1166.03" y="446.76" width="11.5" height="6.05" fill="#1f1fae"/>
<rect x="1166.03" y="452.80" width="11.5" height="0.34" fill="#deeae6"/>
<rect x="1166.03" y="453.14" width="11.5" height="15.12" fill="#a9c9bd"/>
<rect x="1166.03" y="468.26" width="11.5" height="4.20" fill="#78ac9a"/>
<rect x="1166.03" y="472.46" width="11.5" height="4.20" fill="#76aa98"/>
<rect x="1166.03" y="345.34" width="11.5" height="0.6" fill="#fff" opacity=".2"/>
<rect x="1166.03" y="360.79" width="11.5" height="0.6" fill="#fff" opacity=".2"/>
<rect x="1166.03" y="368.52" width="11.5" height="0.6" fill="#fff" opacity=".2"/>
<rect x="1166.03" y="380.61" width="11.5" height="0.6" fill="#fff" opacity=".2"/>
<rect x="1166.03" y="395.39" width="11.5" height="0.6" fill="#fff" opacity=".2"/>
<rect x="1166.03" y="413.37" width="11.5" height="0.6" fill="#fff" opacity=".2"/>
<rect x="1166.03" y="415.05" width="11.5" height="0.6" fill="#fff" opacity=".2"/>
<rect x="1166.03" y="426.30" width="11.5" height="0.6" fill="#fff" opacity=".2"/>
<rect x="1166.03" y="436.88" width="11.5" height="0.6" fill="#fff" opacity=".2"/>
<rect x="1166.03" y="446.46" width="11.5" height="0.6" fill="#fff" opacity=".2"/>
<rect x="1166.03" y="452.50" width="11.5" height="0.6" fill="#fff" opacity=".2"/>
<rect x="1166.03" y="452.84" width="11.5" height="0.6" fill="#fff" opacity=".2"/>
<rect x="1166.03" y="467.96" width="11.5" height="0.6" fill="#fff" opacity=".2"/>
<rect x="1166.03" y="472.16" width="11.5" height="0.6" fill="#fff" opacity=".2"/>
<rect x="1180.52" y="380.07" width="11.5" height="5.88" fill="#f2aa9a"/>
<rect x="1180.52" y="385.95" width="11.5" height="7.56" fill="#e65a35"/>
<rect x="1180.52" y="393.51" width="11.5" height="4.20" fill="#fcebcc"/>
<rect x="1180.52" y="397.71" width="11.5" height="4.20" fill="#faDDa0"/>
<rect x="1180.52" y="401.91" width="11.5" height="10.08" fill="#f8c55e"/>
<rect x="1180.52" y="411.99" width="11.5" height="8.40" fill="#ffaa00"/>
<rect x="1180.52" y="420.39" width="11.5" height="7.56" fill="#e87005"/>
<rect x="1180.52" y="427.94" width="11.5" height="15.12" fill="#d5d5fa"/>
<rect x="1180.52" y="443.06" width="11.5" height="6.72" fill="#a2a2f2"/>
<rect x="1180.52" y="449.78" width="11.5" height="9.24" fill="#6064ee"/>
<rect x="1180.52" y="459.02" width="11.5" height="9.74" fill="#1f1fae"/>
<rect x="1180.52" y="468.76" width="11.5" height="0.34" fill="#deeae6"/>
<rect x="1180.52" y="469.10" width="11.5" height="3.02" fill="#a9c9bd"/>
<rect x="1180.52" y="472.12" width="11.5" height="2.02" fill="#78ac9a"/>
<rect x="1180.52" y="474.14" width="11.5" height="2.52" fill="#76aa98"/>
<rect x="1180.52" y="385.65" width="11.5" height="0.6" fill="#fff" opacity=".2"/>
<rect x="1180.52" y="393.21" width="11.5" height="0.6" fill="#fff" opacity=".2"/>
<rect x="1180.52" y="397.41" width="11.5" height="0.6" fill="#fff" opacity=".2"/>
<rect x="1180.52" y="401.61" width="11.5" height="0.6" fill="#fff" opacity=".2"/>
<rect x="1180.52" y="411.69" width="11.5" height="0.6" fill="#fff" opacity=".2"/>
<rect x="1180.52" y="420.09" width="11.5" height="0.6" fill="#fff" opacity=".2"/>
<rect x="1180.52" y="427.64" width="11.5" height="0.6" fill="#fff" opacity=".2"/>
<rect x="1180.52" y="442.76" width="11.5" height="0.6" fill="#fff" opacity=".2"/>
<rect x="1180.52" y="449.48" width="11.5" height="0.6" fill="#fff" opacity=".2"/>
<rect x="1180.52" y="458.72" width="11.5" height="0.6" fill="#fff" opacity=".2"/>
<rect x="1180.52" y="468.46" width="11.5" height="0.6" fill="#fff" opacity=".2"/>
<rect x="1180.52" y="468.80" width="11.5" height="0.6" fill="#fff" opacity=".2"/>
<rect x="1180.52" y="471.82" width="11.5" height="0.6" fill="#fff" opacity=".2"/>
<rect x="1180.52" y="473.84" width="11.5" height="0.6" fill="#fff" opacity=".2"/>
<rect x="1195.01" y="397.37" width="11.5" height="3.36" fill="#f2aa9a"/>
<rect x="1195.01" y="400.73" width="11.5" height="3.70" fill="#e65a35"/>
<rect x="1195.01" y="404.43" width="11.5" height="8.06" fill="#fcebcc"/>
<rect x="1195.01" y="412.49" width="11.5" height="12.43" fill="#faDDa0"/>
<rect x="1195.01" y="424.92" width="11.5" height="9.74" fill="#f8c55e"/>
<rect x="1195.01" y="434.66" width="11.5" height="8.40" fill="#ffaa00"/>
<rect x="1195.01" y="443.06" width="11.5" height="9.74" fill="#e87005"/>
<rect x="1195.01" y="452.80" width="11.5" height="4.03" fill="#d5d5fa"/>
<rect x="1195.01" y="456.84" width="11.5" height="7.22" fill="#a2a2f2"/>
<rect x="1195.01" y="464.06" width="11.5" height="2.52" fill="#6064ee"/>
<rect x="1195.01" y="466.58" width="11.5" height="0.17" fill="#1f1fae"/>
<rect x="1195.01" y="466.75" width="11.5" height="0.34" fill="#deeae6"/>
<rect x="1195.01" y="467.08" width="11.5" height="5.71" fill="#a9c9bd"/>
<rect x="1195.01" y="472.79" width="11.5" height="1.85" fill="#78ac9a"/>
<rect x="1195.01" y="474.64" width="11.5" height="2.02" fill="#76aa98"/>
<rect x="1195.01" y="400.43" width="11.5" height="0.6" fill="#fff" opacity=".2"/>
<rect x="1195.01" y="404.13" width="11.5" height="0.6" fill="#fff" opacity=".2"/>
<rect x="1195.01" y="412.19" width="11.5" height="0.6" fill="#fff" opacity=".2"/>
<rect x="1195.01" y="424.62" width="11.5" height="0.6" fill="#fff" opacity=".2"/>
<rect x="1195.01" y="434.36" width="11.5" height="0.6" fill="#fff" opacity=".2"/>
<rect x="1195.01" y="442.76" width="11.5" height="0.6" fill="#fff" opacity=".2"/>
<rect x="1195.01" y="452.50" width="11.5" height="0.6" fill="#fff" opacity=".2"/>
<rect x="1195.01" y="456.54" width="11.5" height="0.6" fill="#fff" opacity=".2"/>
<rect x="1195.01" y="463.76" width="11.5" height="0.6" fill="#fff" opacity=".2"/>
<rect x="1195.01" y="466.28" width="11.5" height="0.6" fill="#fff" opacity=".2"/>
<rect x="1195.01" y="466.45" width="11.5" height="0.6" fill="#fff" opacity=".2"/>
<rect x="1195.01" y="466.78" width="11.5" height="0.6" fill="#fff" opacity=".2"/>
<rect x="1195.01" y="472.49" width="11.5" height="0.6" fill="#fff" opacity=".2"/>
<rect x="1195.01" y="474.34" width="11.5" height="0.6" fill="#fff" opacity=".2"/>
<rect x="1209.50" y="309.35" width="11.5" height="15.62" fill="#f2aa9a"/>
<rect x="1209.50" y="324.98" width="11.5" height="18.48" fill="#e65a35"/>
<rect x="1209.50" y="343.45" width="11.5" height="15.62" fill="#fcebcc"/>
<rect x="1209.50" y="359.08" width="11.5" height="12.93" fill="#faDDa0"/>
<rect x="1209.50" y="372.01" width="11.5" height="23.68" fill="#f8c55e"/>
<rect x="1209.50" y="395.69" width="11.5" height="13.27" fill="#ffaa00"/>
<rect x="1209.50" y="408.96" width="11.5" height="3.53" fill="#e87005"/>
<rect x="1209.50" y="412.49" width="11.5" height="4.20" fill="#d5d5fa"/>
<rect x="1209.50" y="416.69" width="11.5" height="11.25" fill="#a2a2f2"/>
<rect x="1209.50" y="427.94" width="11.5" height="8.90" fill="#6064ee"/>
<rect x="1209.50" y="436.85" width="11.5" height="6.22" fill="#1f1fae"/>
<rect x="1209.50" y="443.06" width="11.5" height="10.92" fill="#deeae6"/>
<rect x="1209.50" y="453.98" width="11.5" height="6.38" fill="#a9c9bd"/>
<rect x="1209.50" y="460.36" width="11.5" height="4.20" fill="#78ac9a"/>
<rect x="1209.50" y="464.56" width="11.5" height="4.20" fill="#76aa98"/>
<rect x="1209.50" y="468.76" width="11.5" height="7.89" fill="#2e9a77"/>
<rect x="1209.50" y="324.68" width="11.5" height="0.6" fill="#fff" opacity=".2"/>
<rect x="1209.50" y="343.15" width="11.5" height="0.6" fill="#fff" opacity=".2"/>
<rect x="1209.50" y="358.78" width="11.5" height="0.6" fill="#fff" opacity=".2"/>
<rect x="1209.50" y="371.71" width="11.5" height="0.6" fill="#fff" opacity=".2"/>
<rect x="1209.50" y="395.39" width="11.5" height="0.6" fill="#fff" opacity=".2"/>
<rect x="1209.50" y="408.66" width="11.5" height="0.6" fill="#fff" opacity=".2"/>
<rect x="1209.50" y="412.19" width="11.5" height="0.6" fill="#fff" opacity=".2"/>
<rect x="1209.50" y="416.39" width="11.5" height="0.6" fill="#fff" opacity=".2"/>
<rect x="1209.50" y="427.64" width="11.5" height="0.6" fill="#fff" opacity=".2"/>
<rect x="1209.50" y="436.55" width="11.5" height="0.6" fill="#fff" opacity=".2"/>
<rect x="1209.50" y="442.76" width="11.5" height="0.6" fill="#fff" opacity=".2"/>
<rect x="1209.50" y="453.68" width="11.5" height="0.6" fill="#fff" opacity=".2"/>
<rect x="1209.50" y="460.06" width="11.5" height="0.6" fill="#fff" opacity=".2"/>
<rect x="1209.50" y="464.26" width="11.5" height="0.6" fill="#fff" opacity=".2"/>
<rect x="1209.50" y="468.46" width="11.5" height="0.6" fill="#fff" opacity=".2"/>
<rect x="1223.99" y="389.81" width="11.5" height="3.36" fill="#f2aa9a"/>
<rect x="1223.99" y="393.17" width="11.5" height="3.70" fill="#e65a35"/>
<rect x="1223.99" y="396.87" width="11.5" height="11.42" fill="#fcebcc"/>
<rect x="1223.99" y="408.29" width="11.5" height="12.60" fill="#faDDa0"/>
<rect x="1223.99" y="420.89" width="11.5" height="9.24" fill="#f8c55e"/>
<rect x="1223.99" y="430.13" width="11.5" height="0.34" fill="#ffaa00"/>
<rect x="1223.99" y="430.46" width="11.5" height="3.36" fill="#e87005"/>
<rect x="1223.99" y="433.82" width="11.5" height="3.86" fill="#d5d5fa"/>
<rect x="1223.99" y="437.69" width="11.5" height="7.39" fill="#a2a2f2"/>
<rect x="1223.99" y="445.08" width="11.5" height="3.02" fill="#6064ee"/>
<rect x="1223.99" y="448.10" width="11.5" height="6.72" fill="#1f1fae"/>
<rect x="1223.99" y="454.82" width="11.5" height="7.05" fill="#deeae6"/>
<rect x="1223.99" y="461.87" width="11.5" height="6.38" fill="#a9c9bd"/>
<rect x="1223.99" y="468.26" width="11.5" height="4.20" fill="#78ac9a"/>
<rect x="1223.99" y="472.46" width="11.5" height="4.20" fill="#76aa98"/>
<rect x="1223.99" y="392.87" width="11.5" height="0.6" fill="#fff" opacity=".2"/>
<rect x="1223.99" y="396.57" width="11.5" height="0.6" fill="#fff" opacity=".2"/>
<rect x="1223.99" y="407.99" width="11.5" height="0.6" fill="#fff" opacity=".2"/>
<rect x="1223.99" y="420.59" width="11.5" height="0.6" fill="#fff" opacity=".2"/>
<rect x="1223.99" y="429.83" width="11.5" height="0.6" fill="#fff" opacity=".2"/>
<rect x="1223.99" y="430.16" width="11.5" height="0.6" fill="#fff" opacity=".2"/>
<rect x="1223.99" y="433.52" width="11.5" height="0.6" fill="#fff" opacity=".2"/>
<rect x="1223.99" y="437.39" width="11.5" height="0.6" fill="#fff" opacity=".2"/>
<rect x="1223.99" y="444.78" width="11.5" height="0.6" fill="#fff" opacity=".2"/>
<rect x="1223.99" y="447.80" width="11.5" height="0.6" fill="#fff" opacity=".2"/>
<rect x="1223.99" y="454.52" width="11.5" height="0.6" fill="#fff" opacity=".2"/>
<rect x="1223.99" y="461.57" width="11.5" height="0.6" fill="#fff" opacity=".2"/>
<rect x="1223.99" y="467.96" width="11.5" height="0.6" fill="#fff" opacity=".2"/>
<rect x="1223.99" y="472.16" width="11.5" height="0.6" fill="#fff" opacity=".2"/>
<rect x="1238.48" y="382.09" width="11.5" height="12.77" fill="#f2aa9a"/>
<rect x="1238.48" y="394.85" width="11.5" height="11.25" fill="#e65a35"/>
<rect x="1238.48" y="406.11" width="11.5" height="7.89" fill="#fcebcc"/>
<rect x="1238.48" y="414.00" width="11.5" height="4.20" fill="#faDDa0"/>
<rect x="1238.48" y="418.20" width="11.5" height="4.70" fill="#f8c55e"/>
<rect x="1238.48" y="422.90" width="11.5" height="4.20" fill="#ffaa00"/>
<rect x="1238.48" y="427.10" width="11.5" height="9.24" fill="#e87005"/>
<rect x="1238.48" y="436.34" width="11.5" height="3.86" fill="#d5d5fa"/>
<rect x="1238.48" y="440.21" width="11.5" height="0.67" fill="#a2a2f2"/>
<rect x="1238.48" y="440.88" width="11.5" height="3.02" fill="#6064ee"/>
<rect x="1238.48" y="443.90" width="11.5" height="3.02" fill="#1f1fae"/>
<rect x="1238.48" y="446.92" width="11.5" height="10.75" fill="#deeae6"/>
<rect x="1238.48" y="457.68" width="11.5" height="15.12" fill="#a9c9bd"/>
<rect x="1238.48" y="472.79" width="11.5" height="3.86" fill="#2e9a77"/>
<rect x="1238.48" y="394.55" width="11.5" height="0.6" fill="#fff" opacity=".2"/>
<rect x="1238.48" y="405.81" width="11.5" height="0.6" fill="#fff" opacity=".2"/>
<rect x="1238.48" y="413.70" width="11.5" height="0.6" fill="#fff" opacity=".2"/>
<rect x="1238.48" y="417.90" width="11.5" height="0.6" fill="#fff" opacity=".2"/>
<rect x="1238.48" y="422.60" width="11.5" height="0.6" fill="#fff" opacity=".2"/>
<rect x="1238.48" y="426.80" width="11.5" height="0.6" fill="#fff" opacity=".2"/>
<rect x="1238.48" y="436.04" width="11.5" height="0.6" fill="#fff" opacity=".2"/>
<rect x="1238.48" y="439.91" width="11.5" height="0.6" fill="#fff" opacity=".2"/>
<rect x="1238.48" y="440.58" width="11.5" height="0.6" fill="#fff" opacity=".2"/>
<rect x="1238.48" y="443.60" width="11.5" height="0.6" fill="#fff" opacity=".2"/>
<rect x="1238.48" y="446.62" width="11.5" height="0.6" fill="#fff" opacity=".2"/>
<rect x="1238.48" y="457.38" width="11.5" height="0.6" fill="#fff" opacity=".2"/>
<rect x="1252.97" y="293.06" width="11.5" height="8.90" fill="#f2aa9a"/>
<rect x="1252.97" y="301.96" width="11.5" height="11.25" fill="#e65a35"/>
<rect x="1252.97" y="313.22" width="11.5" height="11.76" fill="#fcebcc"/>
<rect x="1252.97" y="324.98" width="11.5" height="16.97" fill="#faDDa0"/>
<rect x="1252.97" y="341.94" width="11.5" height="14.11" fill="#f8c55e"/>
<rect x="1252.97" y="356.05" width="11.5" height="8.90" fill="#ffaa00"/>
<rect x="1252.97" y="364.95" width="11.5" height="3.86" fill="#e87005"/>
<rect x="1252.97" y="368.82" width="11.5" height="17.97" fill="#d5d5fa"/>
<rect x="1252.97" y="386.79" width="11.5" height="15.12" fill="#a2a2f2"/>
<rect x="1252.97" y="401.91" width="11.5" height="3.02" fill="#6064ee"/>
<rect x="1252.97" y="404.93" width="11.5" height="13.27" fill="#1f1fae"/>
<rect x="1252.97" y="418.20" width="11.5" height="10.92" fill="#deeae6"/>
<rect x="1252.97" y="429.12" width="11.5" height="14.78" fill="#a9c9bd"/>
<rect x="1252.97" y="443.90" width="11.5" height="4.70" fill="#78ac9a"/>
<rect x="1252.97" y="448.60" width="11.5" height="12.09" fill="#76aa98"/>
<rect x="1252.97" y="460.70" width="11.5" height="15.96" fill="#2e9a77"/>
<rect x="1252.97" y="301.66" width="11.5" height="0.6" fill="#fff" opacity=".2"/>
<rect x="1252.97" y="312.92" width="11.5" height="0.6" fill="#fff" opacity=".2"/>
<rect x="1252.97" y="324.68" width="11.5" height="0.6" fill="#fff" opacity=".2"/>
<rect x="1252.97" y="341.64" width="11.5" height="0.6" fill="#fff" opacity=".2"/>
<rect x="1252.97" y="355.75" width="11.5" height="0.6" fill="#fff" opacity=".2"/>
<rect x="1252.97" y="364.65" width="11.5" height="0.6" fill="#fff" opacity=".2"/>
<rect x="1252.97" y="368.52" width="11.5" height="0.6" fill="#fff" opacity=".2"/>
<rect x="1252.97" y="386.49" width="11.5" height="0.6" fill="#fff" opacity=".2"/>
<rect x="1252.97" y="401.61" width="11.5" height="0.6" fill="#fff" opacity=".2"/>
<rect x="1252.97" y="404.63" width="11.5" height="0.6" fill="#fff" opacity=".2"/>
<rect x="1252.97" y="417.90" width="11.5" height="0.6" fill="#fff" opacity=".2"/>
<rect x="1252.97" y="428.82" width="11.5" height="0.6" fill="#fff" opacity=".2"/>
<rect x="1252.97" y="443.60" width="11.5" height="0.6" fill="#fff" opacity=".2"/>
<rect x="1252.97" y="448.30" width="11.5" height="0.6" fill="#fff" opacity=".2"/>
<rect x="1252.97" y="460.40" width="11.5" height="0.6" fill="#fff" opacity=".2"/>
<rect x="1267.46" y="266.52" width="11.5" height="15.29" fill="#f2aa9a"/>
<rect x="1267.46" y="281.81" width="11.5" height="15.45" fill="#e65a35"/>
<rect x="1267.46" y="297.26" width="11.5" height="19.65" fill="#fcebcc"/>
<rect x="1267.46" y="316.91" width="11.5" height="15.79" fill="#faDDa0"/>
<rect x="1267.46" y="332.70" width="11.5" height="10.08" fill="#f8c55e"/>
<rect x="1267.46" y="342.78" width="11.5" height="9.07" fill="#ffaa00"/>
<rect x="1267.46" y="351.85" width="11.5" height="7.22" fill="#e87005"/>
<rect x="1267.46" y="359.08" width="11.5" height="18.81" fill="#d5d5fa"/>
<rect x="1267.46" y="377.89" width="11.5" height="13.94" fill="#a2a2f2"/>
<rect x="1267.46" y="391.83" width="11.5" height="15.12" fill="#6064ee"/>
<rect x="1267.46" y="406.95" width="11.5" height="17.13" fill="#1f1fae"/>
<rect x="1267.46" y="424.08" width="11.5" height="11.09" fill="#deeae6"/>
<rect x="1267.46" y="435.17" width="11.5" height="12.60" fill="#a9c9bd"/>
<rect x="1267.46" y="447.76" width="11.5" height="12.93" fill="#78ac9a"/>
<rect x="1267.46" y="460.70" width="11.5" height="12.09" fill="#76aa98"/>
<rect x="1267.46" y="472.79" width="11.5" height="3.86" fill="#2e9a77"/>
<rect x="1267.46" y="281.51" width="11.5" height="0.6" fill="#fff" opacity=".2"/>
<rect x="1267.46" y="296.96" width="11.5" height="0.6" fill="#fff" opacity=".2"/>
<rect x="1267.46" y="316.61" width="11.5" height="0.6" fill="#fff" opacity=".2"/>
<rect x="1267.46" y="332.40" width="11.5" height="0.6" fill="#fff" opacity=".2"/>
<rect x="1267.46" y="342.48" width="11.5" height="0.6" fill="#fff" opacity=".2"/>
<rect x="1267.46" y="351.55" width="11.5" height="0.6" fill="#fff" opacity=".2"/>
<rect x="1267.46" y="358.78" width="11.5" height="0.6" fill="#fff" opacity=".2"/>
<rect x="1267.46" y="377.59" width="11.5" height="0.6" fill="#fff" opacity=".2"/>
<rect x="1267.46" y="391.53" width="11.5" height="0.6" fill="#fff" opacity=".2"/>
<rect x="1267.46" y="406.65" width="11.5" height="0.6" fill="#fff" opacity=".2"/>
<rect x="1267.46" y="423.78" width="11.5" height="0.6" fill="#fff" opacity=".2"/>
<rect x="1267.46" y="434.87" width="11.5" height="0.6" fill="#fff" opacity=".2"/>
<rect x="1267.46" y="447.46" width="11.5" height="0.6" fill="#fff" opacity=".2"/>
<rect x="1267.46" y="460.40" width="11.5" height="0.6" fill="#fff" opacity=".2"/>
<rect x="1267.46" y="472.49" width="11.5" height="0.6" fill="#fff" opacity=".2"/>
<rect x="1281.95" y="322.46" width="11.5" height="15.29" fill="#f2aa9a"/>
<rect x="1281.95" y="337.74" width="11.5" height="15.45" fill="#e65a35"/>
<rect x="1281.95" y="353.20" width="11.5" height="19.32" fill="#fcebcc"/>
<rect x="1281.95" y="372.51" width="11.5" height="16.29" fill="#faDDa0"/>
<rect x="1281.95" y="388.81" width="11.5" height="10.08" fill="#f8c55e"/>
<rect x="1281.95" y="398.88" width="11.5" height="4.20" fill="#ffaa00"/>
<rect x="1281.95" y="403.08" width="11.5" height="7.73" fill="#e87005"/>
<rect x="1281.95" y="410.81" width="11.5" height="11.25" fill="#d5d5fa"/>
<rect x="1281.95" y="422.06" width="11.5" height="7.05" fill="#a2a2f2"/>
<rect x="1281.95" y="429.12" width="11.5" height="3.02" fill="#6064ee"/>
<rect x="1281.95" y="432.14" width="11.5" height="10.08" fill="#1f1fae"/>
<rect x="1281.95" y="442.22" width="11.5" height="7.56" fill="#deeae6"/>
<rect x="1281.95" y="449.78" width="11.5" height="15.12" fill="#a9c9bd"/>
<rect x="1281.95" y="464.90" width="11.5" height="1.85" fill="#78ac9a"/>
<rect x="1281.95" y="466.75" width="11.5" height="2.02" fill="#76aa98"/>
<rect x="1281.95" y="468.76" width="11.5" height="7.89" fill="#2e9a77"/>
<rect x="1281.95" y="337.44" width="11.5" height="0.6" fill="#fff" opacity=".2"/>
<rect x="1281.95" y="352.90" width="11.5" height="0.6" fill="#fff" opacity=".2"/>
<rect x="1281.95" y="372.21" width="11.5" height="0.6" fill="#fff" opacity=".2"/>
<rect x="1281.95" y="388.51" width="11.5" height="0.6" fill="#fff" opacity=".2"/>
<rect x="1281.95" y="398.58" width="11.5" height="0.6" fill="#fff" opacity=".2"/>
<rect x="1281.95" y="402.78" width="11.5" height="0.6" fill="#fff" opacity=".2"/>
<rect x="1281.95" y="410.51" width="11.5" height="0.6" fill="#fff" opacity=".2"/>
<rect x="1281.95" y="421.76" width="11.5" height="0.6" fill="#fff" opacity=".2"/>
<rect x="1281.95" y="428.82" width="11.5" height="0.6" fill="#fff" opacity=".2"/>
<rect x="1281.95" y="431.84" width="11.5" height="0.6" fill="#fff" opacity=".2"/>
<rect x="1281.95" y="441.92" width="11.5" height="0.6" fill="#fff" opacity=".2"/>
<rect x="1281.95" y="449.48" width="11.5" height="0.6" fill="#fff" opacity=".2"/>
<rect x="1281.95" y="464.60" width="11.5" height="0.6" fill="#fff" opacity=".2"/>
<rect x="1281.95" y="466.45" width="11.5" height="0.6" fill="#fff" opacity=".2"/>
<rect x="1281.95" y="468.46" width="11.5" height="0.6" fill="#fff" opacity=".2"/>
<rect x="1296.44" y="350.17" width="11.5" height="15.62" fill="#f2aa9a"/>
<rect x="1296.44" y="365.79" width="11.5" height="15.12" fill="#e65a35"/>
<rect x="1296.44" y="380.91" width="11.5" height="11.76" fill="#fcebcc"/>
<rect x="1296.44" y="392.67" width="11.5" height="12.26" fill="#faDDa0"/>
<rect x="1296.44" y="404.93" width="11.5" height="4.87" fill="#f8c55e"/>
<rect x="1296.44" y="409.80" width="11.5" height="4.20" fill="#ffaa00"/>
<rect x="1296.44" y="414.00" width="11.5" height="9.41" fill="#e87005"/>
<rect x="1296.44" y="423.41" width="11.5" height="11.59" fill="#d5d5fa"/>
<rect x="1296.44" y="435.00" width="11.5" height="6.89" fill="#a2a2f2"/>
<rect x="1296.44" y="441.89" width="11.5" height="3.19" fill="#6064ee"/>
<rect x="1296.44" y="445.08" width="11.5" height="10.08" fill="#1f1fae"/>
<rect x="1296.44" y="455.16" width="11.5" height="3.86" fill="#deeae6"/>
<rect x="1296.44" y="459.02" width="11.5" height="5.88" fill="#a9c9bd"/>
<rect x="1296.44" y="464.90" width="11.5" height="1.85" fill="#78ac9a"/>
<rect x="1296.44" y="466.75" width="11.5" height="2.02" fill="#76aa98"/>
<rect x="1296.44" y="468.76" width="11.5" height="7.89" fill="#2e9a77"/>
<rect x="1296.44" y="365.49" width="11.5" height="0.6" fill="#fff" opacity=".2"/>
<rect x="1296.44" y="380.61" width="11.5" height="0.6" fill="#fff" opacity=".2"/>
<rect x="1296.44" y="392.37" width="11.5" height="0.6" fill="#fff" opacity=".2"/>
<rect x="1296.44" y="404.63" width="11.5" height="0.6" fill="#fff" opacity=".2"/>
<rect x="1296.44" y="409.50" width="11.5" height="0.6" fill="#fff" opacity=".2"/>
<rect x="1296.44" y="413.70" width="11.5" height="0.6" fill="#fff" opacity=".2"/>
<rect x="1296.44" y="423.11" width="11.5" height="0.6" fill="#fff" opacity=".2"/>
<rect x="1296.44" y="434.70" width="11.5" height="0.6" fill="#fff" opacity=".2"/>
<rect x="1296.44" y="441.59" width="11.5" height="0.6" fill="#fff" opacity=".2"/>
<rect x="1296.44" y="444.78" width="11.5" height="0.6" fill="#fff" opacity=".2"/>
<rect x="1296.44" y="454.86" width="11.5" height="0.6" fill="#fff" opacity=".2"/>
<rect x="1296.44" y="458.72" width="11.5" height="0.6" fill="#fff" opacity=".2"/>
<rect x="1296.44" y="464.60" width="11.5" height="0.6" fill="#fff" opacity=".2"/>
<rect x="1296.44" y="466.45" width="11.5" height="0.6" fill="#fff" opacity=".2"/>
<rect x="1296.44" y="468.46" width="11.5" height="0.6" fill="#fff" opacity=".2"/>
<rect x="1310.93" y="385.45" width="11.5" height="15.29" fill="#f2aa9a"/>
<rect x="1310.93" y="400.73" width="11.5" height="15.45" fill="#e65a35"/>
<rect x="1310.93" y="416.19" width="11.5" height="3.86" fill="#fcebcc"/>
<rect x="1310.93" y="420.05" width="11.5" height="4.03" fill="#faDDa0"/>
<rect x="1310.93" y="424.08" width="11.5" height="4.70" fill="#f8c55e"/>
<rect x="1310.93" y="428.78" width="11.5" height="4.70" fill="#ffaa00"/>
<rect x="1310.93" y="433.49" width="11.5" height="9.24" fill="#e87005"/>
<rect x="1310.93" y="442.73" width="11.5" height="4.20" fill="#d5d5fa"/>
<rect x="1310.93" y="446.92" width="11.5" height="3.19" fill="#a2a2f2"/>
<rect x="1310.93" y="450.12" width="11.5" height="3.02" fill="#6064ee"/>
<rect x="1310.93" y="453.14" width="11.5" height="10.08" fill="#1f1fae"/>
<rect x="1310.93" y="463.22" width="11.5" height="7.56" fill="#deeae6"/>
<rect x="1310.93" y="470.78" width="11.5" height="5.88" fill="#a9c9bd"/>
<rect x="1310.93" y="400.43" width="11.5" height="0.6" fill="#fff" opacity=".2"/>
<rect x="1310.93" y="415.89" width="11.5" height="0.6" fill="#fff" opacity=".2"/>
<rect x="1310.93" y="419.75" width="11.5" height="0.6" fill="#fff" opacity=".2"/>
<rect x="1310.93" y="423.78" width="11.5" height="0.6" fill="#fff" opacity=".2"/>
<rect x="1310.93" y="428.48" width="11.5" height="0.6" fill="#fff" opacity=".2"/>
<rect x="1310.93" y="433.19" width="11.5" height="0.6" fill="#fff" opacity=".2"/>
<rect x="1310.93" y="442.43" width="11.5" height="0.6" fill="#fff" opacity=".2"/>
<rect x="1310.93" y="446.62" width="11.5" height="0.6" fill="#fff" opacity=".2"/>
<rect x="1310.93" y="449.82" width="11.5" height="0.6" fill="#fff" opacity=".2"/>
<rect x="1310.93" y="452.84" width="11.5" height="0.6" fill="#fff" opacity=".2"/>
<rect x="1310.93" y="462.92" width="11.5" height="0.6" fill="#fff" opacity=".2"/>
<rect x="1310.93" y="470.48" width="11.5" height="0.6" fill="#fff" opacity=".2"/>
<rect x="1325.42" y="326.66" width="11.5" height="12.26" fill="#f2aa9a"/>
<rect x="1325.42" y="338.92" width="11.5" height="7.56" fill="#e65a35"/>
<rect x="1325.42" y="346.48" width="11.5" height="8.06" fill="#fcebcc"/>
<rect x="1325.42" y="354.54" width="11.5" height="8.40" fill="#faDDa0"/>
<rect x="1325.42" y="362.94" width="11.5" height="9.57" fill="#f8c55e"/>
<rect x="1325.42" y="372.51" width="11.5" height="8.73" fill="#ffaa00"/>
<rect x="1325.42" y="381.25" width="11.5" height="7.56" fill="#e87005"/>
<rect x="1325.42" y="388.81" width="11.5" height="14.78" fill="#d5d5fa"/>
<rect x="1325.42" y="403.59" width="11.5" height="14.28" fill="#a2a2f2"/>
<rect x="1325.42" y="417.87" width="11.5" height="15.12" fill="#6064ee"/>
<rect x="1325.42" y="432.98" width="11.5" height="13.94" fill="#1f1fae"/>
<rect x="1325.42" y="446.92" width="11.5" height="10.75" fill="#deeae6"/>
<rect x="1325.42" y="457.68" width="11.5" height="15.12" fill="#a9c9bd"/>
<rect x="1325.42" y="472.79" width="11.5" height="3.86" fill="#2e9a77"/>
<rect x="1325.42" y="338.62" width="11.5" height="0.6" fill="#fff" opacity=".2"/>
<rect x="1325.42" y="346.18" width="11.5" height="0.6" fill="#fff" opacity=".2"/>
<rect x="1325.42" y="354.24" width="11.5" height="0.6" fill="#fff" opacity=".2"/>
<rect x="1325.42" y="362.64" width="11.5" height="0.6" fill="#fff" opacity=".2"/>
<rect x="1325.42" y="372.21" width="11.5" height="0.6" fill="#fff" opacity=".2"/>
<rect x="1325.42" y="380.95" width="11.5" height="0.6" fill="#fff" opacity=".2"/>
<rect x="1325.42" y="388.51" width="11.5" height="0.6" fill="#fff" opacity=".2"/>
<rect x="1325.42" y="403.29" width="11.5" height="0.6" fill="#fff" opacity=".2"/>
<rect x="1325.42" y="417.57" width="11.5" height="0.6" fill="#fff" opacity=".2"/>
<rect x="1325.42" y="432.68" width="11.5" height="0.6" fill="#fff" opacity=".2"/>
<rect x="1325.42" y="446.62" width="11.5" height="0.6" fill="#fff" opacity=".2"/>
<rect x="1325.42" y="457.38" width="11.5" height="0.6" fill="#fff" opacity=".2"/>
<rect x="1339.91" y="290.04" width="11.5" height="12.26" fill="#f2aa9a"/>
<rect x="1339.91" y="302.30" width="11.5" height="15.12" fill="#e65a35"/>
<rect x="1339.91" y="317.42" width="11.5" height="11.09" fill="#fcebcc"/>
<rect x="1339.91" y="328.50" width="11.5" height="13.44" fill="#faDDa0"/>
<rect x="1339.91" y="341.94" width="11.5" height="9.07" fill="#f8c55e"/>
<rect x="1339.91" y="351.01" width="11.5" height="8.90" fill="#ffaa00"/>
<rect x="1339.91" y="359.91" width="11.5" height="3.86" fill="#e87005"/>
<rect x="1339.91" y="363.78" width="11.5" height="18.31" fill="#d5d5fa"/>
<rect x="1339.91" y="382.09" width="11.5" height="14.78" fill="#a2a2f2"/>
<rect x="1339.91" y="396.87" width="11.5" height="3.02" fill="#6064ee"/>
<rect x="1339.91" y="399.89" width="11.5" height="13.27" fill="#1f1fae"/>
<rect x="1339.91" y="413.16" width="11.5" height="10.92" fill="#deeae6"/>
<rect x="1339.91" y="424.08" width="11.5" height="15.12" fill="#a9c9bd"/>
<rect x="1339.91" y="439.20" width="11.5" height="13.10" fill="#78ac9a"/>
<rect x="1339.91" y="452.30" width="11.5" height="8.40" fill="#76aa98"/>
<rect x="1339.91" y="460.70" width="11.5" height="15.96" fill="#2e9a77"/>
<rect x="1339.91" y="302.00" width="11.5" height="0.6" fill="#fff" opacity=".2"/>
<rect x="1339.91" y="317.12" width="11.5" height="0.6" fill="#fff" opacity=".2"/>
<rect x="1339.91" y="328.20" width="11.5" height="0.6" fill="#fff" opacity=".2"/>
<rect x="1339.91" y="341.64" width="11.5" height="0.6" fill="#fff" opacity=".2"/>
<rect x="1339.91" y="350.71" width="11.5" height="0.6" fill="#fff" opacity=".2"/>
<rect x="1339.91" y="359.61" width="11.5" height="0.6" fill="#fff" opacity=".2"/>
<rect x="1339.91" y="363.48" width="11.5" height="0.6" fill="#fff" opacity=".2"/>
<rect x="1339.91" y="381.79" width="11.5" height="0.6" fill="#fff" opacity=".2"/>
<rect x="1339.91" y="396.57" width="11.5" height="0.6" fill="#fff" opacity=".2"/>
<rect x="1339.91" y="399.59" width="11.5" height="0.6" fill="#fff" opacity=".2"/>
<rect x="1339.91" y="412.86" width="11.5" height="0.6" fill="#fff" opacity=".2"/>
<rect x="1339.91" y="423.78" width="11.5" height="0.6" fill="#fff" opacity=".2"/>
<rect x="1339.91" y="438.90" width="11.5" height="0.6" fill="#fff" opacity=".2"/>
<rect x="1339.91" y="452.00" width="11.5" height="0.6" fill="#fff" opacity=".2"/>
<rect x="1339.91" y="460.40" width="11.5" height="0.6" fill="#fff" opacity=".2"/>
<text transform="translate(348.45,481) rotate(-90)" text-anchor="end" class="xl">MEA18DP</text>
<text transform="translate(362.94,481) rotate(-90)" text-anchor="end" class="xl">SA13CM</text>
<text transform="translate(377.43,481) rotate(-90)" text-anchor="end" class="xl">SA15CM</text>
<text transform="translate(391.92,481) rotate(-90)" text-anchor="end" class="xl">SA1CM</text>
<text transform="translate(406.41,481) rotate(-90)" text-anchor="end" class="xl">SA5CM</text>
<text transform="translate(420.90,481) rotate(-90)" text-anchor="end" class="xl">AP12CM</text>
<text transform="translate(435.39,481) rotate(-90)" text-anchor="end" class="xl">E7CM</text>
<text transform="translate(449.88,481) rotate(-90)" text-anchor="end" class="xl">AP15CM</text>
<text transform="translate(464.37,481) rotate(-90)" text-anchor="end" class="xl">AP19CM</text>
<text transform="translate(478.86,481) rotate(-90)" text-anchor="end" class="xl">AP6CM</text>
<text transform="translate(493.35,481) rotate(-90)" text-anchor="end" class="xl">AP8CM</text>
<text transform="translate(507.84,481) rotate(-90)" text-anchor="end" class="xl">E10CM</text>
<text transform="translate(522.33,481) rotate(-90)" text-anchor="end" class="xl">E12CM</text>
<text transform="translate(536.82,481) rotate(-90)" text-anchor="end" class="xl">E13CM</text>
<text transform="translate(551.31,481) rotate(-90)" text-anchor="end" class="xl">E17CM</text>
<text transform="translate(565.80,481) rotate(-90)" text-anchor="end" class="xl">E18CM</text>
<text transform="translate(580.29,481) rotate(-90)" text-anchor="end" class="xl">E23CM</text>
<text transform="translate(594.78,481) rotate(-90)" text-anchor="end" class="xl">E2CM</text>
<text transform="translate(609.27,481) rotate(-90)" text-anchor="end" class="xl">E3CM</text>
<text transform="translate(623.76,481) rotate(-90)" text-anchor="end" class="xl">E4CM</text>
<text transform="translate(638.25,481) rotate(-90)" text-anchor="end" class="xl">E6CM</text>
<text transform="translate(652.74,481) rotate(-90)" text-anchor="end" class="xl">E8CM</text>
<text transform="translate(667.23,481) rotate(-90)" text-anchor="end" class="xl">E9CM</text>
<text transform="translate(681.72,481) rotate(-90)" text-anchor="end" class="xl">MEA10CM</text>
<text transform="translate(696.21,481) rotate(-90)" text-anchor="end" class="xl">MEA23CM</text>
<text transform="translate(710.70,481) rotate(-90)" text-anchor="end" class="xl">MEA6CM</text>
<text transform="translate(725.19,481) rotate(-90)" text-anchor="end" class="xl">SA11CM</text>
<text transform="translate(739.68,481) rotate(-90)" text-anchor="end" class="xl">SA12CM</text>
<text transform="translate(754.17,481) rotate(-90)" text-anchor="end" class="xl">SA17CM</text>
<text transform="translate(768.66,481) rotate(-90)" text-anchor="end" class="xl">SA19CM</text>
<text transform="translate(783.15,481) rotate(-90)" text-anchor="end" class="xl">SA4CM</text>
<text transform="translate(797.64,481) rotate(-90)" text-anchor="end" class="xl">AP11CM</text>
<text transform="translate(812.13,481) rotate(-90)" text-anchor="end" class="xl">AP18CM</text>
<text transform="translate(826.62,481) rotate(-90)" text-anchor="end" class="xl">AP24CM</text>
<text transform="translate(841.11,481) rotate(-90)" text-anchor="end" class="xl">MEA17CM</text>
<text transform="translate(855.60,481) rotate(-90)" text-anchor="end" class="xl">MEA19CM</text>
<text transform="translate(870.09,481) rotate(-90)" text-anchor="end" class="xl">MEA4CM</text>
<text transform="translate(884.58,481) rotate(-90)" text-anchor="end" class="xl">MEA9CM</text>
<text transform="translate(899.07,481) rotate(-90)" text-anchor="end" class="xl">SA8/9/10DP</text>
<text transform="translate(913.56,481) rotate(-90)" text-anchor="end" class="xl">AP20CM</text>
<text transform="translate(928.05,481) rotate(-90)" text-anchor="end" class="xl">MEA12CM</text>
<text transform="translate(942.54,481) rotate(-90)" text-anchor="end" class="xl">AP14CM</text>
<text transform="translate(957.03,481) rotate(-90)" text-anchor="end" class="xl">AP22CM</text>
<text transform="translate(971.52,481) rotate(-90)" text-anchor="end" class="xl">E14CM</text>
<text transform="translate(986.01,481) rotate(-90)" text-anchor="end" class="xl">E16CM</text>
<text transform="translate(1000.50,481) rotate(-90)" text-anchor="end" class="xl">E19DP</text>
<text transform="translate(1014.99,481) rotate(-90)" text-anchor="end" class="xl">E22CM</text>
<text transform="translate(1029.48,481) rotate(-90)" text-anchor="end" class="xl">E25CM</text>
<text transform="translate(1043.97,481) rotate(-90)" text-anchor="end" class="xl">FA10DP</text>
<text transform="translate(1058.46,481) rotate(-90)" text-anchor="end" class="xl">FA11DP</text>
<text transform="translate(1072.95,481) rotate(-90)" text-anchor="end" class="xl">MEA13CM</text>
<text transform="translate(1087.44,481) rotate(-90)" text-anchor="end" class="xl">MEA21CM</text>
<text transform="translate(1101.93,481) rotate(-90)" text-anchor="end" class="xl">MEA24CM</text>
<text transform="translate(1116.42,481) rotate(-90)" text-anchor="end" class="xl">MEA25CM</text>
<text transform="translate(1130.91,481) rotate(-90)" text-anchor="end" class="xl">SA3CM</text>
<text transform="translate(1145.40,481) rotate(-90)" text-anchor="end" class="xl">SA7CM</text>
<text transform="translate(1159.89,481) rotate(-90)" text-anchor="end" class="xl">AP16CM</text>
<text transform="translate(1174.38,481) rotate(-90)" text-anchor="end" class="xl">AP1CM</text>
<text transform="translate(1188.87,481) rotate(-90)" text-anchor="end" class="xl">AP21CM</text>
<text transform="translate(1203.36,481) rotate(-90)" text-anchor="end" class="xl">AP25CM</text>
<text transform="translate(1217.85,481) rotate(-90)" text-anchor="end" class="xl">AP7CM</text>
<text transform="translate(1232.34,481) rotate(-90)" text-anchor="end" class="xl">AP9CM</text>
<text transform="translate(1246.83,481) rotate(-90)" text-anchor="end" class="xl">E10DP</text>
<text transform="translate(1261.32,481) rotate(-90)" text-anchor="end" class="xl">E11DP</text>
<text transform="translate(1275.81,481) rotate(-90)" text-anchor="end" class="xl">E13DP</text>
<text transform="translate(1290.30,481) rotate(-90)" text-anchor="end" class="xl">E15CM</text>
<text transform="translate(1304.79,481) rotate(-90)" text-anchor="end" class="xl">E15DP</text>
<text transform="translate(1319.28,481) rotate(-90)" text-anchor="end" class="xl">E16DP</text>
<text transform="translate(1333.77,481) rotate(-90)" text-anchor="end" class="xl">E17DP</text>
<text transform="translate(1348.26,481) rotate(-90)" text-anchor="end" class="xl">E1CM</text>
</svg>
<div class="abs" style="left:335px;top:543.4px;width:1022px;height:5.2px;background:#f3f3f3"></div>
<div class="abs" style="left:335px;top:543.4px;width:701px;height:5.2px;background:#c1c1c1"></div>
<div class="abs" style="left:175px;top:570.3px;width:1187.8px;height:320px;border:1px solid #ececec;border-radius:3px;background:#fff"></div>
<div class="th" style="left:164.8px;top:586.0px">Sherpa Partner ID</div>
<div class="th" style="left:233.4px;top:586.0px">Potential</div>
<div class="th" style="left:233.4px;top:598.0px">Score</div>
<div class="th" style="left:285.1px;top:586.0px">Co-</div>
<div class="th" style="left:285.1px;top:598.0px">Marketing</div>
<div class="th" style="left:285.1px;top:611.0px">Efforts</div>
<div class="th" style="left:342.5px;top:586.0px">Marketing</div>
<div class="th" style="left:342.5px;top:598.0px">Capacity</div>
<div class="th" style="left:400.5px;top:586.0px">Marketing</div>
<div class="th" style="left:400.5px;top:598.0px">Maturity</div>
<div class="th" style="left:455.5px;top:586.0px">Joint</div>
<div class="th" style="left:455.5px;top:598.0px">Customer</div>
<div class="th" style="left:455.5px;top:611.0px">Story</div>
<div class="th" style="left:510.7px;top:586.0px">Alignment</div>
<div class="th" style="left:571.0px;top:586.0px">Specialized</div>
<div class="th" style="left:636.0px;top:586.0px">Engagement</div>
<div class="th" style="left:696.9px;top:586.0px">QBR</div>
<div class="th" style="left:696.9px;top:598.0px">Cadence</div>
<div class="th" style="left:750.5px;top:586.0px">Targets</div>
<div class="th" style="left:750.5px;top:598.0px">in place</div>
<div class="th" style="left:806.5px;top:586.0px">Overall</div>
<div class="th" style="left:806.5px;top:598.0px">Attitude to</div>
<div class="th" style="left:806.5px;top:611.0px">Partnership</div>
<div class="th" style="left:861.0px;top:586.0px">Effort</div>
<div class="th" style="left:912.6px;top:586.0px">Vendor</div>
<div class="th" style="left:912.6px;top:598.0px">Sales</div>
<div class="th" style="left:912.6px;top:611.0px">Team</div>
<div class="th" style="left:964.2px;top:586.0px">Vendor</div>
<div class="th" style="left:964.2px;top:598.0px">Tech</div>
<div class="th" style="left:964.2px;top:611.0px">Team</div>
<div class="th" style="left:1014.2px;top:586.0px">Sales</div>
<div class="th" style="left:1014.2px;top:598.0px">Self-</div>
<div class="th" style="left:1014.2px;top:611.0px">Sufficient</div>
<div class="th" style="left:1067.8px;top:586.0px">Technical</div>
<div class="th" style="left:1067.8px;top:598.0px">Self-</div>
<div class="th" style="left:1067.8px;top:611.0px">Sufficient</div>
<div class="th" style="left:1125.5px;top:586.0px">% of</div>
<div class="th" style="left:1125.5px;top:598.0px">Business</div>
<div class="th" style="left:1125.5px;top:611.0px">Dedicated</div>
<div class="th" style="left:1125.5px;top:624.0px">to Product</div>
<div class="th" style="left:1125.5px;top:636.6px">Area</div>
<div class="th" style="left:1188.8px;top:586.0px">% of Product</div>
<div class="th" style="left:1188.8px;top:598.0px">Area</div>
<div class="th" style="left:1188.8px;top:611.0px">Dedicated to</div>
<div class="th" style="left:1188.8px;top:624.0px">Vendor</div>
<div class="pid" style="left:181px;top:674.6px;width:87.7px">AP11CM</div>
<div class="sc" style="left:270px;top:672.6px;width:44.2px">56.05</div>
<div style="position:absolute;left:318px;top:664px;width:54px;height:30px;background:#c7b9bb"></div>
<div style="position:absolute;left:372px;top:664px;width:61px;height:30px;background:#c0c5c3"></div>
<div style="position:absolute;left:433px;top:664px;width:55px;height:30px;background:#c7b9bb"></div>
<div style="position:absolute;left:488px;top:664px;width:55px;height:30px;background:#c0c5c3"></div>
<div style="position:absolute;left:543px;top:664px;width:56px;height:30px;background:#c7b9bb"></div>
<div style="position:absolute;left:599px;top:664px;width:64px;height:30px;background:#b26f7e"></div>
<div style="position:absolute;left:663px;top:664px;width:66px;height:30px;background:#c7b9bb"></div>
<div style="position:absolute;left:729px;top:664px;width:56px;height:30px;background:#cbcbcb"></div>
<div style="position:absolute;left:785px;top:664px;width:51px;height:30px;background:#c7b9bb"></div>
<div style="position:absolute;left:836px;top:664px;width:61px;height:30px;background:#cbcbcb"></div>
<div style="position:absolute;left:897px;top:664px;width:48px;height:30px;background:#bf9ea5"></div>
<div style="position:absolute;left:945px;top:664px;width:55px;height:30px;background:#86aa9b"></div>
<div style="position:absolute;left:1000px;top:664px;width:48px;height:30px;background:#86aa9b"></div>
<div style="position:absolute;left:1048px;top:664px;width:52px;height:30px;background:#c7b9bb"></div>
<div style="position:absolute;left:1100px;top:664px;width:55px;height:30px;background:#c7b9bb"></div>
<div style="position:absolute;left:1155px;top:664px;width:61px;height:30px;background:#cbcbcb"></div>
<div style="position:absolute;left:1216px;top:664px;width:66px;height:30px;background:#cbcbcb"></div>
<div style="position:absolute;left:181px;top:694px;width:137px;height:30px;background:#ededed"></div>
<div class="pid" style="left:181px;top:704.6px;width:87.7px">AP12CM</div>
<div class="sc" style="left:270px;top:702.6px;width:44.2px">87.88</div>
<div style="position:absolute;left:318px;top:694px;width:54px;height:30px;background:#a1b7ad"></div>
<div style="position:absolute;left:372px;top:694px;width:61px;height:30px;background:#86aa9b"></div>
<div style="position:absolute;left:433px;top:694px;width:55px;height:30px;background:#a1b7ad"></div>
<div style="position:absolute;left:488px;top:694px;width:55px;height:30px;background:#86aa9b"></div>
<div style="position:absolute;left:543px;top:694px;width:56px;height:30px;background:#86aa9b"></div>
<div style="position:absolute;left:599px;top:694px;width:64px;height:30px;background:#86aa9b"></div>
<div style="position:absolute;left:663px;top:694px;width:66px;height:30px;background:#a1b7ad"></div>
<div style="position:absolute;left:729px;top:694px;width:56px;height:30px;background:#86aa9b"></div>
<div style="position:absolute;left:785px;top:694px;width:51px;height:30px;background:#a1b7ad"></div>
<div style="position:absolute;left:836px;top:694px;width:61px;height:30px;background:#86aa9b"></div>
<div style="position:absolute;left:897px;top:694px;width:48px;height:30px;background:#bf9ea5"></div>
<div style="position:absolute;left:945px;top:694px;width:55px;height:30px;background:#c0c5c3"></div>
<div style="position:absolute;left:1000px;top:694px;width:48px;height:30px;background:#86aa9b"></div>
<div style="position:absolute;left:1048px;top:694px;width:52px;height:30px;background:#86aa9b"></div>
<div style="position:absolute;left:1100px;top:694px;width:55px;height:30px;background:#a1b7ad"></div>
<div style="position:absolute;left:1155px;top:694px;width:61px;height:30px;background:#a8bbb1"></div>
<div style="position:absolute;left:1216px;top:694px;width:66px;height:30px;background:#bf9ea5"></div>
<div class="pid" style="left:181px;top:734.6px;width:87.7px">AP14CM</div>
<div class="sc" style="left:270px;top:732.6px;width:44.2px">52.62</div>
<div style="position:absolute;left:318px;top:724px;width:54px;height:30px;background:#bd929a"></div>
<div style="position:absolute;left:372px;top:724px;width:61px;height:30px;background:#c7b9bb"></div>
<div style="position:absolute;left:433px;top:724px;width:55px;height:30px;background:#bd929a"></div>
<div style="position:absolute;left:488px;top:724px;width:55px;height:30px;background:#c0c5c3"></div>
<div style="position:absolute;left:543px;top:724px;width:56px;height:30px;background:#86aa9b"></div>
<div style="position:absolute;left:599px;top:724px;width:64px;height:30px;background:#bf9ea5"></div>
<div style="position:absolute;left:663px;top:724px;width:66px;height:30px;background:#c0c5c3"></div>
<div style="position:absolute;left:729px;top:724px;width:56px;height:30px;background:#86aa9b"></div>
<div style="position:absolute;left:785px;top:724px;width:51px;height:30px;background:#c7b9bb"></div>
<div style="position:absolute;left:836px;top:724px;width:61px;height:30px;background:#cbcbcb"></div>
<div style="position:absolute;left:897px;top:724px;width:48px;height:30px;background:#b26f7e"></div>
<div style="position:absolute;left:945px;top:724px;width:55px;height:30px;background:#c0c5c3"></div>
<div style="position:absolute;left:1000px;top:724px;width:48px;height:30px;background:#c0c5c3"></div>
<div style="position:absolute;left:1048px;top:724px;width:52px;height:30px;background:#c7b9bb"></div>
<div style="position:absolute;left:1100px;top:724px;width:55px;height:30px;background:#c7b9bb"></div>
<div style="position:absolute;left:1155px;top:724px;width:61px;height:30px;background:#cbcbcb"></div>
<div style="position:absolute;left:1216px;top:724px;width:66px;height:30px;background:#cbcbcb"></div>
<div style="position:absolute;left:181px;top:754px;width:137px;height:30px;background:#ededed"></div>
<div class="pid" style="left:181px;top:764.6px;width:87.7px">AP15CM</div>
<div class="sc" style="left:270px;top:762.6px;width:44.2px">61.15</div>
<div style="position:absolute;left:318px;top:754px;width:54px;height:30px;background:#c0c5c3"></div>
<div style="position:absolute;left:372px;top:754px;width:61px;height:30px;background:#c0c5c3"></div>
<div style="position:absolute;left:433px;top:754px;width:55px;height:30px;background:#c0c5c3"></div>
<div style="position:absolute;left:488px;top:754px;width:55px;height:30px;background:#a1b7ad"></div>
<div style="position:absolute;left:543px;top:754px;width:56px;height:30px;background:#a1b7ad"></div>
<div style="position:absolute;left:599px;top:754px;width:64px;height:30px;background:#a8bbb1"></div>
<div style="position:absolute;left:663px;top:754px;width:66px;height:30px;background:#c0c5c3"></div>
<div style="position:absolute;left:729px;top:754px;width:56px;height:30px;background:#bf9ea5"></div>
<div style="position:absolute;left:785px;top:754px;width:51px;height:30px;background:#a1b7ad"></div>
<div style="position:absolute;left:836px;top:754px;width:61px;height:30px;background:#a8bbb1"></div>
<div style="position:absolute;left:897px;top:754px;width:48px;height:30px;background:#bf9ea5"></div>
<div style="position:absolute;left:945px;top:754px;width:55px;height:30px;background:#c0c5c3"></div>
<div style="position:absolute;left:1000px;top:754px;width:48px;height:30px;background:#c0c5c3"></div>
<div style="position:absolute;left:1048px;top:754px;width:52px;height:30px;background:#c0c5c3"></div>
<div style="position:absolute;left:1100px;top:754px;width:55px;height:30px;background:#c7b9bb"></div>
<div style="position:absolute;left:1155px;top:754px;width:61px;height:30px;background:#b26f7e"></div>
<div style="position:absolute;left:1216px;top:754px;width:66px;height:30px;background:#bf9ea5"></div>
<div class="pid" style="left:181px;top:794.6px;width:87.7px">AP16CM</div>
<div class="sc" style="left:270px;top:792.6px;width:44.2px">34.87</div>
<div style="position:absolute;left:318px;top:784px;width:54px;height:31px;background:#b26f7e"></div>
<div style="position:absolute;left:372px;top:784px;width:61px;height:31px;background:#b26f7e"></div>
<div style="position:absolute;left:433px;top:784px;width:55px;height:31px;background:#bd929a"></div>
<div style="position:absolute;left:488px;top:784px;width:55px;height:31px;background:#bd929a"></div>
<div style="position:absolute;left:543px;top:784px;width:56px;height:31px;background:#bd929a"></div>
<div style="position:absolute;left:599px;top:784px;width:64px;height:31px;background:#b26f7e"></div>
<div style="position:absolute;left:663px;top:784px;width:66px;height:31px;background:#b26f7e"></div>
<div style="position:absolute;left:729px;top:784px;width:56px;height:31px;background:#b26f7e"></div>
<div style="position:absolute;left:785px;top:784px;width:51px;height:31px;background:#bd929a"></div>
<div style="position:absolute;left:836px;top:784px;width:61px;height:31px;background:#bf9ea5"></div>
<div style="position:absolute;left:897px;top:784px;width:48px;height:31px;background:#b26f7e"></div>
<div style="position:absolute;left:945px;top:784px;width:55px;height:31px;background:#c7b9bb"></div>
<div style="position:absolute;left:1000px;top:784px;width:48px;height:31px;background:#c0c5c3"></div>
<div style="position:absolute;left:1048px;top:784px;width:52px;height:31px;background:#bd929a"></div>
<div style="position:absolute;left:1100px;top:784px;width:55px;height:31px;background:#a1b7ad"></div>
<div style="position:absolute;left:1155px;top:784px;width:61px;height:31px;background:#86aa9b"></div>
<div style="position:absolute;left:1216px;top:784px;width:66px;height:31px;background:#86aa9b"></div>
<div style="position:absolute;left:181px;top:815px;width:137px;height:30px;background:#ededed"></div>
<div class="pid" style="left:181px;top:825.6px;width:87.7px">AP18CM</div>
<div class="sc" style="left:270px;top:823.6px;width:44.2px">65.01</div>
<div style="position:absolute;left:318px;top:815px;width:54px;height:30px;background:#c7b9bb"></div>
<div style="position:absolute;left:372px;top:815px;width:61px;height:30px;background:#bd929a"></div>
<div style="position:absolute;left:433px;top:815px;width:55px;height:30px;background:#c7b9bb"></div>
<div style="position:absolute;left:488px;top:815px;width:55px;height:30px;background:#c0c5c3"></div>
<div style="position:absolute;left:543px;top:815px;width:56px;height:30px;background:#a1b7ad"></div>
<div style="position:absolute;left:599px;top:815px;width:64px;height:30px;background:#cbcbcb"></div>
<div style="position:absolute;left:663px;top:815px;width:66px;height:30px;background:#a1b7ad"></div>
<div style="position:absolute;left:729px;top:815px;width:56px;height:30px;background:#86aa9b"></div>
<div style="position:absolute;left:785px;top:815px;width:51px;height:30px;background:#c0c5c3"></div>
<div style="position:absolute;left:836px;top:815px;width:61px;height:30px;background:#a8bbb1"></div>
<div style="position:absolute;left:897px;top:815px;width:48px;height:30px;background:#bf9ea5"></div>
<div style="position:absolute;left:945px;top:815px;width:55px;height:30px;background:#c7b9bb"></div>
<div style="position:absolute;left:1000px;top:815px;width:48px;height:30px;background:#86aa9b"></div>
<div style="position:absolute;left:1048px;top:815px;width:52px;height:30px;background:#c0c5c3"></div>
<div style="position:absolute;left:1100px;top:815px;width:55px;height:30px;background:#c0c5c3"></div>
<div style="position:absolute;left:1155px;top:815px;width:61px;height:30px;background:#a8bbb1"></div>
<div style="position:absolute;left:1216px;top:815px;width:66px;height:30px;background:#a8bbb1"></div>
<div class="pid" style="left:181px;top:855.6px;width:87.7px">AP19CM</div>
<div class="sc" style="left:270px;top:853.6px;width:44.2px">69.71</div>
<div style="position:absolute;left:318px;top:845px;width:54px;height:30px;background:#c0c5c3"></div>
<div style="position:absolute;left:372px;top:845px;width:61px;height:30px;background:#a1b7ad"></div>
<div style="position:absolute;left:433px;top:845px;width:55px;height:30px;background:#c0c5c3"></div>
<div style="position:absolute;left:488px;top:845px;width:55px;height:30px;background:#c0c5c3"></div>
<div style="position:absolute;left:543px;top:845px;width:56px;height:30px;background:#86aa9b"></div>
<div style="position:absolute;left:599px;top:845px;width:64px;height:30px;background:#a8bbb1"></div>
<div style="position:absolute;left:663px;top:845px;width:66px;height:30px;background:#c0c5c3"></div>
<div style="position:absolute;left:729px;top:845px;width:56px;height:30px;background:#86aa9b"></div>
<div style="position:absolute;left:785px;top:845px;width:51px;height:30px;background:#a1b7ad"></div>
<div style="position:absolute;left:836px;top:845px;width:61px;height:30px;background:#a8bbb1"></div>
<div style="position:absolute;left:897px;top:845px;width:48px;height:30px;background:#b26f7e"></div>
<div style="position:absolute;left:945px;top:845px;width:55px;height:30px;background:#c7b9bb"></div>
<div style="position:absolute;left:1000px;top:845px;width:48px;height:30px;background:#86aa9b"></div>
<div style="position:absolute;left:1048px;top:845px;width:52px;height:30px;background:#c0c5c3"></div>
<div style="position:absolute;left:1100px;top:845px;width:55px;height:30px;background:#c0c5c3"></div>
<div style="position:absolute;left:1155px;top:845px;width:61px;height:30px;background:#bf9ea5"></div>
<div style="position:absolute;left:1216px;top:845px;width:66px;height:30px;background:#cbcbcb"></div>
<div style="position:absolute;left:181px;top:875px;width:137px;height:30px;background:#ededed"></div>
<div class="pid" style="left:181px;top:885.6px;width:87.7px">AP1CM</div>
<div class="sc" style="left:270px;top:883.6px;width:44.2px">41.20</div>
<div style="position:absolute;left:318px;top:875px;width:54px;height:30px;background:#b26f7e"></div>
<div style="position:absolute;left:372px;top:875px;width:61px;height:30px;background:#b26f7e"></div>
<div style="position:absolute;left:433px;top:875px;width:55px;height:30px;background:#c7b9bb"></div>
<div style="position:absolute;left:488px;top:875px;width:55px;height:30px;background:#c7b9bb"></div>
<div style="position:absolute;left:543px;top:875px;width:56px;height:30px;background:#c7b9bb"></div>
<div style="position:absolute;left:599px;top:875px;width:64px;height:30px;background:#b26f7e"></div>
<div style="position:absolute;left:663px;top:875px;width:66px;height:30px;background:#c0c5c3"></div>
<div style="position:absolute;left:729px;top:875px;width:56px;height:30px;background:#c0c5c3"></div>
<div style="position:absolute;left:785px;top:875px;width:51px;height:30px;background:#c0c5c3"></div>
<div style="position:absolute;left:836px;top:875px;width:61px;height:30px;background:#c0c5c3"></div>
<div style="position:absolute;left:897px;top:875px;width:48px;height:30px;background:#b26f7e"></div>
<div style="position:absolute;left:945px;top:875px;width:55px;height:30px;background:#bd929a"></div>
<div style="position:absolute;left:1000px;top:875px;width:48px;height:30px;background:#c0c5c3"></div>
<div style="position:absolute;left:1048px;top:875px;width:52px;height:30px;background:#c0c5c3"></div>
<div style="position:absolute;left:1100px;top:875px;width:55px;height:30px;background:#c0c5c3"></div>
<div style="position:absolute;left:1155px;top:875px;width:61px;height:30px;background:#c7b9bb"></div>
<div style="position:absolute;left:1216px;top:875px;width:66px;height:30px;background:#c7b9bb"></div>
<div style="position:absolute;left:372px;top:664px;width:1px;height:225px;background:rgba(255,255,255,.14)"></div>
<div style="position:absolute;left:433px;top:664px;width:1px;height:225px;background:rgba(255,255,255,.14)"></div>
<div style="position:absolute;left:488px;top:664px;width:1px;height:225px;background:rgba(255,255,255,.14)"></div>
<div style="position:absolute;left:543px;top:664px;width:1px;height:225px;background:rgba(255,255,255,.14)"></div>
<div style="position:absolute;left:599px;top:664px;width:1px;height:225px;background:rgba(255,255,255,.14)"></div>
<div style="position:absolute;left:663px;top:664px;width:1px;height:225px;background:rgba(255,255,255,.8)"></div>
<div style="position:absolute;left:729px;top:664px;width:1px;height:225px;background:rgba(255,255,255,.14)"></div>
<div style="position:absolute;left:785px;top:664px;width:1px;height:225px;background:rgba(255,255,255,.14)"></div>
<div style="position:absolute;left:836px;top:664px;width:1px;height:225px;background:rgba(255,255,255,.14)"></div>
<div style="position:absolute;left:897px;top:664px;width:1px;height:225px;background:rgba(255,255,255,.14)"></div>
<div style="position:absolute;left:945px;top:664px;width:1px;height:225px;background:rgba(255,255,255,.14)"></div>
<div style="position:absolute;left:1000px;top:664px;width:1px;height:225px;background:rgba(255,255,255,.14)"></div>
<div style="position:absolute;left:1048px;top:664px;width:1px;height:225px;background:rgba(255,255,255,.14)"></div>
<div style="position:absolute;left:1100px;top:664px;width:1px;height:225px;background:rgba(255,255,255,.14)"></div>
<div style="position:absolute;left:1155px;top:664px;width:1px;height:225px;background:rgba(255,255,255,.14)"></div>
<div style="position:absolute;left:1216px;top:664px;width:1px;height:225px;background:rgba(255,255,255,.14)"></div>
<div style="position:absolute;left:318px;top:694px;width:964px;height:1px;background:rgba(255,255,255,.14)"></div>
<div style="position:absolute;left:318px;top:724px;width:964px;height:1px;background:rgba(255,255,255,.14)"></div>
<div style="position:absolute;left:318px;top:754px;width:964px;height:1px;background:rgba(255,255,255,.14)"></div>
<div style="position:absolute;left:318px;top:784px;width:964px;height:1px;background:rgba(255,255,255,.14)"></div>
<div style="position:absolute;left:318px;top:815px;width:964px;height:1px;background:rgba(255,255,255,.14)"></div>
<div style="position:absolute;left:318px;top:845px;width:964px;height:1px;background:rgba(255,255,255,.14)"></div>
<div style="position:absolute;left:318px;top:875px;width:964px;height:1px;background:rgba(255,255,255,.14)"></div>
<div style="position:absolute;left:181px;top:661.9px;width:1101px;height:1.5px;background:#f5dfa8"></div>
<div style="position:absolute;left:268px;top:662px;width:1.2px;height:226px;background:#f0c160"></div>
<div class="abs" style="left:1354.3px;top:576px;width:3.7px;height:312px;background:#adadad;border-radius:2px"></div>
<div class="abs" style="left:9px;top:876px;width:1363px;height:11px;background:linear-gradient(to bottom,rgba(104,114,160,.72),rgba(50,60,120,.9))"></div>
<div class="abs" style="left:3px;top:876px;width:6px;height:11px;background:#727a9c"></div>
<div class="abs" style="left:1372px;top:876px;width:6px;height:11px;background:#727a9c"></div>
<div class="abs" style="left:0;top:886px;width:1381px;height:7px;background:#212a5e;border-radius:0 0 5px 10px / 0 0 10px 10px"></div>
</body></html>
